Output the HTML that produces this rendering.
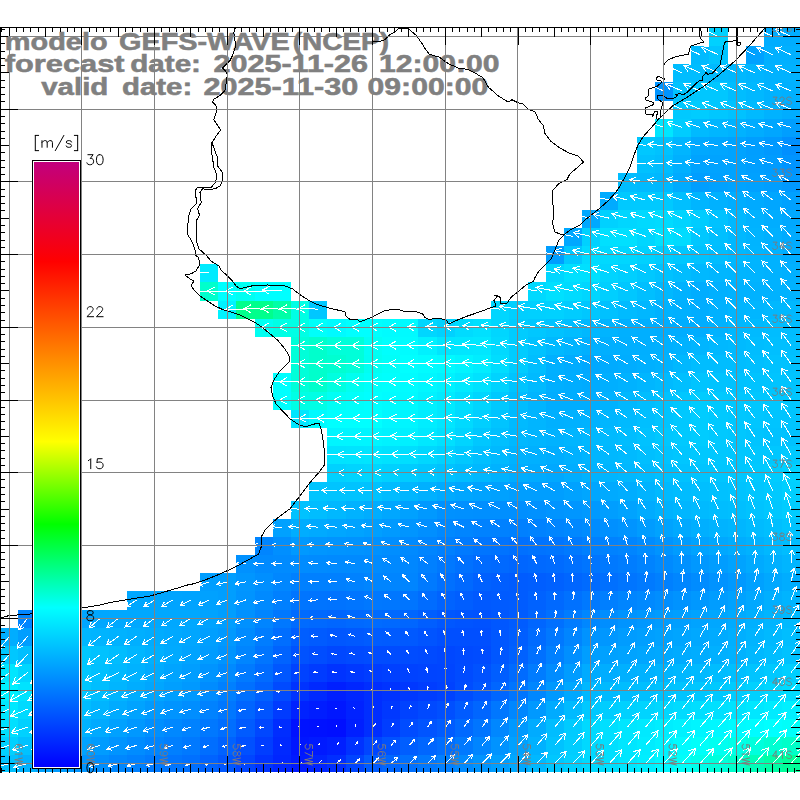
<!DOCTYPE html>
<html><head><meta charset="utf-8"><title>GEFS-WAVE wind</title>
<style>html,body{margin:0;padding:0;background:#fff}svg{display:block}text{font-family:"Liberation Sans",sans-serif}</style></head><body>
<svg width="800" height="800" viewBox="0 0 800 800">
<defs><linearGradient id="cb" x1="0" y1="1" x2="0" y2="0">
<stop offset="0.0000" stop-color="rgb(0,0,255)"/>
<stop offset="0.2632" stop-color="rgb(0,255,255)"/>
<stop offset="0.4013" stop-color="rgb(0,255,0)"/>
<stop offset="0.5378" stop-color="rgb(255,255,0)"/>
<stop offset="0.8355" stop-color="rgb(255,0,0)"/>
<stop offset="1.0000" stop-color="rgb(194,0,125)"/>
</linearGradient><clipPath id="mapclip"><rect x="0" y="28" width="800" height="744"/></clipPath></defs>
<rect x="0" y="0" width="800" height="800" fill="#fff"/>
<g shape-rendering="crispEdges">
<rect x="709" y="28" width="19" height="18" fill="#00d1ff"/>
<rect x="764" y="28" width="36" height="18" fill="#00adff"/>
<rect x="691" y="46" width="18" height="18" fill="#00baff"/>
<rect x="709" y="46" width="19" height="18" fill="#00c4ff"/>
<rect x="746" y="46" width="18" height="18" fill="#00a1ff"/>
<rect x="764" y="46" width="36" height="18" fill="#00b0ff"/>
<rect x="673" y="64" width="36" height="18" fill="#00bdff"/>
<rect x="709" y="64" width="19" height="18" fill="#00baff"/>
<rect x="728" y="64" width="18" height="18" fill="#00b8ff"/>
<rect x="746" y="64" width="18" height="18" fill="#00b5ff"/>
<rect x="764" y="64" width="36" height="18" fill="#00b2ff"/>
<rect x="655" y="82" width="18" height="19" fill="#0094ff"/>
<rect x="673" y="82" width="18" height="19" fill="#00c3ff"/>
<rect x="691" y="82" width="37" height="19" fill="#00c7ff"/>
<rect x="728" y="82" width="18" height="19" fill="#00bdff"/>
<rect x="746" y="82" width="18" height="19" fill="#00b8ff"/>
<rect x="764" y="82" width="18" height="19" fill="#00b2ff"/>
<rect x="782" y="82" width="18" height="19" fill="#00b0ff"/>
<rect x="673" y="101" width="18" height="18" fill="#00c9ff"/>
<rect x="691" y="101" width="18" height="18" fill="#00ccff"/>
<rect x="709" y="101" width="19" height="18" fill="#00c7ff"/>
<rect x="728" y="101" width="18" height="18" fill="#00c2ff"/>
<rect x="746" y="101" width="18" height="18" fill="#00baff"/>
<rect x="764" y="101" width="18" height="18" fill="#00b2ff"/>
<rect x="782" y="101" width="18" height="18" fill="#00adff"/>
<rect x="655" y="119" width="18" height="18" fill="#00e6ff"/>
<rect x="673" y="119" width="18" height="18" fill="#00ccff"/>
<rect x="691" y="119" width="18" height="18" fill="#00baff"/>
<rect x="709" y="119" width="19" height="18" fill="#00b6ff"/>
<rect x="728" y="119" width="18" height="18" fill="#00b2ff"/>
<rect x="746" y="119" width="18" height="18" fill="#00acff"/>
<rect x="764" y="119" width="18" height="18" fill="#00a6ff"/>
<rect x="782" y="119" width="18" height="18" fill="#009eff"/>
<rect x="637" y="137" width="18" height="18" fill="#00c7ff"/>
<rect x="655" y="137" width="18" height="18" fill="#00c2ff"/>
<rect x="673" y="137" width="18" height="18" fill="#00b5ff"/>
<rect x="691" y="137" width="18" height="18" fill="#00a8ff"/>
<rect x="709" y="137" width="19" height="18" fill="#00a6ff"/>
<rect x="728" y="137" width="18" height="18" fill="#00a3ff"/>
<rect x="746" y="137" width="18" height="18" fill="#009eff"/>
<rect x="764" y="137" width="18" height="18" fill="#0099ff"/>
<rect x="782" y="137" width="18" height="18" fill="#008fff"/>
<rect x="637" y="155" width="18" height="18" fill="#00c1ff"/>
<rect x="655" y="155" width="18" height="18" fill="#00bdff"/>
<rect x="673" y="155" width="18" height="18" fill="#00b0ff"/>
<rect x="691" y="155" width="55" height="18" fill="#00a3ff"/>
<rect x="746" y="155" width="18" height="18" fill="#009fff"/>
<rect x="764" y="155" width="18" height="18" fill="#009cff"/>
<rect x="782" y="155" width="18" height="18" fill="#0094ff"/>
<rect x="618" y="173" width="19" height="19" fill="#00bdff"/>
<rect x="637" y="173" width="18" height="19" fill="#00baff"/>
<rect x="655" y="173" width="18" height="19" fill="#00b8ff"/>
<rect x="673" y="173" width="18" height="19" fill="#00abff"/>
<rect x="691" y="173" width="18" height="19" fill="#009eff"/>
<rect x="709" y="173" width="19" height="19" fill="#00a1ff"/>
<rect x="728" y="173" width="18" height="19" fill="#00a3ff"/>
<rect x="746" y="173" width="18" height="19" fill="#00a1ff"/>
<rect x="764" y="173" width="18" height="19" fill="#009eff"/>
<rect x="782" y="173" width="18" height="19" fill="#0099ff"/>
<rect x="600" y="192" width="18" height="18" fill="#00abff"/>
<rect x="618" y="192" width="55" height="18" fill="#00c9ff"/>
<rect x="673" y="192" width="18" height="18" fill="#00bfff"/>
<rect x="691" y="192" width="18" height="18" fill="#00b5ff"/>
<rect x="709" y="192" width="19" height="18" fill="#00b1ff"/>
<rect x="728" y="192" width="18" height="18" fill="#00adff"/>
<rect x="746" y="192" width="18" height="18" fill="#00aaff"/>
<rect x="764" y="192" width="18" height="18" fill="#00a6ff"/>
<rect x="782" y="192" width="18" height="18" fill="#00a1ff"/>
<rect x="582" y="210" width="18" height="18" fill="#00a8ff"/>
<rect x="600" y="210" width="18" height="18" fill="#00d1ff"/>
<rect x="618" y="210" width="19" height="18" fill="#00d6ff"/>
<rect x="637" y="210" width="18" height="18" fill="#00d9ff"/>
<rect x="655" y="210" width="18" height="18" fill="#00dbff"/>
<rect x="673" y="210" width="18" height="18" fill="#00d4ff"/>
<rect x="691" y="210" width="18" height="18" fill="#00ccff"/>
<rect x="709" y="210" width="19" height="18" fill="#00c2ff"/>
<rect x="728" y="210" width="18" height="18" fill="#00b8ff"/>
<rect x="746" y="210" width="18" height="18" fill="#00b2ff"/>
<rect x="764" y="210" width="18" height="18" fill="#00adff"/>
<rect x="782" y="210" width="18" height="18" fill="#00a8ff"/>
<rect x="564" y="228" width="18" height="18" fill="#00a8ff"/>
<rect x="582" y="228" width="18" height="18" fill="#00d1ff"/>
<rect x="600" y="228" width="37" height="18" fill="#00e0ff"/>
<rect x="637" y="228" width="18" height="18" fill="#00d6ff"/>
<rect x="655" y="228" width="18" height="18" fill="#00e0ff"/>
<rect x="673" y="228" width="18" height="18" fill="#00dbff"/>
<rect x="691" y="228" width="18" height="18" fill="#00c7ff"/>
<rect x="709" y="228" width="19" height="18" fill="#00bfff"/>
<rect x="728" y="228" width="18" height="18" fill="#00b8ff"/>
<rect x="746" y="228" width="18" height="18" fill="#00b4ff"/>
<rect x="764" y="228" width="18" height="18" fill="#00b0ff"/>
<rect x="782" y="228" width="18" height="18" fill="#00abff"/>
<rect x="546" y="246" width="18" height="18" fill="#009eff"/>
<rect x="564" y="246" width="18" height="18" fill="#00c7ff"/>
<rect x="582" y="246" width="18" height="18" fill="#00dbff"/>
<rect x="600" y="246" width="18" height="18" fill="#00d9ff"/>
<rect x="618" y="246" width="19" height="18" fill="#00d6ff"/>
<rect x="637" y="246" width="18" height="18" fill="#00d1ff"/>
<rect x="655" y="246" width="18" height="18" fill="#00ccff"/>
<rect x="673" y="246" width="18" height="18" fill="#00c7ff"/>
<rect x="691" y="246" width="18" height="18" fill="#00c2ff"/>
<rect x="709" y="246" width="19" height="18" fill="#00bdff"/>
<rect x="728" y="246" width="18" height="18" fill="#00b8ff"/>
<rect x="746" y="246" width="18" height="18" fill="#00b5ff"/>
<rect x="764" y="246" width="18" height="18" fill="#00b2ff"/>
<rect x="782" y="246" width="18" height="18" fill="#00adff"/>
<rect x="200" y="264" width="18" height="18" fill="#00ebff"/>
<rect x="546" y="264" width="18" height="18" fill="#00d6ff"/>
<rect x="564" y="264" width="36" height="18" fill="#00e0ff"/>
<rect x="600" y="264" width="18" height="18" fill="#00d4ff"/>
<rect x="618" y="264" width="19" height="18" fill="#00cfff"/>
<rect x="637" y="264" width="18" height="18" fill="#00c8ff"/>
<rect x="655" y="264" width="18" height="18" fill="#00c2ff"/>
<rect x="673" y="264" width="18" height="18" fill="#00bdff"/>
<rect x="691" y="264" width="18" height="18" fill="#00b8ff"/>
<rect x="709" y="264" width="19" height="18" fill="#00b6ff"/>
<rect x="728" y="264" width="18" height="18" fill="#00b5ff"/>
<rect x="746" y="264" width="18" height="18" fill="#00b4ff"/>
<rect x="764" y="264" width="18" height="18" fill="#00b2ff"/>
<rect x="782" y="264" width="18" height="18" fill="#00b0ff"/>
<rect x="200" y="282" width="18" height="19" fill="#00ffcc"/>
<rect x="218" y="282" width="18" height="19" fill="#00ffff"/>
<rect x="236" y="282" width="19" height="19" fill="#00fff2"/>
<rect x="255" y="282" width="36" height="19" fill="#00ffff"/>
<rect x="528" y="282" width="18" height="19" fill="#00d9ff"/>
<rect x="546" y="282" width="18" height="19" fill="#00e0ff"/>
<rect x="564" y="282" width="18" height="19" fill="#00dbff"/>
<rect x="582" y="282" width="18" height="19" fill="#00d6ff"/>
<rect x="600" y="282" width="18" height="19" fill="#00cfff"/>
<rect x="618" y="282" width="19" height="19" fill="#00c7ff"/>
<rect x="637" y="282" width="18" height="19" fill="#00bfff"/>
<rect x="655" y="282" width="18" height="19" fill="#00b8ff"/>
<rect x="673" y="282" width="18" height="19" fill="#00b2ff"/>
<rect x="691" y="282" width="18" height="19" fill="#00adff"/>
<rect x="709" y="282" width="19" height="19" fill="#00b0ff"/>
<rect x="728" y="282" width="72" height="19" fill="#00b2ff"/>
<rect x="218" y="301" width="18" height="18" fill="#00f2ff"/>
<rect x="236" y="301" width="37" height="18" fill="#00ff8c"/>
<rect x="273" y="301" width="18" height="18" fill="#00ffa6"/>
<rect x="291" y="301" width="18" height="18" fill="#00ffe5"/>
<rect x="309" y="301" width="18" height="18" fill="#00c7ff"/>
<rect x="491" y="301" width="18" height="18" fill="#00d6ff"/>
<rect x="509" y="301" width="19" height="18" fill="#00cfff"/>
<rect x="528" y="301" width="18" height="18" fill="#00d0ff"/>
<rect x="546" y="301" width="18" height="18" fill="#00d1ff"/>
<rect x="564" y="301" width="18" height="18" fill="#00ccff"/>
<rect x="582" y="301" width="18" height="18" fill="#00c7ff"/>
<rect x="600" y="301" width="18" height="18" fill="#00c1ff"/>
<rect x="618" y="301" width="19" height="18" fill="#00bbff"/>
<rect x="637" y="301" width="18" height="18" fill="#00b7ff"/>
<rect x="655" y="301" width="18" height="18" fill="#00b2ff"/>
<rect x="673" y="301" width="18" height="18" fill="#00b0ff"/>
<rect x="691" y="301" width="18" height="18" fill="#00adff"/>
<rect x="709" y="301" width="19" height="18" fill="#00b1ff"/>
<rect x="728" y="301" width="18" height="18" fill="#00b5ff"/>
<rect x="746" y="301" width="18" height="18" fill="#00b6ff"/>
<rect x="764" y="301" width="36" height="18" fill="#00b8ff"/>
<rect x="255" y="319" width="18" height="18" fill="#00fff2"/>
<rect x="273" y="319" width="36" height="18" fill="#00ffe5"/>
<rect x="309" y="319" width="18" height="18" fill="#00fffa"/>
<rect x="327" y="319" width="19" height="18" fill="#00faff"/>
<rect x="346" y="319" width="36" height="18" fill="#00ffff"/>
<rect x="382" y="319" width="18" height="18" fill="#00fcff"/>
<rect x="400" y="319" width="18" height="18" fill="#00faff"/>
<rect x="418" y="319" width="19" height="18" fill="#00d6ff"/>
<rect x="437" y="319" width="18" height="18" fill="#00d1ff"/>
<rect x="455" y="319" width="18" height="18" fill="#00dbff"/>
<rect x="473" y="319" width="18" height="18" fill="#00e0ff"/>
<rect x="491" y="319" width="18" height="18" fill="#00d6ff"/>
<rect x="509" y="319" width="19" height="18" fill="#00ccff"/>
<rect x="528" y="319" width="18" height="18" fill="#00c7ff"/>
<rect x="546" y="319" width="18" height="18" fill="#00c2ff"/>
<rect x="564" y="319" width="18" height="18" fill="#00bdff"/>
<rect x="582" y="319" width="18" height="18" fill="#00b8ff"/>
<rect x="600" y="319" width="18" height="18" fill="#00b4ff"/>
<rect x="618" y="319" width="19" height="18" fill="#00b0ff"/>
<rect x="637" y="319" width="18" height="18" fill="#00afff"/>
<rect x="655" y="319" width="54" height="18" fill="#00adff"/>
<rect x="709" y="319" width="19" height="18" fill="#00b2ff"/>
<rect x="728" y="319" width="18" height="18" fill="#00b8ff"/>
<rect x="746" y="319" width="18" height="18" fill="#00baff"/>
<rect x="764" y="319" width="36" height="18" fill="#00bdff"/>
<rect x="291" y="337" width="18" height="18" fill="#00ffd9"/>
<rect x="309" y="337" width="18" height="18" fill="#00ffcc"/>
<rect x="327" y="337" width="37" height="18" fill="#00ffd9"/>
<rect x="364" y="337" width="18" height="18" fill="#00fff5"/>
<rect x="382" y="337" width="18" height="18" fill="#00fffd"/>
<rect x="400" y="337" width="18" height="18" fill="#00fcff"/>
<rect x="418" y="337" width="19" height="18" fill="#00f1ff"/>
<rect x="437" y="337" width="18" height="18" fill="#00e5ff"/>
<rect x="455" y="337" width="18" height="18" fill="#00e6ff"/>
<rect x="473" y="337" width="18" height="18" fill="#00e7ff"/>
<rect x="491" y="337" width="18" height="18" fill="#00d9ff"/>
<rect x="509" y="337" width="19" height="18" fill="#00ccff"/>
<rect x="528" y="337" width="18" height="18" fill="#00c2ff"/>
<rect x="546" y="337" width="18" height="18" fill="#00b9ff"/>
<rect x="564" y="337" width="18" height="18" fill="#00b4ff"/>
<rect x="582" y="337" width="18" height="18" fill="#00b0ff"/>
<rect x="600" y="337" width="55" height="18" fill="#00afff"/>
<rect x="655" y="337" width="18" height="18" fill="#00b0ff"/>
<rect x="673" y="337" width="18" height="18" fill="#00b2ff"/>
<rect x="691" y="337" width="18" height="18" fill="#00b5ff"/>
<rect x="709" y="337" width="19" height="18" fill="#00b8ff"/>
<rect x="728" y="337" width="18" height="18" fill="#00baff"/>
<rect x="746" y="337" width="18" height="18" fill="#00bdff"/>
<rect x="764" y="337" width="36" height="18" fill="#00bfff"/>
<rect x="291" y="355" width="18" height="18" fill="#00ffd9"/>
<rect x="309" y="355" width="18" height="18" fill="#00ffcc"/>
<rect x="327" y="355" width="19" height="18" fill="#00ffd1"/>
<rect x="346" y="355" width="18" height="18" fill="#00ffd9"/>
<rect x="364" y="355" width="18" height="18" fill="#00fff2"/>
<rect x="382" y="355" width="18" height="18" fill="#00fff9"/>
<rect x="400" y="355" width="18" height="18" fill="#00ffff"/>
<rect x="418" y="355" width="19" height="18" fill="#00fcff"/>
<rect x="437" y="355" width="18" height="18" fill="#00faff"/>
<rect x="455" y="355" width="18" height="18" fill="#00f4ff"/>
<rect x="473" y="355" width="18" height="18" fill="#00edff"/>
<rect x="491" y="355" width="18" height="18" fill="#00ddff"/>
<rect x="509" y="355" width="19" height="18" fill="#00ccff"/>
<rect x="528" y="355" width="18" height="18" fill="#00beff"/>
<rect x="546" y="355" width="18" height="18" fill="#00b0ff"/>
<rect x="564" y="355" width="18" height="18" fill="#00acff"/>
<rect x="582" y="355" width="18" height="18" fill="#00a8ff"/>
<rect x="600" y="355" width="18" height="18" fill="#00abff"/>
<rect x="618" y="355" width="19" height="18" fill="#00adff"/>
<rect x="637" y="355" width="18" height="18" fill="#00b0ff"/>
<rect x="655" y="355" width="18" height="18" fill="#00b2ff"/>
<rect x="673" y="355" width="18" height="18" fill="#00b8ff"/>
<rect x="691" y="355" width="55" height="18" fill="#00bdff"/>
<rect x="746" y="355" width="18" height="18" fill="#00bfff"/>
<rect x="764" y="355" width="36" height="18" fill="#00c2ff"/>
<rect x="273" y="373" width="18" height="19" fill="#00ffff"/>
<rect x="291" y="373" width="18" height="19" fill="#00ffd9"/>
<rect x="309" y="373" width="18" height="19" fill="#00ffcc"/>
<rect x="327" y="373" width="19" height="19" fill="#00ffe0"/>
<rect x="346" y="373" width="18" height="19" fill="#00fff0"/>
<rect x="364" y="373" width="18" height="19" fill="#00fffa"/>
<rect x="382" y="373" width="18" height="19" fill="#00fffd"/>
<rect x="400" y="373" width="18" height="19" fill="#00fcff"/>
<rect x="418" y="373" width="19" height="19" fill="#00f7ff"/>
<rect x="437" y="373" width="18" height="19" fill="#00f2ff"/>
<rect x="455" y="373" width="18" height="19" fill="#00eaff"/>
<rect x="473" y="373" width="18" height="19" fill="#00e2ff"/>
<rect x="491" y="373" width="18" height="19" fill="#00d3ff"/>
<rect x="509" y="373" width="19" height="19" fill="#00c4ff"/>
<rect x="528" y="373" width="18" height="19" fill="#00baff"/>
<rect x="546" y="373" width="18" height="19" fill="#00afff"/>
<rect x="564" y="373" width="18" height="19" fill="#00adff"/>
<rect x="582" y="373" width="18" height="19" fill="#00abff"/>
<rect x="600" y="373" width="18" height="19" fill="#00afff"/>
<rect x="618" y="373" width="19" height="19" fill="#00b2ff"/>
<rect x="637" y="373" width="18" height="19" fill="#00b6ff"/>
<rect x="655" y="373" width="18" height="19" fill="#00baff"/>
<rect x="673" y="373" width="18" height="19" fill="#00bfff"/>
<rect x="691" y="373" width="18" height="19" fill="#00c4ff"/>
<rect x="709" y="373" width="19" height="19" fill="#00c3ff"/>
<rect x="728" y="373" width="18" height="19" fill="#00c2ff"/>
<rect x="746" y="373" width="18" height="19" fill="#00c3ff"/>
<rect x="764" y="373" width="36" height="19" fill="#00c4ff"/>
<rect x="273" y="392" width="18" height="18" fill="#00ffff"/>
<rect x="291" y="392" width="36" height="18" fill="#00ffe5"/>
<rect x="327" y="392" width="19" height="18" fill="#00fff5"/>
<rect x="346" y="392" width="18" height="18" fill="#00fffa"/>
<rect x="364" y="392" width="18" height="18" fill="#00ffff"/>
<rect x="382" y="392" width="18" height="18" fill="#00fcff"/>
<rect x="400" y="392" width="18" height="18" fill="#00faff"/>
<rect x="418" y="392" width="19" height="18" fill="#00f2ff"/>
<rect x="437" y="392" width="18" height="18" fill="#00ebff"/>
<rect x="455" y="392" width="18" height="18" fill="#00e0ff"/>
<rect x="473" y="392" width="18" height="18" fill="#00d6ff"/>
<rect x="491" y="392" width="18" height="18" fill="#00c9ff"/>
<rect x="509" y="392" width="19" height="18" fill="#00bdff"/>
<rect x="528" y="392" width="18" height="18" fill="#00b5ff"/>
<rect x="546" y="392" width="54" height="18" fill="#00adff"/>
<rect x="600" y="392" width="18" height="18" fill="#00b2ff"/>
<rect x="618" y="392" width="19" height="18" fill="#00b8ff"/>
<rect x="637" y="392" width="18" height="18" fill="#00bdff"/>
<rect x="655" y="392" width="18" height="18" fill="#00c2ff"/>
<rect x="673" y="392" width="18" height="18" fill="#00c7ff"/>
<rect x="691" y="392" width="18" height="18" fill="#00ccff"/>
<rect x="709" y="392" width="19" height="18" fill="#00c9ff"/>
<rect x="728" y="392" width="72" height="18" fill="#00c7ff"/>
<rect x="291" y="410" width="18" height="18" fill="#00e6ff"/>
<rect x="309" y="410" width="18" height="18" fill="#00faff"/>
<rect x="327" y="410" width="55" height="18" fill="#00ffff"/>
<rect x="382" y="410" width="18" height="18" fill="#00f7ff"/>
<rect x="400" y="410" width="18" height="18" fill="#00f5ff"/>
<rect x="418" y="410" width="19" height="18" fill="#00edff"/>
<rect x="437" y="410" width="18" height="18" fill="#00e6ff"/>
<rect x="455" y="410" width="18" height="18" fill="#00daff"/>
<rect x="473" y="410" width="18" height="18" fill="#00cfff"/>
<rect x="491" y="410" width="18" height="18" fill="#00c4ff"/>
<rect x="509" y="410" width="19" height="18" fill="#00baff"/>
<rect x="528" y="410" width="18" height="18" fill="#00b5ff"/>
<rect x="546" y="410" width="18" height="18" fill="#00b0ff"/>
<rect x="564" y="410" width="18" height="18" fill="#00b1ff"/>
<rect x="582" y="410" width="18" height="18" fill="#00b2ff"/>
<rect x="600" y="410" width="18" height="18" fill="#00b6ff"/>
<rect x="618" y="410" width="19" height="18" fill="#00baff"/>
<rect x="637" y="410" width="18" height="18" fill="#00bfff"/>
<rect x="655" y="410" width="18" height="18" fill="#00c4ff"/>
<rect x="673" y="410" width="18" height="18" fill="#00c8ff"/>
<rect x="691" y="410" width="18" height="18" fill="#00ccff"/>
<rect x="709" y="410" width="19" height="18" fill="#00c9ff"/>
<rect x="728" y="410" width="18" height="18" fill="#00c7ff"/>
<rect x="746" y="410" width="18" height="18" fill="#00c6ff"/>
<rect x="764" y="410" width="36" height="18" fill="#00c4ff"/>
<rect x="327" y="428" width="55" height="18" fill="#00f5ff"/>
<rect x="382" y="428" width="18" height="18" fill="#00f2ff"/>
<rect x="400" y="428" width="18" height="18" fill="#00f0ff"/>
<rect x="418" y="428" width="19" height="18" fill="#00e8ff"/>
<rect x="437" y="428" width="18" height="18" fill="#00e0ff"/>
<rect x="455" y="428" width="18" height="18" fill="#00d4ff"/>
<rect x="473" y="428" width="18" height="18" fill="#00c7ff"/>
<rect x="491" y="428" width="18" height="18" fill="#00bfff"/>
<rect x="509" y="428" width="19" height="18" fill="#00b8ff"/>
<rect x="528" y="428" width="18" height="18" fill="#00b5ff"/>
<rect x="546" y="428" width="18" height="18" fill="#00b2ff"/>
<rect x="564" y="428" width="18" height="18" fill="#00b5ff"/>
<rect x="582" y="428" width="18" height="18" fill="#00b8ff"/>
<rect x="600" y="428" width="18" height="18" fill="#00baff"/>
<rect x="618" y="428" width="19" height="18" fill="#00bdff"/>
<rect x="637" y="428" width="18" height="18" fill="#00c2ff"/>
<rect x="655" y="428" width="18" height="18" fill="#00c7ff"/>
<rect x="673" y="428" width="18" height="18" fill="#00c9ff"/>
<rect x="691" y="428" width="18" height="18" fill="#00ccff"/>
<rect x="709" y="428" width="19" height="18" fill="#00c9ff"/>
<rect x="728" y="428" width="18" height="18" fill="#00c7ff"/>
<rect x="746" y="428" width="18" height="18" fill="#00c4ff"/>
<rect x="764" y="428" width="36" height="18" fill="#00c2ff"/>
<rect x="327" y="446" width="19" height="18" fill="#00e3ff"/>
<rect x="346" y="446" width="18" height="18" fill="#00e4ff"/>
<rect x="364" y="446" width="18" height="18" fill="#00e5ff"/>
<rect x="382" y="446" width="18" height="18" fill="#00e2ff"/>
<rect x="400" y="446" width="18" height="18" fill="#00deff"/>
<rect x="418" y="446" width="19" height="18" fill="#00d7ff"/>
<rect x="437" y="446" width="18" height="18" fill="#00d1ff"/>
<rect x="455" y="446" width="18" height="18" fill="#00c8ff"/>
<rect x="473" y="446" width="18" height="18" fill="#00bfff"/>
<rect x="491" y="446" width="18" height="18" fill="#00b9ff"/>
<rect x="509" y="446" width="19" height="18" fill="#00b2ff"/>
<rect x="528" y="446" width="18" height="18" fill="#00b0ff"/>
<rect x="546" y="446" width="18" height="18" fill="#00adff"/>
<rect x="564" y="446" width="18" height="18" fill="#00b1ff"/>
<rect x="582" y="446" width="18" height="18" fill="#00b5ff"/>
<rect x="600" y="446" width="18" height="18" fill="#00b8ff"/>
<rect x="618" y="446" width="19" height="18" fill="#00baff"/>
<rect x="637" y="446" width="18" height="18" fill="#00bfff"/>
<rect x="655" y="446" width="18" height="18" fill="#00c3ff"/>
<rect x="673" y="446" width="18" height="18" fill="#00c6ff"/>
<rect x="691" y="446" width="37" height="18" fill="#00c8ff"/>
<rect x="728" y="446" width="54" height="18" fill="#00c7ff"/>
<rect x="782" y="446" width="18" height="18" fill="#00c9ff"/>
<rect x="327" y="464" width="19" height="18" fill="#00d1ff"/>
<rect x="346" y="464" width="18" height="18" fill="#00d4ff"/>
<rect x="364" y="464" width="18" height="18" fill="#00d6ff"/>
<rect x="382" y="464" width="18" height="18" fill="#00d1ff"/>
<rect x="400" y="464" width="18" height="18" fill="#00ccff"/>
<rect x="418" y="464" width="19" height="18" fill="#00c7ff"/>
<rect x="437" y="464" width="18" height="18" fill="#00c2ff"/>
<rect x="455" y="464" width="18" height="18" fill="#00bdff"/>
<rect x="473" y="464" width="18" height="18" fill="#00b8ff"/>
<rect x="491" y="464" width="18" height="18" fill="#00b2ff"/>
<rect x="509" y="464" width="19" height="18" fill="#00adff"/>
<rect x="528" y="464" width="18" height="18" fill="#00abff"/>
<rect x="546" y="464" width="18" height="18" fill="#00a8ff"/>
<rect x="564" y="464" width="18" height="18" fill="#00adff"/>
<rect x="582" y="464" width="18" height="18" fill="#00b2ff"/>
<rect x="600" y="464" width="18" height="18" fill="#00b5ff"/>
<rect x="618" y="464" width="19" height="18" fill="#00b8ff"/>
<rect x="637" y="464" width="18" height="18" fill="#00bbff"/>
<rect x="655" y="464" width="18" height="18" fill="#00bfff"/>
<rect x="673" y="464" width="18" height="18" fill="#00c2ff"/>
<rect x="691" y="464" width="18" height="18" fill="#00c4ff"/>
<rect x="709" y="464" width="19" height="18" fill="#00c6ff"/>
<rect x="728" y="464" width="18" height="18" fill="#00c7ff"/>
<rect x="746" y="464" width="18" height="18" fill="#00c9ff"/>
<rect x="764" y="464" width="18" height="18" fill="#00ccff"/>
<rect x="782" y="464" width="18" height="18" fill="#00d1ff"/>
<rect x="309" y="482" width="18" height="19" fill="#00c5ff"/>
<rect x="327" y="482" width="19" height="19" fill="#00c4ff"/>
<rect x="346" y="482" width="18" height="19" fill="#00c3ff"/>
<rect x="364" y="482" width="18" height="19" fill="#00c2ff"/>
<rect x="382" y="482" width="18" height="19" fill="#00bcff"/>
<rect x="400" y="482" width="18" height="19" fill="#00b6ff"/>
<rect x="418" y="482" width="19" height="19" fill="#00b0ff"/>
<rect x="437" y="482" width="18" height="19" fill="#00aaff"/>
<rect x="455" y="482" width="18" height="19" fill="#00a6ff"/>
<rect x="473" y="482" width="18" height="19" fill="#00a3ff"/>
<rect x="491" y="482" width="18" height="19" fill="#00a1ff"/>
<rect x="509" y="482" width="55" height="19" fill="#009eff"/>
<rect x="564" y="482" width="18" height="19" fill="#00a2ff"/>
<rect x="582" y="482" width="18" height="19" fill="#00a6ff"/>
<rect x="600" y="482" width="18" height="19" fill="#00aaff"/>
<rect x="618" y="482" width="19" height="19" fill="#00adff"/>
<rect x="637" y="482" width="18" height="19" fill="#00b3ff"/>
<rect x="655" y="482" width="18" height="19" fill="#00b9ff"/>
<rect x="673" y="482" width="18" height="19" fill="#00bcff"/>
<rect x="691" y="482" width="18" height="19" fill="#00bfff"/>
<rect x="709" y="482" width="19" height="19" fill="#00c1ff"/>
<rect x="728" y="482" width="18" height="19" fill="#00c3ff"/>
<rect x="746" y="482" width="18" height="19" fill="#00c6ff"/>
<rect x="764" y="482" width="18" height="19" fill="#00c9ff"/>
<rect x="782" y="482" width="18" height="19" fill="#00cfff"/>
<rect x="291" y="501" width="18" height="18" fill="#00c2ff"/>
<rect x="309" y="501" width="18" height="18" fill="#00bdff"/>
<rect x="327" y="501" width="19" height="18" fill="#00b8ff"/>
<rect x="346" y="501" width="18" height="18" fill="#00b2ff"/>
<rect x="364" y="501" width="18" height="18" fill="#00adff"/>
<rect x="382" y="501" width="18" height="18" fill="#00a7ff"/>
<rect x="400" y="501" width="18" height="18" fill="#00a1ff"/>
<rect x="418" y="501" width="19" height="18" fill="#0099ff"/>
<rect x="437" y="501" width="18" height="18" fill="#0091ff"/>
<rect x="455" y="501" width="18" height="18" fill="#0090ff"/>
<rect x="473" y="501" width="55" height="18" fill="#008fff"/>
<rect x="528" y="501" width="18" height="18" fill="#0091ff"/>
<rect x="546" y="501" width="18" height="18" fill="#0094ff"/>
<rect x="564" y="501" width="18" height="18" fill="#0096ff"/>
<rect x="582" y="501" width="18" height="18" fill="#0099ff"/>
<rect x="600" y="501" width="18" height="18" fill="#009eff"/>
<rect x="618" y="501" width="19" height="18" fill="#00a3ff"/>
<rect x="637" y="501" width="18" height="18" fill="#00abff"/>
<rect x="655" y="501" width="18" height="18" fill="#00b2ff"/>
<rect x="673" y="501" width="18" height="18" fill="#00b6ff"/>
<rect x="691" y="501" width="18" height="18" fill="#00baff"/>
<rect x="709" y="501" width="19" height="18" fill="#00bdff"/>
<rect x="728" y="501" width="18" height="18" fill="#00bfff"/>
<rect x="746" y="501" width="18" height="18" fill="#00c3ff"/>
<rect x="764" y="501" width="18" height="18" fill="#00c7ff"/>
<rect x="782" y="501" width="18" height="18" fill="#00ccff"/>
<rect x="273" y="519" width="18" height="18" fill="#00a1ff"/>
<rect x="291" y="519" width="18" height="18" fill="#00adff"/>
<rect x="309" y="519" width="18" height="18" fill="#00aaff"/>
<rect x="327" y="519" width="19" height="18" fill="#00a6ff"/>
<rect x="346" y="519" width="18" height="18" fill="#00a3ff"/>
<rect x="364" y="519" width="18" height="18" fill="#009fff"/>
<rect x="382" y="519" width="18" height="18" fill="#009aff"/>
<rect x="400" y="519" width="18" height="18" fill="#0095ff"/>
<rect x="418" y="519" width="19" height="18" fill="#008fff"/>
<rect x="437" y="519" width="18" height="18" fill="#0088ff"/>
<rect x="455" y="519" width="18" height="18" fill="#0085ff"/>
<rect x="473" y="519" width="18" height="18" fill="#0082ff"/>
<rect x="491" y="519" width="18" height="18" fill="#0081ff"/>
<rect x="509" y="519" width="19" height="18" fill="#0080ff"/>
<rect x="528" y="519" width="18" height="18" fill="#0082ff"/>
<rect x="546" y="519" width="18" height="18" fill="#0085ff"/>
<rect x="564" y="519" width="18" height="18" fill="#0088ff"/>
<rect x="582" y="519" width="18" height="18" fill="#008cff"/>
<rect x="600" y="519" width="18" height="18" fill="#0090ff"/>
<rect x="618" y="519" width="19" height="18" fill="#0094ff"/>
<rect x="637" y="519" width="18" height="18" fill="#009cff"/>
<rect x="655" y="519" width="18" height="18" fill="#00a3ff"/>
<rect x="673" y="519" width="18" height="18" fill="#00a9ff"/>
<rect x="691" y="519" width="18" height="18" fill="#00afff"/>
<rect x="709" y="519" width="19" height="18" fill="#00b3ff"/>
<rect x="728" y="519" width="18" height="18" fill="#00b6ff"/>
<rect x="746" y="519" width="18" height="18" fill="#00bbff"/>
<rect x="764" y="519" width="18" height="18" fill="#00bfff"/>
<rect x="782" y="519" width="18" height="18" fill="#00c4ff"/>
<rect x="255" y="537" width="18" height="18" fill="#0085ff"/>
<rect x="273" y="537" width="18" height="18" fill="#008fff"/>
<rect x="291" y="537" width="18" height="18" fill="#0099ff"/>
<rect x="309" y="537" width="18" height="18" fill="#0096ff"/>
<rect x="327" y="537" width="19" height="18" fill="#0094ff"/>
<rect x="346" y="537" width="18" height="18" fill="#0093ff"/>
<rect x="364" y="537" width="18" height="18" fill="#0091ff"/>
<rect x="382" y="537" width="18" height="18" fill="#008eff"/>
<rect x="400" y="537" width="18" height="18" fill="#008aff"/>
<rect x="418" y="537" width="19" height="18" fill="#0085ff"/>
<rect x="437" y="537" width="18" height="18" fill="#0080ff"/>
<rect x="455" y="537" width="18" height="18" fill="#007aff"/>
<rect x="473" y="537" width="18" height="18" fill="#0075ff"/>
<rect x="491" y="537" width="18" height="18" fill="#0073ff"/>
<rect x="509" y="537" width="19" height="18" fill="#0070ff"/>
<rect x="528" y="537" width="18" height="18" fill="#0073ff"/>
<rect x="546" y="537" width="18" height="18" fill="#0075ff"/>
<rect x="564" y="537" width="18" height="18" fill="#007aff"/>
<rect x="582" y="537" width="18" height="18" fill="#0080ff"/>
<rect x="600" y="537" width="18" height="18" fill="#0082ff"/>
<rect x="618" y="537" width="19" height="18" fill="#0085ff"/>
<rect x="637" y="537" width="18" height="18" fill="#008cff"/>
<rect x="655" y="537" width="18" height="18" fill="#0094ff"/>
<rect x="673" y="537" width="18" height="18" fill="#009cff"/>
<rect x="691" y="537" width="18" height="18" fill="#00a3ff"/>
<rect x="709" y="537" width="19" height="18" fill="#00a8ff"/>
<rect x="728" y="537" width="18" height="18" fill="#00adff"/>
<rect x="746" y="537" width="18" height="18" fill="#00b2ff"/>
<rect x="764" y="537" width="18" height="18" fill="#00b8ff"/>
<rect x="782" y="537" width="18" height="18" fill="#00bdff"/>
<rect x="236" y="555" width="19" height="18" fill="#0091ff"/>
<rect x="255" y="555" width="18" height="18" fill="#008aff"/>
<rect x="273" y="555" width="18" height="18" fill="#008bff"/>
<rect x="291" y="555" width="18" height="18" fill="#008cff"/>
<rect x="309" y="555" width="18" height="18" fill="#008bff"/>
<rect x="327" y="555" width="37" height="18" fill="#008aff"/>
<rect x="364" y="555" width="18" height="18" fill="#008bff"/>
<rect x="382" y="555" width="18" height="18" fill="#0089ff"/>
<rect x="400" y="555" width="18" height="18" fill="#0087ff"/>
<rect x="418" y="555" width="19" height="18" fill="#0080ff"/>
<rect x="437" y="555" width="18" height="18" fill="#0078ff"/>
<rect x="455" y="555" width="18" height="18" fill="#0071ff"/>
<rect x="473" y="555" width="18" height="18" fill="#006bff"/>
<rect x="491" y="555" width="18" height="18" fill="#0069ff"/>
<rect x="509" y="555" width="19" height="18" fill="#0066ff"/>
<rect x="528" y="555" width="18" height="18" fill="#0069ff"/>
<rect x="546" y="555" width="18" height="18" fill="#006bff"/>
<rect x="564" y="555" width="18" height="18" fill="#0070ff"/>
<rect x="582" y="555" width="18" height="18" fill="#0075ff"/>
<rect x="600" y="555" width="18" height="18" fill="#0079ff"/>
<rect x="618" y="555" width="19" height="18" fill="#007dff"/>
<rect x="637" y="555" width="18" height="18" fill="#0083ff"/>
<rect x="655" y="555" width="18" height="18" fill="#008aff"/>
<rect x="673" y="555" width="18" height="18" fill="#0091ff"/>
<rect x="691" y="555" width="18" height="18" fill="#0098ff"/>
<rect x="709" y="555" width="19" height="18" fill="#009dff"/>
<rect x="728" y="555" width="18" height="18" fill="#00a3ff"/>
<rect x="746" y="555" width="18" height="18" fill="#00aaff"/>
<rect x="764" y="555" width="18" height="18" fill="#00b0ff"/>
<rect x="782" y="555" width="18" height="18" fill="#00b5ff"/>
<rect x="200" y="573" width="36" height="18" fill="#009eff"/>
<rect x="236" y="573" width="19" height="18" fill="#0096ff"/>
<rect x="255" y="573" width="18" height="18" fill="#008fff"/>
<rect x="273" y="573" width="18" height="18" fill="#0087ff"/>
<rect x="291" y="573" width="55" height="18" fill="#0080ff"/>
<rect x="346" y="573" width="18" height="18" fill="#0082ff"/>
<rect x="364" y="573" width="54" height="18" fill="#0085ff"/>
<rect x="418" y="573" width="19" height="18" fill="#007aff"/>
<rect x="437" y="573" width="18" height="18" fill="#0070ff"/>
<rect x="455" y="573" width="18" height="18" fill="#0069ff"/>
<rect x="473" y="573" width="18" height="18" fill="#0061ff"/>
<rect x="491" y="573" width="18" height="18" fill="#005eff"/>
<rect x="509" y="573" width="19" height="18" fill="#005cff"/>
<rect x="528" y="573" width="18" height="18" fill="#005eff"/>
<rect x="546" y="573" width="18" height="18" fill="#0061ff"/>
<rect x="564" y="573" width="18" height="18" fill="#0066ff"/>
<rect x="582" y="573" width="18" height="18" fill="#006bff"/>
<rect x="600" y="573" width="18" height="18" fill="#0070ff"/>
<rect x="618" y="573" width="19" height="18" fill="#0075ff"/>
<rect x="637" y="573" width="18" height="18" fill="#007aff"/>
<rect x="655" y="573" width="18" height="18" fill="#0080ff"/>
<rect x="673" y="573" width="18" height="18" fill="#0086ff"/>
<rect x="691" y="573" width="18" height="18" fill="#008cff"/>
<rect x="709" y="573" width="19" height="18" fill="#0093ff"/>
<rect x="728" y="573" width="18" height="18" fill="#0099ff"/>
<rect x="746" y="573" width="18" height="18" fill="#00a1ff"/>
<rect x="764" y="573" width="18" height="18" fill="#00a8ff"/>
<rect x="782" y="573" width="18" height="18" fill="#00adff"/>
<rect x="127" y="591" width="18" height="19" fill="#00a7ff"/>
<rect x="145" y="591" width="19" height="19" fill="#00a6ff"/>
<rect x="164" y="591" width="18" height="19" fill="#00a4ff"/>
<rect x="182" y="591" width="18" height="19" fill="#00a3ff"/>
<rect x="200" y="591" width="18" height="19" fill="#00a1ff"/>
<rect x="218" y="591" width="18" height="19" fill="#009eff"/>
<rect x="236" y="591" width="19" height="19" fill="#0094ff"/>
<rect x="255" y="591" width="18" height="19" fill="#008aff"/>
<rect x="273" y="591" width="18" height="19" fill="#0080ff"/>
<rect x="291" y="591" width="18" height="19" fill="#0075ff"/>
<rect x="309" y="591" width="18" height="19" fill="#0074ff"/>
<rect x="327" y="591" width="19" height="19" fill="#0073ff"/>
<rect x="346" y="591" width="18" height="19" fill="#0075ff"/>
<rect x="364" y="591" width="18" height="19" fill="#0078ff"/>
<rect x="382" y="591" width="18" height="19" fill="#0077ff"/>
<rect x="400" y="591" width="18" height="19" fill="#0075ff"/>
<rect x="418" y="591" width="19" height="19" fill="#006cff"/>
<rect x="437" y="591" width="18" height="19" fill="#0063ff"/>
<rect x="455" y="591" width="18" height="19" fill="#005eff"/>
<rect x="473" y="591" width="18" height="19" fill="#0059ff"/>
<rect x="491" y="591" width="18" height="19" fill="#005bff"/>
<rect x="509" y="591" width="19" height="19" fill="#005cff"/>
<rect x="528" y="591" width="18" height="19" fill="#0062ff"/>
<rect x="546" y="591" width="18" height="19" fill="#0069ff"/>
<rect x="564" y="591" width="18" height="19" fill="#0071ff"/>
<rect x="582" y="591" width="18" height="19" fill="#0079ff"/>
<rect x="600" y="591" width="18" height="19" fill="#007fff"/>
<rect x="618" y="591" width="19" height="19" fill="#0085ff"/>
<rect x="637" y="591" width="18" height="19" fill="#0089ff"/>
<rect x="655" y="591" width="18" height="19" fill="#008eff"/>
<rect x="673" y="591" width="18" height="19" fill="#0093ff"/>
<rect x="691" y="591" width="18" height="19" fill="#0098ff"/>
<rect x="709" y="591" width="19" height="19" fill="#009dff"/>
<rect x="728" y="591" width="18" height="19" fill="#00a2ff"/>
<rect x="746" y="591" width="18" height="19" fill="#00a8ff"/>
<rect x="764" y="591" width="18" height="19" fill="#00afff"/>
<rect x="782" y="591" width="18" height="19" fill="#00b4ff"/>
<rect x="18" y="610" width="18" height="18" fill="#0085ff"/>
<rect x="36" y="610" width="18" height="18" fill="#008fff"/>
<rect x="54" y="610" width="19" height="18" fill="#009aff"/>
<rect x="73" y="610" width="18" height="18" fill="#00a6ff"/>
<rect x="91" y="610" width="18" height="18" fill="#00a7ff"/>
<rect x="109" y="610" width="91" height="18" fill="#00a8ff"/>
<rect x="200" y="610" width="18" height="18" fill="#00a3ff"/>
<rect x="218" y="610" width="18" height="18" fill="#009eff"/>
<rect x="236" y="610" width="19" height="18" fill="#0091ff"/>
<rect x="255" y="610" width="18" height="18" fill="#0085ff"/>
<rect x="273" y="610" width="18" height="18" fill="#0078ff"/>
<rect x="291" y="610" width="18" height="18" fill="#006bff"/>
<rect x="309" y="610" width="18" height="18" fill="#0069ff"/>
<rect x="327" y="610" width="19" height="18" fill="#0066ff"/>
<rect x="346" y="610" width="18" height="18" fill="#0069ff"/>
<rect x="364" y="610" width="18" height="18" fill="#006bff"/>
<rect x="382" y="610" width="18" height="18" fill="#0069ff"/>
<rect x="400" y="610" width="18" height="18" fill="#0066ff"/>
<rect x="418" y="610" width="19" height="18" fill="#005eff"/>
<rect x="437" y="610" width="18" height="18" fill="#0057ff"/>
<rect x="455" y="610" width="18" height="18" fill="#0054ff"/>
<rect x="473" y="610" width="18" height="18" fill="#0052ff"/>
<rect x="491" y="610" width="18" height="18" fill="#0057ff"/>
<rect x="509" y="610" width="19" height="18" fill="#005cff"/>
<rect x="528" y="610" width="18" height="18" fill="#0066ff"/>
<rect x="546" y="610" width="18" height="18" fill="#0070ff"/>
<rect x="564" y="610" width="18" height="18" fill="#007cff"/>
<rect x="582" y="610" width="18" height="18" fill="#0087ff"/>
<rect x="600" y="610" width="18" height="18" fill="#008eff"/>
<rect x="618" y="610" width="19" height="18" fill="#0094ff"/>
<rect x="637" y="610" width="18" height="18" fill="#0098ff"/>
<rect x="655" y="610" width="18" height="18" fill="#009cff"/>
<rect x="673" y="610" width="18" height="18" fill="#009fff"/>
<rect x="691" y="610" width="18" height="18" fill="#00a3ff"/>
<rect x="709" y="610" width="19" height="18" fill="#00a7ff"/>
<rect x="728" y="610" width="18" height="18" fill="#00abff"/>
<rect x="746" y="610" width="18" height="18" fill="#00b0ff"/>
<rect x="764" y="610" width="18" height="18" fill="#00b5ff"/>
<rect x="782" y="610" width="18" height="18" fill="#00baff"/>
<rect x="0" y="628" width="18" height="18" fill="#00adff"/>
<rect x="18" y="628" width="18" height="18" fill="#009eff"/>
<rect x="36" y="628" width="18" height="18" fill="#00a3ff"/>
<rect x="54" y="628" width="19" height="18" fill="#00adff"/>
<rect x="73" y="628" width="18" height="18" fill="#00b6ff"/>
<rect x="91" y="628" width="18" height="18" fill="#00b4ff"/>
<rect x="109" y="628" width="18" height="18" fill="#00b2ff"/>
<rect x="127" y="628" width="18" height="18" fill="#00afff"/>
<rect x="145" y="628" width="19" height="18" fill="#00acff"/>
<rect x="164" y="628" width="18" height="18" fill="#00a9ff"/>
<rect x="182" y="628" width="18" height="18" fill="#00a6ff"/>
<rect x="200" y="628" width="18" height="18" fill="#009fff"/>
<rect x="218" y="628" width="18" height="18" fill="#0099ff"/>
<rect x="236" y="628" width="19" height="18" fill="#008bff"/>
<rect x="255" y="628" width="18" height="18" fill="#007dff"/>
<rect x="273" y="628" width="18" height="18" fill="#006eff"/>
<rect x="291" y="628" width="18" height="18" fill="#005eff"/>
<rect x="309" y="628" width="18" height="18" fill="#005bff"/>
<rect x="327" y="628" width="19" height="18" fill="#0057ff"/>
<rect x="346" y="628" width="18" height="18" fill="#0059ff"/>
<rect x="364" y="628" width="18" height="18" fill="#005cff"/>
<rect x="382" y="628" width="18" height="18" fill="#005bff"/>
<rect x="400" y="628" width="18" height="18" fill="#0059ff"/>
<rect x="418" y="628" width="19" height="18" fill="#0054ff"/>
<rect x="437" y="628" width="54" height="18" fill="#004fff"/>
<rect x="491" y="628" width="18" height="18" fill="#0057ff"/>
<rect x="509" y="628" width="19" height="18" fill="#005eff"/>
<rect x="528" y="628" width="18" height="18" fill="#006bff"/>
<rect x="546" y="628" width="18" height="18" fill="#0078ff"/>
<rect x="564" y="628" width="18" height="18" fill="#0085ff"/>
<rect x="582" y="628" width="18" height="18" fill="#0093ff"/>
<rect x="600" y="628" width="18" height="18" fill="#0097ff"/>
<rect x="618" y="628" width="19" height="18" fill="#009cff"/>
<rect x="637" y="628" width="18" height="18" fill="#009fff"/>
<rect x="655" y="628" width="18" height="18" fill="#00a2ff"/>
<rect x="673" y="628" width="18" height="18" fill="#00a5ff"/>
<rect x="691" y="628" width="18" height="18" fill="#00a8ff"/>
<rect x="709" y="628" width="19" height="18" fill="#00abff"/>
<rect x="728" y="628" width="18" height="18" fill="#00afff"/>
<rect x="746" y="628" width="18" height="18" fill="#00b4ff"/>
<rect x="764" y="628" width="18" height="18" fill="#00b9ff"/>
<rect x="782" y="628" width="18" height="18" fill="#00beff"/>
<rect x="0" y="646" width="18" height="18" fill="#00c7ff"/>
<rect x="18" y="646" width="18" height="18" fill="#00bfff"/>
<rect x="36" y="646" width="18" height="18" fill="#00b8ff"/>
<rect x="54" y="646" width="19" height="18" fill="#00bfff"/>
<rect x="73" y="646" width="18" height="18" fill="#00c7ff"/>
<rect x="91" y="646" width="18" height="18" fill="#00c2ff"/>
<rect x="109" y="646" width="18" height="18" fill="#00bdff"/>
<rect x="127" y="646" width="18" height="18" fill="#00b6ff"/>
<rect x="145" y="646" width="19" height="18" fill="#00b0ff"/>
<rect x="164" y="646" width="18" height="18" fill="#00aaff"/>
<rect x="182" y="646" width="18" height="18" fill="#00a3ff"/>
<rect x="200" y="646" width="18" height="18" fill="#009cff"/>
<rect x="218" y="646" width="18" height="18" fill="#0094ff"/>
<rect x="236" y="646" width="19" height="18" fill="#0085ff"/>
<rect x="255" y="646" width="18" height="18" fill="#0075ff"/>
<rect x="273" y="646" width="18" height="18" fill="#0063ff"/>
<rect x="291" y="646" width="18" height="18" fill="#0052ff"/>
<rect x="309" y="646" width="18" height="18" fill="#004dff"/>
<rect x="327" y="646" width="19" height="18" fill="#0047ff"/>
<rect x="346" y="646" width="18" height="18" fill="#004aff"/>
<rect x="364" y="646" width="54" height="18" fill="#004cff"/>
<rect x="418" y="646" width="19" height="18" fill="#004aff"/>
<rect x="437" y="646" width="18" height="18" fill="#0047ff"/>
<rect x="455" y="646" width="18" height="18" fill="#004aff"/>
<rect x="473" y="646" width="18" height="18" fill="#004cff"/>
<rect x="491" y="646" width="18" height="18" fill="#0057ff"/>
<rect x="509" y="646" width="19" height="18" fill="#0061ff"/>
<rect x="528" y="646" width="18" height="18" fill="#0070ff"/>
<rect x="546" y="646" width="18" height="18" fill="#0080ff"/>
<rect x="564" y="646" width="18" height="18" fill="#008fff"/>
<rect x="582" y="646" width="18" height="18" fill="#009eff"/>
<rect x="600" y="646" width="18" height="18" fill="#00a1ff"/>
<rect x="618" y="646" width="19" height="18" fill="#00a3ff"/>
<rect x="637" y="646" width="18" height="18" fill="#00a6ff"/>
<rect x="655" y="646" width="18" height="18" fill="#00a8ff"/>
<rect x="673" y="646" width="18" height="18" fill="#00abff"/>
<rect x="691" y="646" width="18" height="18" fill="#00adff"/>
<rect x="709" y="646" width="19" height="18" fill="#00b0ff"/>
<rect x="728" y="646" width="18" height="18" fill="#00b2ff"/>
<rect x="746" y="646" width="18" height="18" fill="#00b8ff"/>
<rect x="764" y="646" width="18" height="18" fill="#00bdff"/>
<rect x="782" y="646" width="18" height="18" fill="#00c2ff"/>
<rect x="0" y="664" width="18" height="18" fill="#00e6ff"/>
<rect x="18" y="664" width="18" height="18" fill="#00d6ff"/>
<rect x="36" y="664" width="55" height="18" fill="#00c7ff"/>
<rect x="91" y="664" width="18" height="18" fill="#00c0ff"/>
<rect x="109" y="664" width="18" height="18" fill="#00b9ff"/>
<rect x="127" y="664" width="18" height="18" fill="#00b2ff"/>
<rect x="145" y="664" width="19" height="18" fill="#00abff"/>
<rect x="164" y="664" width="18" height="18" fill="#00a4ff"/>
<rect x="182" y="664" width="18" height="18" fill="#009eff"/>
<rect x="200" y="664" width="18" height="18" fill="#0094ff"/>
<rect x="218" y="664" width="18" height="18" fill="#008aff"/>
<rect x="236" y="664" width="19" height="18" fill="#007aff"/>
<rect x="255" y="664" width="18" height="18" fill="#006bff"/>
<rect x="273" y="664" width="18" height="18" fill="#0057ff"/>
<rect x="291" y="664" width="18" height="18" fill="#0042ff"/>
<rect x="309" y="664" width="18" height="18" fill="#003bff"/>
<rect x="327" y="664" width="19" height="18" fill="#0033ff"/>
<rect x="346" y="664" width="18" height="18" fill="#0038ff"/>
<rect x="364" y="664" width="18" height="18" fill="#003dff"/>
<rect x="382" y="664" width="18" height="18" fill="#0040ff"/>
<rect x="400" y="664" width="18" height="18" fill="#0042ff"/>
<rect x="418" y="664" width="19" height="18" fill="#0044ff"/>
<rect x="437" y="664" width="18" height="18" fill="#0045ff"/>
<rect x="455" y="664" width="18" height="18" fill="#004bff"/>
<rect x="473" y="664" width="18" height="18" fill="#0052ff"/>
<rect x="491" y="664" width="18" height="18" fill="#005eff"/>
<rect x="509" y="664" width="19" height="18" fill="#006bff"/>
<rect x="528" y="664" width="18" height="18" fill="#007cff"/>
<rect x="546" y="664" width="18" height="18" fill="#008cff"/>
<rect x="564" y="664" width="18" height="18" fill="#009cff"/>
<rect x="582" y="664" width="18" height="18" fill="#00abff"/>
<rect x="600" y="664" width="18" height="18" fill="#00adff"/>
<rect x="618" y="664" width="19" height="18" fill="#00b0ff"/>
<rect x="637" y="664" width="18" height="18" fill="#00b2ff"/>
<rect x="655" y="664" width="18" height="18" fill="#00b5ff"/>
<rect x="673" y="664" width="18" height="18" fill="#00b8ff"/>
<rect x="691" y="664" width="18" height="18" fill="#00baff"/>
<rect x="709" y="664" width="19" height="18" fill="#00bdff"/>
<rect x="728" y="664" width="18" height="18" fill="#00bfff"/>
<rect x="746" y="664" width="18" height="18" fill="#00c4ff"/>
<rect x="764" y="664" width="18" height="18" fill="#00c9ff"/>
<rect x="782" y="664" width="18" height="18" fill="#00cfff"/>
<rect x="0" y="682" width="18" height="19" fill="#00f0ff"/>
<rect x="18" y="682" width="18" height="19" fill="#00e3ff"/>
<rect x="36" y="682" width="18" height="19" fill="#00d6ff"/>
<rect x="54" y="682" width="19" height="19" fill="#00cfff"/>
<rect x="73" y="682" width="18" height="19" fill="#00c7ff"/>
<rect x="91" y="682" width="18" height="19" fill="#00beff"/>
<rect x="109" y="682" width="18" height="19" fill="#00b5ff"/>
<rect x="127" y="682" width="18" height="19" fill="#00adff"/>
<rect x="145" y="682" width="19" height="19" fill="#00a6ff"/>
<rect x="164" y="682" width="18" height="19" fill="#009fff"/>
<rect x="182" y="682" width="18" height="19" fill="#0099ff"/>
<rect x="200" y="682" width="18" height="19" fill="#008cff"/>
<rect x="218" y="682" width="18" height="19" fill="#0080ff"/>
<rect x="236" y="682" width="19" height="19" fill="#0070ff"/>
<rect x="255" y="682" width="18" height="19" fill="#0061ff"/>
<rect x="273" y="682" width="18" height="19" fill="#004aff"/>
<rect x="291" y="682" width="18" height="19" fill="#0033ff"/>
<rect x="309" y="682" width="18" height="19" fill="#0029ff"/>
<rect x="327" y="682" width="19" height="19" fill="#001fff"/>
<rect x="346" y="682" width="18" height="19" fill="#0026ff"/>
<rect x="364" y="682" width="18" height="19" fill="#002eff"/>
<rect x="382" y="682" width="18" height="19" fill="#0033ff"/>
<rect x="400" y="682" width="18" height="19" fill="#0038ff"/>
<rect x="418" y="682" width="19" height="19" fill="#003dff"/>
<rect x="437" y="682" width="18" height="19" fill="#0042ff"/>
<rect x="455" y="682" width="18" height="19" fill="#004dff"/>
<rect x="473" y="682" width="18" height="19" fill="#0057ff"/>
<rect x="491" y="682" width="18" height="19" fill="#0066ff"/>
<rect x="509" y="682" width="19" height="19" fill="#0075ff"/>
<rect x="528" y="682" width="18" height="19" fill="#0087ff"/>
<rect x="546" y="682" width="18" height="19" fill="#0099ff"/>
<rect x="564" y="682" width="18" height="19" fill="#00a8ff"/>
<rect x="582" y="682" width="18" height="19" fill="#00b8ff"/>
<rect x="600" y="682" width="18" height="19" fill="#00baff"/>
<rect x="618" y="682" width="19" height="19" fill="#00bdff"/>
<rect x="637" y="682" width="18" height="19" fill="#00bfff"/>
<rect x="655" y="682" width="18" height="19" fill="#00c2ff"/>
<rect x="673" y="682" width="18" height="19" fill="#00c4ff"/>
<rect x="691" y="682" width="18" height="19" fill="#00c7ff"/>
<rect x="709" y="682" width="19" height="19" fill="#00c9ff"/>
<rect x="728" y="682" width="18" height="19" fill="#00ccff"/>
<rect x="746" y="682" width="18" height="19" fill="#00d1ff"/>
<rect x="764" y="682" width="18" height="19" fill="#00d6ff"/>
<rect x="782" y="682" width="18" height="19" fill="#00dbff"/>
<rect x="0" y="701" width="18" height="18" fill="#00e8ff"/>
<rect x="18" y="701" width="18" height="18" fill="#00daff"/>
<rect x="36" y="701" width="18" height="18" fill="#00ccff"/>
<rect x="54" y="701" width="19" height="18" fill="#00c4ff"/>
<rect x="73" y="701" width="18" height="18" fill="#00bdff"/>
<rect x="91" y="701" width="18" height="18" fill="#00b4ff"/>
<rect x="109" y="701" width="18" height="18" fill="#00abff"/>
<rect x="127" y="701" width="18" height="18" fill="#00a3ff"/>
<rect x="145" y="701" width="19" height="18" fill="#009aff"/>
<rect x="164" y="701" width="18" height="18" fill="#0094ff"/>
<rect x="182" y="701" width="18" height="18" fill="#008eff"/>
<rect x="200" y="701" width="18" height="18" fill="#0082ff"/>
<rect x="218" y="701" width="18" height="18" fill="#0077ff"/>
<rect x="236" y="701" width="19" height="18" fill="#0065ff"/>
<rect x="255" y="701" width="18" height="18" fill="#0054ff"/>
<rect x="273" y="701" width="18" height="18" fill="#003bff"/>
<rect x="291" y="701" width="18" height="18" fill="#0022ff"/>
<rect x="309" y="701" width="18" height="18" fill="#001dff"/>
<rect x="327" y="701" width="19" height="18" fill="#0017ff"/>
<rect x="346" y="701" width="18" height="18" fill="#0022ff"/>
<rect x="364" y="701" width="18" height="18" fill="#002eff"/>
<rect x="382" y="701" width="18" height="18" fill="#0038ff"/>
<rect x="400" y="701" width="18" height="18" fill="#0042ff"/>
<rect x="418" y="701" width="19" height="18" fill="#0049ff"/>
<rect x="437" y="701" width="18" height="18" fill="#004fff"/>
<rect x="455" y="701" width="18" height="18" fill="#005bff"/>
<rect x="473" y="701" width="18" height="18" fill="#0066ff"/>
<rect x="491" y="701" width="18" height="18" fill="#0077ff"/>
<rect x="509" y="701" width="19" height="18" fill="#0087ff"/>
<rect x="528" y="701" width="18" height="18" fill="#0099ff"/>
<rect x="546" y="701" width="18" height="18" fill="#00abff"/>
<rect x="564" y="701" width="18" height="18" fill="#00baff"/>
<rect x="582" y="701" width="18" height="18" fill="#00c8ff"/>
<rect x="600" y="701" width="18" height="18" fill="#00cdff"/>
<rect x="618" y="701" width="19" height="18" fill="#00d1ff"/>
<rect x="637" y="701" width="18" height="18" fill="#00d4ff"/>
<rect x="655" y="701" width="18" height="18" fill="#00d7ff"/>
<rect x="673" y="701" width="18" height="18" fill="#00dbff"/>
<rect x="691" y="701" width="18" height="18" fill="#00deff"/>
<rect x="709" y="701" width="19" height="18" fill="#00e0ff"/>
<rect x="728" y="701" width="18" height="18" fill="#00e3ff"/>
<rect x="746" y="701" width="18" height="18" fill="#00e7ff"/>
<rect x="764" y="701" width="18" height="18" fill="#00ebff"/>
<rect x="782" y="701" width="18" height="18" fill="#00f0ff"/>
<rect x="0" y="719" width="18" height="18" fill="#00e0ff"/>
<rect x="18" y="719" width="18" height="18" fill="#00d1ff"/>
<rect x="36" y="719" width="18" height="18" fill="#00c2ff"/>
<rect x="54" y="719" width="19" height="18" fill="#00baff"/>
<rect x="73" y="719" width="18" height="18" fill="#00b2ff"/>
<rect x="91" y="719" width="18" height="18" fill="#00aaff"/>
<rect x="109" y="719" width="18" height="18" fill="#00a1ff"/>
<rect x="127" y="719" width="18" height="18" fill="#0098ff"/>
<rect x="145" y="719" width="19" height="18" fill="#008fff"/>
<rect x="164" y="719" width="18" height="18" fill="#0088ff"/>
<rect x="182" y="719" width="18" height="18" fill="#0082ff"/>
<rect x="200" y="719" width="18" height="18" fill="#0078ff"/>
<rect x="218" y="719" width="18" height="18" fill="#006eff"/>
<rect x="236" y="719" width="19" height="18" fill="#005bff"/>
<rect x="255" y="719" width="18" height="18" fill="#0047ff"/>
<rect x="273" y="719" width="18" height="18" fill="#002dff"/>
<rect x="291" y="719" width="18" height="18" fill="#0012ff"/>
<rect x="309" y="719" width="18" height="18" fill="#0011ff"/>
<rect x="327" y="719" width="19" height="18" fill="#000fff"/>
<rect x="346" y="719" width="18" height="18" fill="#001fff"/>
<rect x="364" y="719" width="18" height="18" fill="#002eff"/>
<rect x="382" y="719" width="18" height="18" fill="#003dff"/>
<rect x="400" y="719" width="18" height="18" fill="#004cff"/>
<rect x="418" y="719" width="19" height="18" fill="#0054ff"/>
<rect x="437" y="719" width="18" height="18" fill="#005cff"/>
<rect x="455" y="719" width="18" height="18" fill="#0069ff"/>
<rect x="473" y="719" width="18" height="18" fill="#0075ff"/>
<rect x="491" y="719" width="18" height="18" fill="#0087ff"/>
<rect x="509" y="719" width="19" height="18" fill="#0099ff"/>
<rect x="528" y="719" width="18" height="18" fill="#00abff"/>
<rect x="546" y="719" width="18" height="18" fill="#00bdff"/>
<rect x="564" y="719" width="18" height="18" fill="#00cbff"/>
<rect x="582" y="719" width="18" height="18" fill="#00d9ff"/>
<rect x="600" y="719" width="18" height="18" fill="#00dfff"/>
<rect x="618" y="719" width="19" height="18" fill="#00e6ff"/>
<rect x="637" y="719" width="18" height="18" fill="#00e9ff"/>
<rect x="655" y="719" width="18" height="18" fill="#00edff"/>
<rect x="673" y="719" width="18" height="18" fill="#00f1ff"/>
<rect x="691" y="719" width="18" height="18" fill="#00f5ff"/>
<rect x="709" y="719" width="19" height="18" fill="#00f7ff"/>
<rect x="728" y="719" width="18" height="18" fill="#00faff"/>
<rect x="746" y="719" width="18" height="18" fill="#00fcff"/>
<rect x="764" y="719" width="18" height="18" fill="#00ffff"/>
<rect x="782" y="719" width="18" height="18" fill="#00fffa"/>
<rect x="0" y="737" width="18" height="18" fill="#00d1ff"/>
<rect x="18" y="737" width="18" height="18" fill="#00c2ff"/>
<rect x="36" y="737" width="18" height="18" fill="#00b2ff"/>
<rect x="54" y="737" width="19" height="18" fill="#00abff"/>
<rect x="73" y="737" width="18" height="18" fill="#00a3ff"/>
<rect x="91" y="737" width="18" height="18" fill="#009cff"/>
<rect x="109" y="737" width="18" height="18" fill="#0094ff"/>
<rect x="127" y="737" width="18" height="18" fill="#008cff"/>
<rect x="145" y="737" width="19" height="18" fill="#0085ff"/>
<rect x="164" y="737" width="18" height="18" fill="#007fff"/>
<rect x="182" y="737" width="18" height="18" fill="#0079ff"/>
<rect x="200" y="737" width="18" height="18" fill="#006eff"/>
<rect x="218" y="737" width="18" height="18" fill="#0062ff"/>
<rect x="236" y="737" width="19" height="18" fill="#0050ff"/>
<rect x="255" y="737" width="18" height="18" fill="#003dff"/>
<rect x="273" y="737" width="18" height="18" fill="#0029ff"/>
<rect x="291" y="737" width="18" height="18" fill="#0016ff"/>
<rect x="309" y="737" width="18" height="18" fill="#001aff"/>
<rect x="327" y="737" width="19" height="18" fill="#001fff"/>
<rect x="346" y="737" width="18" height="18" fill="#0032ff"/>
<rect x="364" y="737" width="18" height="18" fill="#0045ff"/>
<rect x="382" y="737" width="18" height="18" fill="#0052ff"/>
<rect x="400" y="737" width="18" height="18" fill="#005eff"/>
<rect x="418" y="737" width="19" height="18" fill="#0066ff"/>
<rect x="437" y="737" width="18" height="18" fill="#006eff"/>
<rect x="455" y="737" width="18" height="18" fill="#0079ff"/>
<rect x="473" y="737" width="18" height="18" fill="#0085ff"/>
<rect x="491" y="737" width="18" height="18" fill="#0093ff"/>
<rect x="509" y="737" width="19" height="18" fill="#00a1ff"/>
<rect x="528" y="737" width="18" height="18" fill="#00b1ff"/>
<rect x="546" y="737" width="18" height="18" fill="#00c2ff"/>
<rect x="564" y="737" width="18" height="18" fill="#00cdff"/>
<rect x="582" y="737" width="18" height="18" fill="#00d9ff"/>
<rect x="600" y="737" width="18" height="18" fill="#00dfff"/>
<rect x="618" y="737" width="19" height="18" fill="#00e6ff"/>
<rect x="637" y="737" width="18" height="18" fill="#00ecff"/>
<rect x="655" y="737" width="18" height="18" fill="#00f2ff"/>
<rect x="673" y="737" width="18" height="18" fill="#00fbff"/>
<rect x="691" y="737" width="18" height="18" fill="#00fffa"/>
<rect x="709" y="737" width="19" height="18" fill="#00fff1"/>
<rect x="728" y="737" width="18" height="18" fill="#00ffe8"/>
<rect x="746" y="737" width="18" height="18" fill="#00ffdd"/>
<rect x="764" y="737" width="18" height="18" fill="#00ffd2"/>
<rect x="782" y="737" width="18" height="18" fill="#00ffc9"/>
<rect x="0" y="755" width="18" height="17" fill="#00c2ff"/>
<rect x="18" y="755" width="18" height="17" fill="#00b2ff"/>
<rect x="36" y="755" width="18" height="17" fill="#00a3ff"/>
<rect x="54" y="755" width="19" height="17" fill="#009cff"/>
<rect x="73" y="755" width="18" height="17" fill="#0094ff"/>
<rect x="91" y="755" width="18" height="17" fill="#008eff"/>
<rect x="109" y="755" width="18" height="17" fill="#0087ff"/>
<rect x="127" y="755" width="18" height="17" fill="#0081ff"/>
<rect x="145" y="755" width="19" height="17" fill="#007aff"/>
<rect x="164" y="755" width="18" height="17" fill="#0075ff"/>
<rect x="182" y="755" width="18" height="17" fill="#0070ff"/>
<rect x="200" y="755" width="18" height="17" fill="#0063ff"/>
<rect x="218" y="755" width="18" height="17" fill="#0057ff"/>
<rect x="236" y="755" width="19" height="17" fill="#0045ff"/>
<rect x="255" y="755" width="18" height="17" fill="#0033ff"/>
<rect x="273" y="755" width="18" height="17" fill="#0026ff"/>
<rect x="291" y="755" width="18" height="17" fill="#001aff"/>
<rect x="309" y="755" width="18" height="17" fill="#0024ff"/>
<rect x="327" y="755" width="19" height="17" fill="#002eff"/>
<rect x="346" y="755" width="18" height="17" fill="#0045ff"/>
<rect x="364" y="755" width="18" height="17" fill="#005cff"/>
<rect x="382" y="755" width="18" height="17" fill="#0066ff"/>
<rect x="400" y="755" width="18" height="17" fill="#0070ff"/>
<rect x="418" y="755" width="19" height="17" fill="#0078ff"/>
<rect x="437" y="755" width="18" height="17" fill="#0080ff"/>
<rect x="455" y="755" width="18" height="17" fill="#008aff"/>
<rect x="473" y="755" width="18" height="17" fill="#0094ff"/>
<rect x="491" y="755" width="18" height="17" fill="#009eff"/>
<rect x="509" y="755" width="19" height="17" fill="#00a8ff"/>
<rect x="528" y="755" width="18" height="17" fill="#00b8ff"/>
<rect x="546" y="755" width="18" height="17" fill="#00c7ff"/>
<rect x="564" y="755" width="18" height="17" fill="#00d0ff"/>
<rect x="582" y="755" width="18" height="17" fill="#00d9ff"/>
<rect x="600" y="755" width="18" height="17" fill="#00dfff"/>
<rect x="618" y="755" width="19" height="17" fill="#00e6ff"/>
<rect x="637" y="755" width="18" height="17" fill="#00eeff"/>
<rect x="655" y="755" width="18" height="17" fill="#00f7ff"/>
<rect x="673" y="755" width="18" height="17" fill="#00fff9"/>
<rect x="691" y="755" width="18" height="17" fill="#00ffeb"/>
<rect x="709" y="755" width="19" height="17" fill="#00ffdb"/>
<rect x="728" y="755" width="18" height="17" fill="#00ffcc"/>
<rect x="746" y="755" width="18" height="17" fill="#00ffb9"/>
<rect x="764" y="755" width="18" height="17" fill="#00ffa6"/>
<rect x="782" y="755" width="18" height="17" fill="#00ff99"/>
</g>
<path clip-path="url(#mapclip)" d="M718.3 36.5L702.0 28.9M709.2 28.3L702.0 28.9L706.1 34.8M772.9 36.5L756.8 29.0M763.9 28.4L756.8 29.0L760.9 34.8M791.0 36.5L775.2 29.1M782.1 28.5L775.2 29.1L779.2 34.8M700.1 54.7L683.8 47.2M690.9 46.5L683.8 47.2L688.0 53.1M718.3 54.7L701.9 47.2M709.1 46.5L701.9 47.2L706.1 53.1M754.7 54.7L738.6 47.3M745.6 46.7L738.6 47.3L742.7 53.1M772.9 54.7L756.9 47.4M763.9 46.7L756.9 47.4L761.0 53.1M791.0 54.7L775.3 47.5M782.2 46.9L775.3 47.5L779.3 53.1M682.0 72.8L665.5 65.5M672.7 64.8L665.5 65.5L669.8 71.4M700.1 72.8L683.7 65.5M690.9 64.8L683.7 65.5L687.9 71.4M718.3 72.8L702.0 65.6M709.1 64.8L702.0 65.6L706.2 71.4M736.5 72.8L720.3 65.6M727.3 64.9L720.3 65.6L724.5 71.4M754.7 72.8L738.6 65.7M745.6 65.0L738.6 65.7L742.7 71.4M772.9 72.8L757.0 65.8M763.9 65.1L757.0 65.8L761.1 71.4M791.0 72.8L775.5 65.9M782.3 65.2L775.5 65.9L779.5 71.4M663.8 91.0L647.3 83.8M654.4 83.0L647.3 83.8L651.6 89.6M682.0 91.0L665.5 83.8M672.6 83.0L665.5 83.8L669.8 89.6M700.1 91.0L683.8 83.9M690.9 83.1L683.8 83.9L688.0 89.6M718.3 91.0L702.0 83.9M709.1 83.1L702.0 83.9L706.3 89.7M736.5 91.0L720.3 84.0M727.3 83.2L720.3 84.0L724.5 89.7M754.7 91.0L738.7 84.1M745.6 83.3L738.7 84.1L742.8 89.7M772.9 91.0L757.2 84.2M764.0 83.4L757.2 84.2L761.2 89.7M791.0 91.0L775.7 84.3M782.3 83.6L775.7 84.3L779.7 89.7M682.0 109.2L665.5 102.2M672.6 101.3L665.5 102.2L669.8 107.9M700.1 109.2L683.8 102.3M690.9 101.4L683.8 102.3L688.1 107.9M718.3 109.2L702.1 102.3M709.1 101.5L702.1 102.3L706.3 107.9M736.5 109.2L720.4 102.4M727.3 101.5L720.4 102.4L724.6 108.0M754.7 109.2L738.9 102.5M745.7 101.7L738.9 102.5L743.0 108.0M772.9 109.2L757.4 102.6M764.0 101.8L757.4 102.6L761.4 108.0M791.0 109.2L775.8 102.8M782.4 101.9L775.8 102.8L779.8 108.0M663.8 127.4L648.8 121.9M655.1 120.8L648.8 121.9L652.9 126.8M682.0 127.4L667.1 122.2M673.3 121.0L667.1 122.2L671.2 127.0M700.1 127.4L685.4 122.6M691.5 121.3L685.4 122.6L689.6 127.2M718.3 127.4L703.8 122.9M709.7 121.5L703.8 122.9L707.9 127.4M736.5 127.4L722.1 123.2M727.9 121.8L722.1 123.2L726.2 127.6M754.7 127.4L740.6 123.3M746.3 121.9L740.6 123.3L744.7 127.6M772.9 127.4L759.1 123.4M764.6 122.0L759.1 123.4L763.1 127.5M791.0 127.4L777.6 123.5M783.0 122.2L777.6 123.5L781.5 127.5M645.6 145.6L630.4 141.8M636.4 140.1L630.4 141.8L634.9 146.1M663.8 145.6L647.9 144.2M653.7 141.5L647.9 144.2L653.1 147.8M682.0 145.6L666.6 144.0M672.2 141.5L666.6 144.0L671.6 147.6M700.1 145.6L685.2 143.9M690.7 141.5L685.2 143.9L690.1 147.4M718.3 145.6L703.9 143.7M709.3 141.5L703.9 143.7L708.6 147.2M736.5 145.6L722.6 143.6M727.8 141.5L722.6 143.6L727.0 147.0M754.7 145.6L741.0 143.3M746.2 141.4L741.0 143.3L745.3 146.8M772.9 145.6L759.4 143.0M764.6 141.2L759.4 143.0L763.6 146.6M791.0 145.6L777.8 142.7M783.0 141.1L777.8 142.7L781.8 146.4M645.6 163.7L630.0 162.4M635.6 159.8L630.0 162.4L635.1 166.0M663.8 163.7L647.8 163.2M653.5 160.2L647.8 163.2L653.2 166.6M682.0 163.7L666.6 162.6M672.1 159.9L666.6 162.6L671.7 166.1M700.1 163.7L685.3 162.0M690.8 159.6L685.3 162.0L690.1 165.6M718.3 163.7L704.1 161.4M709.5 159.4L704.1 161.4L708.5 165.1M736.5 163.7L722.8 160.8M728.1 159.1L722.8 160.8L727.0 164.6M754.7 163.7L741.2 160.2M746.5 158.7L741.2 160.2L745.1 164.1M772.9 163.7L759.5 159.6M765.0 158.3L759.5 159.6L763.3 163.7M791.0 163.7L777.9 158.9M783.4 158.0L777.9 158.9L781.5 163.2M627.5 181.9L612.1 179.5M617.9 177.3L612.1 179.5L617.0 183.4M645.6 181.9L630.0 179.6M635.9 177.3L630.0 179.6L635.0 183.5M663.8 181.9L648.0 179.7M653.9 177.3L648.0 179.7L653.0 183.6M682.0 181.9L666.9 178.8M672.7 176.9L666.9 178.8L671.5 182.9M700.1 181.9L685.8 177.9M691.6 176.4L685.8 177.9L690.0 182.2M718.3 181.9L704.8 177.1M710.4 176.0L704.8 177.1L708.5 181.5M736.5 181.9L723.7 176.2M729.3 175.6L723.7 176.2L727.0 180.7M754.7 181.9L742.0 175.9M747.6 175.5L742.0 175.9L745.2 180.5M772.9 181.9L760.3 175.6M765.9 175.3L760.3 175.6L763.4 180.3M791.0 181.9L778.7 175.3M784.3 175.1L778.7 175.3L781.6 180.1M609.3 200.1L594.0 196.5M600.0 194.7L594.0 196.5L598.6 200.8M627.5 200.1L612.5 196.0M618.5 194.5L612.5 196.0L616.9 200.4M645.6 200.1L630.4 196.0M636.5 194.4L630.4 196.0L634.9 200.4M663.8 200.1L648.3 195.9M654.5 194.3L648.3 195.9L652.9 200.5M682.0 200.1L667.4 194.9M673.5 193.8L667.4 194.9L671.4 199.6M700.1 200.1L686.4 194.0M692.4 193.3L686.4 194.0L689.9 198.8M718.3 200.1L705.4 193.0M711.3 192.8L705.4 193.0L708.5 198.0M736.5 200.1L724.5 192.0M730.3 192.4L724.5 192.0L727.0 197.2M754.7 200.1L742.7 191.6M748.6 192.1L742.7 191.6L745.2 196.9M772.9 200.1L761.0 191.2M766.9 191.9L761.0 191.2L763.3 196.7M791.0 200.1L779.2 190.8M785.1 191.7L779.2 190.8L781.5 196.4M591.1 218.2L574.5 214.8M580.9 212.7L574.5 214.8L579.5 219.3M609.3 218.2L593.0 214.3M599.4 212.4L593.0 214.3L597.9 218.9M627.5 218.2L611.6 213.8M618.0 212.2L611.6 213.8L616.2 218.5M645.6 218.2L630.2 213.3M636.5 211.9L630.2 213.3L634.5 218.1M663.8 218.2L648.8 212.8M655.1 211.7L648.8 212.8L652.9 217.7M682.0 218.2L667.8 211.7M674.0 211.2L667.8 211.7L671.4 216.8M700.1 218.2L686.9 210.7M693.0 210.7L686.9 210.7L690.0 216.0M718.3 218.2L705.9 209.7M712.0 210.2L705.9 209.7L708.5 215.1M736.5 218.2L725.0 208.6M730.9 209.7L725.0 208.6L727.1 214.2M754.7 218.2L743.4 208.3M749.3 209.5L743.4 208.3L745.3 214.0M772.9 218.2L761.8 208.1M767.7 209.4L761.8 208.1L763.6 213.8M791.0 218.2L780.2 207.8M786.1 209.3L780.2 207.8L781.9 213.6M572.9 236.4L555.3 232.8M562.1 230.5L555.3 232.8L560.7 237.6M591.1 236.4L573.5 232.6M580.4 230.4L573.5 232.6L578.8 237.4M609.3 236.4L592.1 232.1M598.9 230.1L592.1 232.1L597.2 237.0M627.5 236.4L610.7 231.6M617.5 229.9L610.7 231.6L615.5 236.6M645.6 236.4L629.7 230.6M636.4 229.5L629.7 230.6L634.1 235.8M663.8 236.4L648.8 229.7M655.3 229.0L648.8 229.7L652.6 235.0M682.0 236.4L667.8 228.7M674.3 228.5L667.8 228.7L671.2 234.2M700.1 236.4L686.9 227.6M693.3 228.0L686.9 227.6L689.7 233.3M718.3 236.4L705.9 226.8M712.2 227.7L705.9 226.8L708.3 232.6M736.5 236.4L725.0 226.0M731.1 227.3L725.0 226.0L726.9 231.9M754.7 236.4L743.4 225.8M749.4 227.2L743.4 225.8L745.2 231.7M772.9 236.4L761.8 225.5M767.8 227.1L761.8 225.5L763.5 231.5M791.0 236.4L780.3 225.3M786.2 227.0L780.3 225.3L781.8 231.3M554.8 254.6L536.1 250.8M543.3 248.4L536.1 250.8L541.8 255.8M572.9 254.6L554.4 250.6M561.6 248.3L554.4 250.6L560.0 255.7M591.1 254.6L572.6 250.3M579.9 248.1L572.6 250.3L578.1 255.5M609.3 254.6L591.6 249.4M598.8 247.7L591.6 249.4L596.7 254.7M627.5 254.6L610.7 248.5M617.7 247.2L610.7 248.5L615.3 253.9M645.6 254.6L629.7 247.5M636.7 246.8L629.7 247.5L633.8 253.2M663.8 254.6L648.8 246.6M655.6 246.4L648.8 246.6L652.4 252.4M682.0 254.6L667.8 245.8M674.5 246.0L667.8 245.8L671.0 251.7M700.1 254.6L686.9 245.1M693.4 245.7L686.9 245.1L689.6 251.0M718.3 254.6L705.9 244.3M712.3 245.4L705.9 244.3L708.2 250.3M736.5 254.6L725.0 243.5M731.2 245.0L725.0 243.5L726.8 249.6M754.7 254.6L743.4 243.2M749.6 244.9L743.4 243.2L745.1 249.4M772.9 254.6L761.9 243.0M768.0 244.8L761.9 243.0L763.4 249.2M791.0 254.6L780.3 242.7M786.4 244.7L780.3 242.7L781.6 249.0M209.4 272.8L189.4 272.8M196.4 268.8L189.4 272.8L196.4 276.8M554.8 272.8L536.1 269.2M543.3 266.7L536.1 269.2L541.8 274.1M572.9 272.8L554.3 268.9M561.5 266.5L554.3 268.9L560.0 274.0M591.1 272.8L572.9 268.2M580.1 266.1L572.9 268.2L578.3 273.4M609.3 272.8L592.0 267.3M599.1 265.7L592.0 267.3L596.9 272.6M627.5 272.8L611.0 266.3M618.0 265.3L611.0 266.3L615.4 271.8M645.6 272.8L630.1 265.4M636.9 264.8L630.1 265.4L634.0 271.1M663.8 272.8L649.1 264.5M655.8 264.5L649.1 264.5L652.5 270.3M682.0 272.8L668.0 263.9M674.6 264.2L668.0 263.9L671.1 269.7M700.1 272.8L687.0 263.1M693.5 263.8L687.0 263.1L689.6 269.1M718.3 272.8L706.1 262.3M712.4 263.5L706.1 262.3L708.2 268.4M736.5 272.8L725.1 261.5M731.3 263.1L725.1 261.5L726.8 267.7M754.7 272.8L743.6 261.2M749.8 263.0L743.6 261.2L745.2 267.4M772.9 272.8L762.1 261.0M768.2 262.9L762.1 261.0L763.5 267.2M791.0 272.8L780.5 260.7M786.6 262.8L780.5 260.7L781.8 267.0M209.4 291.0L189.4 291.0M196.4 287.0L189.4 291.0L196.4 295.0M227.6 291.0L207.6 291.0M214.5 287.0L207.6 291.0L214.5 295.0M245.8 291.0L225.8 291.0M232.7 287.0L225.8 291.0L232.7 295.0M264.0 291.0L244.0 291.0M250.9 287.0L244.0 291.0L250.9 295.0M282.1 291.0L262.6 290.0M269.5 286.4L262.6 290.0L269.2 294.2M536.6 291.0L517.9 287.7M525.0 285.1L517.9 287.7L523.7 292.6M554.8 291.0L536.1 287.5M543.2 285.0L536.1 287.5L541.9 292.4M572.9 291.0L554.7 286.8M561.8 284.6L554.7 286.8L560.2 291.9M591.1 291.0L573.3 286.0M580.4 284.2L573.3 286.0L578.5 291.3M609.3 291.0L592.3 285.1M599.4 283.7L592.3 285.1L597.0 290.5M627.5 291.0L611.4 284.2M618.3 283.3L611.4 284.2L615.6 289.7M645.6 291.0L630.4 283.3M637.2 282.9L630.4 283.3L634.1 289.0M663.8 291.0L649.4 282.5M656.1 282.5L649.4 282.5L652.7 288.3M682.0 291.0L668.3 281.8M674.9 282.2L668.3 281.8L671.2 287.7M700.1 291.0L687.2 281.1M693.6 281.9L687.2 281.1L689.7 287.1M718.3 291.0L706.2 280.3M712.6 281.6L706.2 280.3L708.3 286.4M736.5 291.0L725.3 279.5M731.5 281.3L725.3 279.5L726.9 285.7M754.7 291.0L743.8 279.2M749.9 281.1L743.8 279.2L745.2 285.5M772.9 291.0L762.3 279.0M768.4 281.0L762.3 279.0L763.6 285.2M791.0 291.0L780.7 278.7M786.8 280.9L780.7 278.7L781.9 285.0M227.6 309.1L207.6 309.1M214.5 305.1L207.6 309.1L214.5 313.1M245.8 309.1L225.8 309.1M232.7 305.1L225.8 309.1L232.7 313.1M264.0 309.1L244.1 308.6M251.0 304.8L244.1 308.6L250.9 312.8M282.1 309.1L262.0 308.6M269.1 304.8L262.0 308.6L268.9 312.8M300.3 309.1L279.9 308.6M287.1 304.7L279.9 308.6L286.9 312.9M318.5 309.1L297.8 308.6M305.1 304.7L297.8 308.6L304.9 312.9M500.2 309.1L481.1 306.8M488.2 303.8L481.1 306.8L487.3 311.4M518.4 309.1L499.6 306.3M506.7 303.5L499.6 306.3L505.6 311.0M536.6 309.1L517.8 306.1M524.9 303.4L517.8 306.1L523.7 310.9M554.8 309.1L536.4 305.3M543.5 303.0L536.4 305.3L542.0 310.3M572.9 309.1L555.0 304.6M562.1 302.6L555.0 304.6L560.3 309.8M591.1 309.1L573.6 303.9M580.7 302.2L573.6 303.9L578.6 309.2M609.3 309.1L592.7 303.0M599.7 301.8L592.7 303.0L597.2 308.4M627.5 309.1L611.7 302.1M618.5 301.4L611.7 302.1L615.7 307.7M645.6 309.1L630.7 301.2M637.4 301.0L630.7 301.2L634.3 307.0M663.8 309.1L649.7 300.4M656.3 300.6L649.7 300.4L652.8 306.2M682.0 309.1L668.6 299.7M675.1 300.3L668.6 299.7L671.3 305.7M700.1 309.1L687.5 299.0M693.9 300.0L687.5 299.0L689.9 305.1M718.3 309.1L706.4 298.4M712.7 299.7L706.4 298.4L708.4 304.5M736.5 309.1L725.4 297.6M731.6 299.4L725.4 297.6L727.0 303.8M754.7 309.1L744.0 297.3M750.0 299.2L744.0 297.3L745.3 303.5M772.9 309.1L762.5 297.0M768.5 299.1L762.5 297.0L763.7 303.2M791.0 309.1L781.0 296.7M786.9 299.0L781.0 296.7L782.0 303.0M264.0 327.3L243.5 327.3M250.6 323.2L243.5 327.3L250.6 331.4M282.1 327.3L261.4 327.3M268.6 323.2L261.4 327.3L268.6 331.4M300.3 327.3L279.3 327.3M286.6 323.1L279.3 327.3L286.6 331.5M318.5 327.3L297.5 327.3M304.7 323.1L297.5 327.3L304.7 331.5M336.7 327.3L315.7 327.3M322.9 323.1L315.7 327.3L322.9 331.5M354.8 327.3L333.8 327.3M341.1 323.1L333.8 327.3L341.1 331.5M373.0 327.3L352.0 327.3M359.3 323.1L352.0 327.3L359.3 331.5M391.2 327.3L370.4 327.1M377.6 323.0L370.4 327.1L377.6 331.3M409.4 327.3L388.9 327.0M396.0 323.0L388.9 327.0L395.9 331.2M427.5 327.3L407.3 326.8M414.4 322.9L407.3 326.8L414.2 331.0M445.7 327.3L425.7 326.6M432.8 322.8L425.7 326.6L432.5 330.8M463.9 327.3L444.2 326.1M451.2 322.6L444.2 326.1L450.8 330.5M482.1 327.3L462.6 325.6M469.7 322.3L462.6 325.6L469.0 330.1M500.2 327.3L481.1 325.1M488.2 322.1L481.1 325.1L487.3 329.7M518.4 327.3L499.6 324.7M506.6 321.8L499.6 324.7L505.6 329.3M536.6 327.3L518.2 323.9M525.2 321.4L518.2 323.9L523.9 328.8M554.8 327.3L536.8 323.2M543.8 321.0L536.8 323.2L542.2 328.2M572.9 327.3L555.4 322.5M562.4 320.6L555.4 322.5L560.5 327.6M591.1 327.3L574.0 321.7M581.0 320.2L574.0 321.7L578.8 327.1M609.3 327.3L593.0 320.9M599.9 319.8L593.0 320.9L597.3 326.4M627.5 327.3L612.0 320.0M618.8 319.4L612.0 320.0L615.9 325.6M645.6 327.3L631.0 319.2M637.7 319.1L631.0 319.2L634.4 324.9M663.8 327.3L650.0 318.3M656.6 318.7L650.0 318.3L653.0 324.2M682.0 327.3L668.9 317.6M675.3 318.4L668.9 317.6L671.5 323.6M700.1 327.3L687.8 317.0M694.1 318.1L687.8 317.0L690.0 323.0M718.3 327.3L706.7 316.3M712.9 317.8L706.7 316.3L708.5 322.4M736.5 327.3L725.6 315.6M731.7 317.5L725.6 315.6L727.0 321.8M754.7 327.3L744.1 315.3M750.2 317.3L744.1 315.3L745.4 321.6M772.9 327.3L762.6 315.0M768.6 317.2L762.6 315.0L763.7 321.3M791.0 327.3L781.2 314.7M787.1 317.1L781.2 314.7L782.1 321.0M300.3 345.5L279.4 345.5M286.7 341.3L279.4 345.5L286.7 349.7M318.5 345.5L297.5 345.5M304.7 341.3L297.5 345.5L304.7 349.7M336.7 345.5L315.7 345.5M322.9 341.3L315.7 345.5L322.9 349.7M354.8 345.5L333.8 345.5M341.1 341.3L333.8 345.5L341.1 349.7M373.0 345.5L352.0 345.5M359.3 341.3L352.0 345.5L359.3 349.7M391.2 345.5L370.4 345.3M377.6 341.2L370.4 345.3L377.6 349.5M409.4 345.5L388.9 345.1M396.0 341.1L388.9 345.1L395.9 349.3M427.5 345.5L407.3 345.0M414.4 341.1L407.3 345.0L414.2 349.2M445.7 345.5L425.7 345.0M432.7 341.1L425.7 345.0L432.5 349.1M463.9 345.5L444.2 344.5M451.2 340.9L444.2 344.5L450.8 348.8M482.1 345.5L462.6 344.0M469.7 340.6L462.6 344.0L469.1 348.4M500.2 345.5L481.1 343.5M488.1 340.4L481.1 343.5L487.3 348.0M518.4 345.5L500.1 343.0M506.9 340.2L500.1 343.0L505.9 347.6M536.6 345.5L519.1 341.8M525.9 339.6L519.1 341.8L524.4 346.6M554.8 345.5L537.7 341.1M544.5 339.2L537.7 341.1L542.7 346.0M572.9 345.5L556.3 340.3M563.1 338.8L556.3 340.3L561.0 345.4M591.1 345.5L574.9 339.6M581.7 338.4L574.9 339.6L579.3 344.9M609.3 345.5L593.9 338.7M600.6 338.0L593.9 338.7L597.9 344.1M627.5 345.5L612.9 337.9M619.5 337.6L612.9 337.9L616.4 343.4M645.6 345.5L631.9 337.0M638.3 337.2L631.9 337.0L635.0 342.7M663.8 345.5L650.5 336.4M656.9 336.9L650.5 336.4L653.3 342.2M682.0 345.5L669.0 335.7M675.5 336.5L669.0 335.7L671.6 341.7M700.1 345.5L687.9 335.0M694.3 336.2L687.9 335.0L690.1 341.1M718.3 345.5L706.8 334.3M713.0 335.9L706.8 334.3L708.6 340.5M736.5 345.5L725.7 333.6M731.8 335.6L725.7 333.6L727.1 339.9M754.7 345.5L744.1 333.1M750.3 335.3L744.1 333.1L745.3 339.5M772.9 345.5L762.7 332.8M768.7 335.2L762.7 332.8L763.7 339.3M791.0 345.5L781.2 332.5M787.2 335.1L781.2 332.5L782.0 339.0M300.3 363.7L279.6 363.7M286.7 359.5L279.6 363.7L286.7 367.8M318.5 363.7L297.6 363.7M304.8 359.5L297.6 363.7L304.8 367.8M336.7 363.7L315.7 363.7M322.9 359.5L315.7 363.7L322.9 367.9M354.8 363.7L333.8 363.7M341.1 359.5L333.8 363.7L341.1 367.9M373.0 363.7L352.0 363.7M359.3 359.5L352.0 363.7L359.3 367.9M391.2 363.7L370.4 363.5M377.6 359.4L370.4 363.5L377.6 367.7M409.4 363.7L388.9 363.3M396.0 359.3L388.9 363.3L395.9 367.5M427.5 363.7L407.3 363.3M414.4 359.4L407.3 363.3L414.2 367.5M445.7 363.7L425.7 363.3M432.7 359.4L425.7 363.3L432.6 367.4M463.9 363.7L444.2 362.8M451.2 359.2L444.2 362.8L450.8 367.0M482.1 363.7L462.6 362.3M469.6 358.9L462.6 362.3L469.1 366.7M500.2 363.7L481.6 361.9M488.4 358.8L481.6 361.9L487.7 366.2M518.4 363.7L500.5 361.4M507.2 358.6L500.5 361.4L506.3 365.8M536.6 363.7L519.6 360.2M526.2 358.0L519.6 360.2L524.8 364.8M554.8 363.7L538.7 358.9M545.2 357.3L538.7 358.9L543.3 363.8M572.9 363.7L557.3 358.2M563.8 357.0L557.3 358.2L561.6 363.2M591.1 363.7L575.9 357.5M582.4 356.6L575.9 357.5L579.9 362.7M609.3 363.7L594.9 356.6M601.3 356.2L594.9 356.6L598.4 361.9M627.5 363.7L613.8 355.8M620.1 355.8L613.8 355.8L617.0 361.2M645.6 363.7L632.4 355.1M638.7 355.4L632.4 355.1L635.3 360.7M663.8 363.7L651.0 354.5M657.2 355.1L651.0 354.5L653.6 360.3M682.0 363.7L669.5 353.8M675.8 354.7L669.5 353.8L671.9 359.7M700.1 363.7L688.1 353.0M694.4 354.3L688.1 353.0L690.1 359.1M718.3 363.7L707.0 352.3M713.2 354.0L707.0 352.3L708.7 358.5M736.5 363.7L725.9 351.7M732.0 353.7L725.9 351.7L727.2 357.9M754.7 363.7L744.3 351.1M750.4 353.4L744.3 351.1L745.4 357.5M772.9 363.7L762.7 350.7M768.8 353.1L762.7 350.7L763.6 357.2M791.0 363.7L781.2 350.4M787.3 353.0L781.2 350.4L782.0 356.9M282.1 381.8L261.8 381.8M268.8 377.8L261.8 381.8L268.8 385.9M300.3 381.8L279.7 381.8M286.8 377.7L279.7 381.8L286.8 385.9M318.5 381.8L297.7 381.8M304.9 377.7L297.7 381.8L304.9 386.0M336.7 381.8L315.8 381.8M323.0 377.6L315.8 381.8L323.0 386.0M354.8 381.8L333.8 381.8M341.1 377.6L333.8 381.8L341.1 386.0M373.0 381.8L352.0 381.8M359.3 377.6L352.0 381.8L359.3 386.0M391.2 381.8L370.4 381.7M377.6 377.6L370.4 381.7L377.6 385.9M409.4 381.8L388.9 381.7M396.0 377.6L388.9 381.7L395.9 385.8M427.5 381.8L407.3 381.7M414.3 377.7L407.3 381.7L414.3 385.8M445.7 381.8L425.7 381.7M432.7 377.7L425.7 381.7L432.6 385.7M463.9 381.8L444.2 381.2M451.1 377.5L444.2 381.2L450.9 385.3M482.1 381.8L463.1 380.7M469.9 377.3L463.1 380.7L469.5 384.9M500.2 381.8L482.1 380.3M488.7 377.2L482.1 380.3L488.0 384.4M518.4 381.8L501.0 379.8M507.4 377.0L501.0 379.8L506.6 384.0M536.6 381.8L520.1 378.6M526.4 376.4L520.1 378.6L525.1 383.0M554.8 381.8L539.1 377.3M545.4 375.8L539.1 377.3L543.6 382.0M572.9 381.8L558.2 376.1M564.5 375.1L558.2 376.1L562.1 381.0M591.1 381.8L576.8 375.3M583.1 374.7L576.8 375.3L580.5 380.4M609.3 381.8L595.8 374.5M601.9 374.3L595.8 374.5L599.0 379.7M627.5 381.8L614.4 373.9M620.5 374.0L614.4 373.9L617.3 379.2M645.6 381.8L632.9 373.3M639.0 373.7L632.9 373.3L635.6 378.8M663.8 381.8L651.5 372.7M657.6 373.4L651.5 372.7L653.9 378.3M682.0 381.8L670.0 371.9M676.2 372.9L670.0 371.9L672.2 377.7M700.1 381.8L688.6 371.1M694.7 372.5L688.6 371.1L690.5 377.2M718.3 381.8L707.2 370.4M713.3 372.1L707.2 370.4L708.7 376.6M736.5 381.8L726.1 369.7M732.1 371.8L726.1 369.7L727.3 376.0M754.7 381.8L744.4 369.2M750.5 371.5L744.4 369.2L745.4 375.6M772.9 381.8L762.8 368.6M768.9 371.2L762.8 368.6L763.6 375.2M791.0 381.8L781.2 368.2M787.4 371.0L781.2 368.2L781.9 374.9M282.1 400.0L262.9 400.0M269.5 396.1L262.9 400.0L269.5 403.9M300.3 400.0L279.8 400.0M286.9 395.9L279.8 400.0L286.9 404.1M318.5 400.0L297.9 400.0M305.0 395.9L297.9 400.0L305.0 404.1M336.7 400.0L315.9 400.0M323.1 395.9L315.9 400.0L323.1 404.1M354.8 400.0L333.9 400.0M341.2 395.8L333.9 400.0L341.2 404.2M373.0 400.0L352.0 400.0M359.3 395.8L352.0 400.0L359.3 404.2M391.2 400.0L370.4 400.0M377.6 395.9L370.4 400.0L377.6 404.1M409.4 400.0L388.9 400.0M396.0 395.9L388.9 400.0L396.0 404.1M427.5 400.0L407.3 400.0M414.3 395.9L407.3 400.0L414.3 404.1M445.7 400.0L425.7 400.0M432.6 396.0L425.7 400.0L432.6 404.0M463.9 400.0L444.6 399.6M451.4 395.9L444.6 399.6L451.2 403.6M482.1 400.0L463.6 399.1M470.2 395.7L463.6 399.1L469.8 403.1M500.2 400.0L482.5 398.7M488.9 395.6L482.5 398.7L488.4 402.7M518.4 400.0L501.5 398.2M507.7 395.5L501.5 398.2L507.0 402.2M536.6 400.0L520.6 397.0M526.7 394.8L520.6 397.0L525.5 401.2M554.8 400.0L539.6 395.7M545.7 394.2L539.6 395.7L544.0 400.2M572.9 400.0L558.7 394.4M564.7 393.5L558.7 394.4L562.5 399.2M591.1 400.0L577.7 393.2M583.7 392.9L577.7 393.2L581.0 398.2M609.3 400.0L596.3 392.6M602.3 392.6L596.3 392.6L599.3 397.7M627.5 400.0L614.9 392.0M620.8 392.2L614.9 392.0L617.6 397.3M645.6 400.0L633.4 391.4M639.4 391.9L633.4 391.4L635.9 396.8M663.8 400.0L652.0 390.8M657.9 391.6L652.0 390.8L654.2 396.3M682.0 400.0L670.5 390.0M676.5 391.2L670.5 390.0L672.5 395.8M700.1 400.0L689.1 389.3M695.1 390.8L689.1 389.3L690.8 395.2M718.3 400.0L707.7 388.5M713.7 390.3L707.7 388.5L709.1 394.6M736.5 400.0L726.2 387.7M732.2 389.9L726.2 387.7L727.3 394.0M754.7 400.0L744.6 387.2M750.6 389.6L744.6 387.2L745.5 393.6M772.9 400.0L762.9 386.6M769.0 389.3L762.9 386.6L763.7 393.2M791.0 400.0L781.3 386.1M787.4 388.9L781.3 386.1L781.9 392.8M300.3 418.2L280.9 418.2M287.6 414.3L280.9 418.2L287.6 422.1M318.5 418.2L299.0 418.2M305.7 414.3L299.0 418.2L305.7 422.1M336.7 418.2L317.0 418.2M323.8 414.2L317.0 418.2L323.8 422.1M354.8 418.2L335.1 418.2M341.9 414.2L335.1 418.2L341.9 422.1M373.0 418.2L353.1 418.2M360.0 414.2L353.1 418.2L360.0 422.2M391.2 418.2L371.2 418.0M378.2 414.0L371.2 418.0L378.1 422.0M409.4 418.2L389.6 418.0M396.5 414.1L389.6 418.0L396.4 422.0M427.5 418.2L408.0 418.0M414.8 414.1L408.0 418.0L414.7 421.9M445.7 418.2L426.5 418.0M433.2 414.2L426.5 418.0L433.1 421.9M463.9 418.2L445.4 417.5M451.9 414.0L445.4 417.5L451.7 421.4M482.1 418.2L464.4 417.1M470.7 413.9L464.4 417.1L470.3 421.0M500.2 418.2L483.3 416.6M489.5 413.8L483.3 416.6L488.9 420.5M518.4 418.2L501.7 415.8M508.0 413.3L501.7 415.8L507.0 420.0M536.6 418.2L520.8 414.6M527.0 412.7L520.8 414.6L525.5 419.0M554.8 418.2L539.8 413.3M546.0 412.0L539.8 413.3L544.0 418.0M572.9 418.2L558.9 412.1M565.0 411.4L558.9 412.1L562.5 417.0M591.1 418.2L577.9 411.0M583.9 410.9L577.9 411.0L581.1 416.1M609.3 418.2L596.5 410.1M602.5 410.4L596.5 410.1L599.3 415.5M627.5 418.2L615.1 409.5M621.1 410.1L615.1 409.5L617.6 415.0M645.6 418.2L633.6 408.9M639.6 409.7L633.6 408.9L635.9 414.5M663.8 418.2L652.2 408.3M658.2 409.4L652.2 408.3L654.3 414.1M682.0 418.2L670.8 407.6M676.8 409.0L670.8 407.6L672.5 413.5M700.1 418.2L689.3 406.8M695.3 408.6L689.3 406.8L690.8 412.9M718.3 418.2L707.9 406.1M713.9 408.2L707.9 406.1L709.1 412.3M736.5 418.2L726.4 405.2M732.5 407.7L726.4 405.2L727.3 411.7M754.7 418.2L744.8 404.6M750.9 407.3L744.8 404.6L745.5 411.3M772.9 418.2L763.1 404.1M769.3 407.0L763.1 404.1L763.7 410.9M791.0 418.2L781.4 403.3M787.7 406.5L781.4 403.3L781.7 410.4M336.7 436.4L318.2 436.4M324.6 432.7L318.2 436.4L324.6 440.1M354.8 436.4L336.2 436.4M342.7 432.6L336.2 436.4L342.7 440.1M373.0 436.4L354.2 436.4M360.7 432.6L354.2 436.4L360.7 440.1M391.2 436.4L372.3 436.1M378.9 432.4L372.3 436.1L378.8 440.0M409.4 436.4L390.4 435.9M397.0 432.3L390.4 435.9L396.9 439.9M427.5 436.4L408.8 435.9M415.4 432.3L408.8 435.9L415.2 439.8M445.7 436.4L427.2 435.9M433.7 432.4L427.2 435.9L433.5 439.8M463.9 436.4L446.2 435.5M452.5 432.2L446.2 435.5L452.1 439.3M482.1 436.4L465.1 435.0M471.2 432.1L465.1 435.0L470.7 438.9M500.2 436.4L483.5 434.2M489.7 431.6L483.5 434.2L488.9 438.3M518.4 436.4L501.9 433.5M508.2 431.2L501.9 433.5L507.1 437.8M536.6 436.4L521.0 432.2M527.2 430.5L521.0 432.2L525.6 436.8M554.8 436.4L540.1 430.9M546.2 429.9L540.1 430.9L544.1 435.8M572.9 436.4L559.1 429.9M565.2 429.4L559.1 429.9L562.6 434.9M591.1 436.4L578.1 428.9M584.1 428.9L578.1 428.9L581.1 434.0M609.3 436.4L596.7 428.0M602.7 428.4L596.7 428.0L599.4 433.4M627.5 436.4L615.3 427.1M621.4 427.9L615.3 427.1L617.7 432.7M645.6 436.4L633.9 426.5M639.9 427.6L633.9 426.5L636.0 432.3M663.8 436.4L652.4 425.9M658.5 427.2L652.4 425.9L654.3 431.8M682.0 436.4L671.0 425.1M677.0 426.8L671.0 425.1L672.6 431.2M700.1 436.4L689.6 424.4M695.6 426.4L689.6 424.4L690.8 430.6M718.3 436.4L708.1 423.5M714.2 425.9L708.1 423.5L709.0 430.0M736.5 436.4L726.6 422.6M732.8 425.4L726.6 422.6L727.3 429.3M754.7 436.4L744.9 422.0M751.2 425.0L744.9 422.0L745.4 428.9M772.9 436.4L763.2 421.4M769.6 424.6L763.2 421.4L763.6 428.5M791.0 436.4L781.5 420.6M787.9 424.1L781.5 420.6L781.6 427.9M336.7 454.5L319.3 454.5M325.3 451.1L319.3 454.5L325.3 458.0M354.8 454.5L337.3 454.5M343.4 451.0L337.3 454.5L343.4 458.0M373.0 454.5L355.4 454.5M361.5 451.0L355.4 454.5L361.5 458.1M391.2 454.5L373.4 454.3M379.6 450.8L373.4 454.3L379.5 457.9M409.4 454.5L391.5 454.1M397.8 450.7L391.5 454.1L397.6 457.8M427.5 454.5L409.5 453.9M415.9 450.5L409.5 453.9L415.6 457.7M445.7 454.5L428.0 453.9M434.2 450.5L428.0 453.9L434.0 457.6M463.9 454.5L446.9 453.4M453.0 450.4L446.9 453.4L452.6 457.2M482.1 454.5L465.3 452.6M471.5 449.9L465.3 452.6L470.7 456.6M500.2 454.5L483.7 451.9M490.0 449.5L483.7 451.9L488.9 456.1M518.4 454.5L502.2 451.1M508.5 449.0L502.2 451.1L507.1 455.5M536.6 454.5L521.2 449.8M527.5 448.4L521.2 449.8L525.6 454.5M554.8 454.5L540.3 448.8M546.4 447.9L540.3 448.8L544.1 453.7M572.9 454.5L559.3 447.7M565.4 447.4L559.3 447.7L562.7 452.8M591.1 454.5L578.3 446.7M584.3 446.9L578.3 446.7L581.2 452.0M609.3 454.5L596.9 445.8M602.9 446.4L596.9 445.8L599.5 451.3M627.5 454.5L615.5 444.9M621.6 445.9L615.5 444.9L617.7 450.6M645.6 454.5L634.1 444.0M640.2 445.4L634.1 444.0L636.0 450.0M663.8 454.5L652.7 443.4M658.7 445.1L652.7 443.4L654.3 449.5M682.0 454.5L671.2 442.7M677.3 444.6L671.2 442.7L672.6 448.9M700.1 454.5L689.7 441.8M695.9 444.1L689.7 441.8L690.8 448.3M718.3 454.5L708.3 440.9M714.5 443.6L708.3 440.9L709.0 447.6M736.5 454.5L726.8 440.0M733.0 443.1L726.8 440.0L727.2 447.0M754.7 454.5L745.1 439.4M751.4 442.7L745.1 439.4L745.4 446.6M772.9 454.5L763.3 438.6M769.8 442.2L763.3 438.6L763.4 446.0M791.0 454.5L781.5 437.8M788.2 441.7L781.5 437.8L781.5 445.5M336.7 472.7L320.4 472.7M326.0 469.5L320.4 472.7L326.0 476.0M354.8 472.7L338.4 472.7M344.1 469.4L338.4 472.7L344.1 476.0M373.0 472.7L356.5 472.7M362.2 469.4L356.5 472.7L362.2 476.0M391.2 472.7L374.6 472.5M380.4 469.2L374.6 472.5L380.3 475.9M409.4 472.7L392.6 472.3M398.5 469.1L392.6 472.3L398.3 475.8M427.5 472.7L410.7 472.0M416.6 468.9L410.7 472.0L416.4 475.6M445.7 472.7L428.7 471.8M434.8 468.7L428.7 471.8L434.4 475.5M463.9 472.7L447.1 471.0M453.3 468.3L447.1 471.0L452.6 475.0M482.1 472.7L465.6 470.3M471.8 467.8L465.6 470.3L470.8 474.4M500.2 472.7L484.0 469.5M490.2 467.3L484.0 469.5L489.0 473.8M518.4 472.7L502.4 468.7M508.7 466.9L502.4 468.7L507.1 473.3M536.6 472.7L521.4 467.7M527.7 466.4L521.4 467.7L525.7 472.4M554.8 472.7L540.5 466.6M546.6 465.9L540.5 466.6L544.2 471.6M572.9 472.7L559.5 465.6M565.6 465.4L559.5 465.6L562.7 470.7M591.1 472.7L578.5 464.5M584.5 464.8L578.5 464.5L581.2 469.9M609.3 472.7L597.1 463.6M603.1 464.4L597.1 463.6L599.5 469.2M627.5 472.7L615.7 462.8M621.8 463.9L615.7 462.8L617.8 468.6M645.6 472.7L634.3 461.9M640.4 463.4L634.3 461.9L636.1 467.9M663.8 472.7L652.9 461.0M659.0 462.9L652.9 461.0L654.3 467.2M682.0 472.7L671.4 460.1M677.6 462.4L671.4 460.1L672.5 466.6M700.1 472.7L689.9 459.2M696.2 461.8L689.9 459.2L690.8 465.9M718.3 472.7L708.4 458.3M714.7 461.3L708.4 458.3L709.0 465.3M736.5 472.7L727.0 457.4M733.3 460.8L727.0 457.4L727.2 464.6M754.7 472.7L745.2 456.6M751.7 460.3L745.2 456.6L745.3 464.1M772.9 472.7L763.4 455.8M770.1 459.8L763.4 455.8L763.3 463.6M791.0 472.7L781.6 455.0M788.4 459.3L781.6 455.0L781.4 463.0M318.5 490.9L303.7 490.4M308.9 487.6L303.7 490.4L308.8 493.5M336.7 490.9L321.8 490.4M327.0 487.6L321.8 490.4L326.8 493.5M354.8 490.9L339.8 490.4M345.1 487.6L339.8 490.4L344.9 493.6M373.0 490.9L358.1 490.1M363.4 487.3L358.1 490.1L363.1 493.3M391.2 490.9L376.3 489.7M381.7 487.1L376.3 489.7L381.2 493.1M409.4 490.9L394.3 489.5M399.8 487.0L394.3 489.5L399.3 493.0M427.5 490.9L412.4 489.3M418.0 486.8L412.4 489.3L417.3 492.8M445.7 490.9L430.8 488.6M436.4 486.4L430.8 488.6L435.5 492.4M463.9 490.9L449.1 487.9M454.8 486.0L449.1 487.9L453.6 491.9M482.1 490.9L467.5 487.1M473.3 485.5L467.5 487.1L471.8 491.3M500.2 490.9L486.0 486.4M491.8 485.1L486.0 486.4L490.0 490.8M518.4 490.9L504.7 485.4M510.5 484.6L504.7 485.4L508.3 490.1M536.6 490.9L523.4 484.5M529.2 484.1L523.4 484.5L526.7 489.4M554.8 490.9L542.4 483.5M548.2 483.6L542.4 483.5L545.2 488.5M572.9 490.9L561.5 482.5M567.1 483.1L561.5 482.5L563.7 487.7M591.1 490.9L580.8 482.7M586.0 483.5L580.8 482.7L582.7 487.6M609.3 490.9L599.4 481.8M604.6 483.0L599.4 481.8L601.0 486.9M627.5 490.9L618.0 480.9M623.3 482.5L618.0 480.9L619.3 486.2M645.6 490.9L636.6 480.0M641.9 482.0L636.6 480.0L637.6 485.6M663.8 490.9L655.0 479.4M660.4 481.6L655.0 479.4L655.8 485.1M682.0 490.9L673.4 478.9M678.8 481.3L673.4 478.9L674.0 484.7M700.1 490.9L691.9 478.0M697.3 480.8L691.9 478.0L692.2 484.1M718.3 490.9L710.4 477.1M715.9 480.3L710.4 477.1L710.4 483.4M736.5 490.9L729.0 476.2M734.5 479.8L729.0 476.2L728.6 482.8M754.7 490.9L747.2 475.7M752.8 479.5L747.2 475.7L746.8 482.5M772.9 490.9L765.5 474.9M771.2 479.0L765.5 474.9L764.8 481.9M791.0 490.9L783.7 474.1M789.6 478.5L783.7 474.1L782.9 481.4M300.3 509.1L287.3 508.7M291.9 506.2L287.3 508.7L291.7 511.4M318.5 509.1L305.2 508.4M310.0 506.0L305.2 508.4L309.7 511.3M336.7 509.1L323.2 508.1M328.0 505.7L323.2 508.1L327.7 511.1M354.8 509.1L341.4 507.8M346.3 505.5L341.4 507.8L345.8 510.9M373.0 509.1L359.6 507.4M364.6 505.3L359.6 507.4L363.9 510.7M391.2 509.1L377.8 507.1M382.9 505.1L377.8 507.1L382.1 510.4M409.4 509.1L396.1 506.7M401.1 504.9L396.1 506.7L400.2 510.2M427.5 509.1L414.4 506.0M419.6 504.5L414.4 506.0L418.4 509.7M445.7 509.1L432.8 505.3M438.0 504.1L432.8 505.3L436.5 509.2M463.9 509.1L451.2 504.7M456.4 503.6L451.2 504.7L454.7 508.7M482.1 509.1L469.5 504.0M474.9 503.2L469.5 504.0L472.9 508.2M500.2 509.1L488.3 503.1M493.6 502.8L488.3 503.1L491.2 507.5M518.4 509.1L507.0 502.2M512.3 502.3L507.0 502.2L509.6 506.8M536.6 509.1L525.7 501.3M531.0 501.8L525.7 501.3L527.9 506.1M554.8 509.1L544.4 500.4M549.7 501.3L544.4 500.4L546.3 505.4M572.9 509.1L563.8 500.6M568.6 501.7L563.8 500.6L565.2 505.3M591.1 509.1L583.1 500.8M587.5 502.1L583.1 500.8L584.2 505.2M609.3 509.1L601.7 499.9M606.2 501.6L601.7 499.9L602.5 504.6M627.5 509.1L620.3 499.0M624.8 501.1L620.3 499.0L620.8 503.9M645.6 509.1L638.8 498.4M643.3 500.7L638.8 498.4L639.0 503.5M663.8 509.1L657.2 497.8M661.7 500.4L657.2 497.8L657.2 503.0M682.0 509.1L675.6 497.3M680.1 500.1L675.6 497.3L675.4 502.6M700.1 509.1L693.9 496.7M698.5 499.8L693.9 496.7L693.6 502.3M718.3 509.1L712.4 495.9M717.1 499.2L712.4 495.9L711.8 501.6M736.5 509.1L730.9 495.0M735.7 498.7L730.9 495.0L730.0 501.0M754.7 509.1L749.2 494.6M754.0 498.5L749.2 494.6L748.2 500.7M772.9 509.1L767.5 494.0M772.4 498.2L767.5 494.0L766.3 500.3M791.0 509.1L785.7 493.2M790.7 497.7L785.7 493.2L784.4 499.8M282.1 527.2L270.6 526.9M274.7 524.7L270.6 526.9L274.5 529.3M300.3 527.2L288.8 526.7M292.9 524.6L288.8 526.7L292.7 529.2M318.5 527.2L306.8 526.4M311.0 524.3L306.8 526.4L310.7 529.0M336.7 527.2L324.7 525.8M329.2 523.9L324.7 525.8L328.6 528.7M354.8 527.2L343.2 525.5M347.6 523.8L343.2 525.5L346.9 528.4M373.0 527.2L361.5 525.2M365.9 523.6L361.5 525.2L365.1 528.2M391.2 527.2L379.7 524.8M384.1 523.4L379.7 524.8L383.2 528.0M409.4 527.2L397.8 524.1M402.4 522.9L397.8 524.1L401.2 527.5M427.5 527.2L416.6 523.4M421.2 522.5L416.6 523.4L419.6 526.9M445.7 527.2L435.0 522.7M439.6 522.1L435.0 522.7L437.8 526.4M463.9 527.2L453.4 522.0M458.0 521.7L453.4 522.0L456.0 525.9M482.1 527.2L471.7 521.2M476.5 521.2L471.7 521.2L474.1 525.4M500.2 527.2L490.6 520.7M495.2 521.0L490.6 520.7L492.6 524.9M518.4 527.2L509.3 519.8M514.0 520.5L509.3 519.8L511.0 524.2M536.6 527.2L528.0 518.9M532.7 520.1L528.0 518.9L529.3 523.5M554.8 527.2L547.0 518.0M551.5 519.7L547.0 518.0L547.9 522.8M572.9 527.2L566.1 518.7M570.1 520.3L566.1 518.7L566.7 523.0M591.1 527.2L585.4 518.9M589.1 520.7L585.4 518.9L585.7 522.9M609.3 527.2L604.0 518.0M607.7 520.2L604.0 518.0L604.0 522.3M627.5 527.2L622.5 517.4M626.1 519.8L622.5 517.4L622.2 521.8M645.6 527.2L640.9 516.8M644.6 519.5L640.9 516.8L640.5 521.4M663.8 527.2L659.4 516.2M663.1 519.2L659.4 516.2L658.7 520.9M682.0 527.2L677.7 515.7M681.5 518.8L677.7 515.7L676.9 520.5M700.1 527.2L696.1 515.2M699.9 518.5L696.1 515.2L695.1 520.2M718.3 527.2L714.4 514.6M718.3 518.2L714.4 514.6L713.2 519.8M736.5 527.2L732.9 513.7M736.9 517.7L732.9 513.7L731.5 519.1M754.7 527.2L751.2 513.4M755.2 517.5L751.2 513.4L749.7 518.9M772.9 527.2L769.5 513.0M773.5 517.3L769.5 513.0L767.8 518.6M791.0 527.2L787.8 512.4M791.9 516.9L787.8 512.4L785.9 518.2M264.0 545.4L254.0 545.1M257.5 543.2L254.0 545.1L257.4 547.2M282.1 545.4L272.1 544.9M275.7 543.1L272.1 544.9L275.5 547.1M300.3 545.4L290.3 544.7M293.9 542.9L290.3 544.7L293.6 546.9M318.5 545.4L308.0 544.4M311.8 542.7L308.0 544.4L311.5 546.9M336.7 545.4L325.7 544.2M329.8 542.4L325.7 544.2L329.3 546.8M354.8 545.4L344.5 543.6M348.4 542.1L344.5 543.6L347.7 546.3M373.0 545.4L363.3 543.0M367.1 541.9L363.3 543.0L366.2 545.8M391.2 545.4L381.3 542.0M385.4 541.2L381.3 542.0L384.0 545.1M409.4 545.4L399.3 541.0M403.6 540.5L399.3 541.0L401.9 544.5M427.5 545.4L418.2 540.5M422.4 540.4L418.2 540.5L420.5 544.1M445.7 545.4L437.2 540.1M441.2 540.2L437.2 540.1L439.1 543.6M463.9 545.4L455.6 539.5M459.6 539.9L455.6 539.5L457.3 543.2M482.1 545.4L474.0 539.0M478.1 539.6L474.0 539.0L475.5 542.8M500.2 545.4L492.8 538.2M496.8 539.2L492.8 538.2L493.9 542.2M518.4 545.4L511.7 537.4M515.6 538.8L511.7 537.4L512.4 541.5M536.6 545.4L530.4 537.0M534.2 538.7L530.4 537.0L530.9 541.1M554.8 545.4L549.1 536.6M552.8 538.6L549.1 536.6L549.3 540.8M572.9 545.4L568.4 536.9M571.7 538.9L568.4 536.9L568.3 540.7M591.1 545.4L587.7 537.1M590.6 539.3L587.7 537.1L587.2 540.6M609.3 545.4L606.2 536.5M609.0 538.9L606.2 536.5L605.5 540.2M627.5 545.4L624.6 535.8M627.5 538.6L624.6 535.8L623.7 539.7M645.6 545.4L643.1 535.2M646.0 538.3L643.1 535.2L641.9 539.3M663.8 545.4L661.5 534.6M664.5 537.9L661.5 534.6L660.2 538.8M682.0 545.4L679.9 534.1M682.9 537.6L679.9 534.1L678.3 538.4M700.1 545.4L698.2 533.6M701.3 537.3L698.2 533.6L696.5 538.1M718.3 545.4L716.6 533.0M719.6 537.0L716.6 533.0L714.7 537.7M736.5 545.4L734.9 532.5M738.0 536.6L734.9 532.5L732.9 537.3M754.7 545.4L753.2 532.1M756.4 536.4L753.2 532.1L751.1 537.0M772.9 545.4L771.5 531.8M774.7 536.2L771.5 531.8L769.3 536.8M791.0 545.4L789.8 531.5M793.0 536.0L789.8 531.5L787.4 536.5M245.8 563.6L235.6 564.4M239.0 562.1L235.6 564.4L239.3 566.1M264.0 563.6L254.0 563.7M257.4 561.7L254.0 563.7L257.5 565.7M282.1 563.6L272.1 563.6M275.6 561.6L272.1 563.6L275.6 565.6M300.3 563.6L290.3 563.4M293.8 561.5L290.3 563.4L293.7 565.5M318.5 563.6L309.0 562.8M312.4 561.2L309.0 562.8L312.1 565.0M336.7 563.6L326.7 562.6M330.4 560.9L326.7 562.6L329.9 564.9M354.8 563.6L345.5 562.0M349.0 560.7L345.5 562.0L348.4 564.4M373.0 563.6L364.0 560.1M367.8 559.5L364.0 560.1L366.4 563.1M391.2 563.6L382.8 558.8M386.6 558.8L382.8 558.8L384.7 562.2M409.4 563.6L400.8 557.8M404.9 558.1L400.8 557.8L402.6 561.5M427.5 563.6L419.7 557.4M423.7 558.0L419.7 557.4L421.2 561.1M445.7 563.6L439.1 557.1M442.7 558.0L439.1 557.1L440.1 560.7M463.9 563.6L457.9 557.3M461.3 558.3L457.9 557.3L458.7 560.7M482.1 563.6L476.3 556.7M479.7 558.0L476.3 556.7L476.9 560.3M500.2 563.6L495.2 555.9M498.4 557.6L495.2 555.9L495.4 559.6M518.4 563.6L513.8 555.8M517.0 557.6L513.8 555.8L513.9 559.4M536.6 563.6L532.5 555.6M535.5 557.6L532.5 555.6L532.3 559.2M554.8 563.6L551.3 555.3M554.1 557.4L551.3 555.3L550.8 558.8M572.9 563.6L570.5 555.5M573.0 557.8L570.5 555.5L569.7 558.7M591.1 563.6L589.3 555.2M591.6 557.7L589.3 555.2L588.2 558.5M609.3 563.6L608.0 554.6M610.2 557.4L608.0 554.6L606.6 558.0M627.5 563.6L626.4 554.0M628.7 557.1L626.4 554.0L624.9 557.5M645.6 563.6L644.9 553.4M647.2 556.8L644.9 553.4L643.1 557.1M663.8 563.6L663.3 552.8M665.6 556.4L663.3 552.8L661.3 556.6M682.0 563.6L681.7 552.2M684.0 556.1L681.7 552.2L679.5 556.2M700.1 563.6L700.0 551.7M702.4 555.8L700.0 551.7L697.7 555.8M718.3 563.6L718.4 551.2M720.8 555.5L718.4 551.2L715.9 555.5M736.5 563.6L737.0 550.8M739.4 555.3L737.0 550.8L734.2 555.1M754.7 563.6L755.4 550.6M757.7 555.2L755.4 550.6L752.5 554.9M772.9 563.6L773.7 550.2M776.1 555.0L773.7 550.2L770.7 554.7M791.0 563.6L792.0 549.9M794.4 554.8L792.0 549.9L788.9 554.4M209.4 581.8L198.7 585.3M201.7 581.9L198.7 585.3L203.1 586.2M227.6 581.8L217.0 584.6M220.1 581.5L217.0 584.6L221.3 585.7M245.8 581.8L235.3 584.0M238.5 581.1L235.3 584.0L239.4 585.3M264.0 581.8L253.7 583.3M256.9 580.7L253.7 583.3L257.5 584.8M282.1 581.8L272.0 582.7M275.3 580.4L272.0 582.7L275.7 584.4M300.3 581.8L290.3 582.1M293.7 580.0L290.3 582.1L293.8 584.0M318.5 581.8L309.0 581.5M312.3 579.7L309.0 581.5L312.2 583.5M336.7 581.8L327.7 581.0M330.9 579.4L327.7 581.0L330.6 583.0M354.8 581.8L346.1 579.1M349.7 578.3L346.1 579.1L348.6 581.8M373.0 581.8L364.6 577.3M368.4 577.2L364.6 577.3L366.6 580.5M391.2 581.8L383.4 576.0M387.3 576.4L383.4 576.0L385.0 579.5M409.4 581.8L402.3 574.7M406.1 575.7L402.3 574.7L403.3 578.5M427.5 581.8L421.6 574.4M425.1 575.8L421.6 574.4L422.2 578.1M445.7 581.8L440.9 574.1M444.1 575.8L440.9 574.1L441.1 577.7M463.9 581.8L459.8 574.3M462.7 576.1L459.8 574.3L459.7 577.7M482.1 581.8L478.7 574.5M481.3 576.3L478.7 574.5L478.4 577.7M500.2 581.8L497.3 574.3M499.8 576.3L497.3 574.3L496.9 577.5M518.4 581.8L516.0 574.2M518.4 576.3L516.0 574.2L515.3 577.3M536.6 581.8L534.7 574.0M536.9 576.3L534.7 574.0L533.8 577.1M554.8 581.8L553.4 573.9M555.4 576.3L553.4 573.9L552.3 576.9M572.9 581.8L572.1 573.6M574.0 576.2L572.1 573.6L570.7 576.6M591.1 581.8L590.8 573.3M592.6 576.2L590.8 573.3L589.2 576.3M609.3 581.8L609.5 572.7M611.2 575.9L609.5 572.7L607.6 575.8M627.5 581.8L628.2 572.1M629.9 575.6L628.2 572.1L626.0 575.3M645.6 581.8L646.7 571.5M648.3 575.3L646.7 571.5L644.2 574.8M663.8 581.8L665.1 570.9M666.8 574.9L665.1 570.9L662.5 574.4M682.0 581.8L683.4 570.4M685.2 574.6L683.4 570.4L680.7 574.0M700.1 581.8L701.8 569.8M703.6 574.3L701.8 569.8L698.8 573.6M718.3 581.8L720.4 569.5M722.1 574.1L720.4 569.5L717.2 573.3M736.5 581.8L739.0 569.1M740.7 574.0L739.0 569.1L735.6 573.0M754.7 581.8L757.5 568.9M759.1 573.9L757.5 568.9L753.9 572.8M772.9 581.8L775.9 568.6M777.4 573.8L775.9 568.6L772.2 572.6M791.0 581.8L794.2 568.3M795.8 573.6L794.2 568.3L790.4 572.3M136.7 599.9L125.7 607.1M128.1 602.4L125.7 607.1L131.0 606.8M154.9 599.9L143.7 606.7M146.3 602.1L143.7 606.7L149.0 606.6M173.1 599.9L161.8 606.3M164.4 601.8L161.8 606.3L167.0 606.4M191.2 599.9L180.1 605.6M182.8 601.4L180.1 605.6L185.1 605.9M209.4 599.9L198.4 604.9M201.2 601.0L198.4 604.9L203.2 605.4M227.6 599.9L216.7 604.2M219.7 600.5L216.7 604.2L221.4 604.9M245.8 599.9L235.1 603.6M238.0 600.2L235.1 603.6L239.5 604.4M264.0 599.9L253.4 602.9M256.4 599.8L253.4 602.9L257.6 604.0M282.1 599.9L271.9 602.0M275.0 599.2L271.9 602.0L275.8 603.3M300.3 599.9L290.4 601.0M293.6 598.6L290.4 601.0L294.0 602.6M318.5 599.9L309.1 600.4M312.2 598.4L309.1 600.4L312.4 602.1M336.7 599.9L328.2 598.8M331.4 597.5L328.2 598.8L330.9 600.9M354.8 599.9L346.5 597.5M349.9 596.7L346.5 597.5L348.9 600.0M373.0 599.9L364.8 596.1M368.4 595.8L364.8 596.1L366.9 599.1M391.2 599.9L384.2 594.4M387.7 594.9L384.2 594.4L385.5 597.7M409.4 599.9L403.3 594.0M406.6 594.8L403.3 594.0L404.2 597.3M427.5 599.9L422.4 593.6M425.4 594.7L422.4 593.6L422.9 596.8M445.7 599.9L441.7 593.3M444.4 594.8L441.7 593.3L441.8 596.4M463.9 599.9L460.6 593.5M463.0 595.1L460.6 593.5L460.4 596.4M482.1 599.9L479.4 593.4M481.6 595.1L479.4 593.4L479.0 596.2M500.2 599.9L498.3 593.3M500.3 595.2L498.3 593.3L497.6 596.0M518.4 599.9L516.9 593.2M518.8 595.2L516.9 593.2L516.1 595.8M536.6 599.9L535.6 593.0M537.3 595.2L535.6 593.0L534.6 595.6M554.8 599.9L554.6 592.4M556.2 594.9L554.6 592.4L553.2 595.0M572.9 599.9L573.6 591.7M575.0 594.7L573.6 591.7L571.7 594.4M591.1 599.9L592.3 591.4M593.6 594.6L592.3 591.4L590.2 594.1M609.3 599.9L611.0 590.8M612.3 594.3L611.0 590.8L608.6 593.6M627.5 599.9L629.7 590.2M630.9 594.0L629.7 590.2L627.0 593.1M645.6 599.9L648.4 589.6M649.5 593.8L648.4 589.6L645.4 592.6M663.8 599.9L666.9 589.0M668.0 593.4L666.9 589.0L663.6 592.2M682.0 599.9L685.2 588.5M686.4 593.1L685.2 588.5L681.8 591.8M700.1 599.9L703.8 588.1M704.9 593.0L703.8 588.1L700.2 591.5M718.3 599.9L722.4 587.8M723.4 592.8L722.4 587.8L718.6 591.2M736.5 599.9L741.0 587.4M742.0 592.7L741.0 587.4L737.0 590.9M754.7 599.9L759.5 587.2M760.4 592.6L759.5 587.2L755.3 590.7M772.9 599.9L778.0 587.0M778.8 592.5L778.0 587.0L773.6 590.5M791.0 599.9L796.3 586.7M797.1 592.3L796.3 586.7L791.9 590.2M27.7 618.1L18.4 629.8M19.3 623.9L18.4 629.8L24.0 627.6M45.9 618.1L36.0 629.3M37.2 623.4L36.0 629.3L41.6 627.4M64.0 618.1L53.5 628.7M55.0 622.9L53.5 628.7L59.3 627.1M82.2 618.1L71.1 628.1M72.9 622.4L71.1 628.1L76.9 626.9M100.4 618.1L89.1 627.8M91.1 622.2L89.1 627.8L94.9 626.7M118.6 618.1L107.1 627.4M109.2 621.9L107.1 627.4L112.9 626.5M136.7 618.1L125.1 627.0M127.4 621.6L125.1 627.0L130.9 626.2M154.9 618.1L143.2 626.6M145.5 621.3L143.2 626.6L148.9 626.0M173.1 618.1L161.5 625.9M163.9 620.9L161.5 625.9L167.1 625.5M191.2 618.1L179.8 625.2M182.4 620.5L179.8 625.2L185.2 625.0M209.4 618.1L198.1 624.5M200.8 620.0L198.1 624.5L203.3 624.5M227.6 618.1L216.5 623.8M219.2 619.6L216.5 623.8L221.5 624.0M245.8 618.1L235.0 622.8M237.8 619.0L235.0 622.8L239.6 623.3M264.0 618.1L253.5 621.8M256.4 618.4L253.5 621.8L257.8 622.6M282.1 618.1L272.0 620.8M274.9 617.8L272.0 620.8L276.0 621.9M300.3 618.1L290.5 619.8M293.5 617.3L290.5 619.8L294.2 621.2M318.5 618.1L309.6 618.3M312.6 616.4L309.6 618.3L312.7 620.0M336.7 618.1L328.8 616.7M331.8 615.6L328.8 616.7L331.2 618.8M354.8 618.1L347.4 615.4M350.5 614.9L347.4 615.4L349.4 617.8M373.0 618.1L366.1 614.1M369.3 614.1L366.1 614.1L367.7 616.9M391.2 618.1L385.2 613.7M388.1 614.0L385.2 613.7L386.4 616.4M409.4 618.1L404.3 613.3M407.0 613.9L404.3 613.3L405.1 616.0M427.5 618.1L423.4 612.9M425.8 613.9L423.4 612.9L423.8 615.5M445.7 618.1L442.5 612.5M444.7 613.8L442.5 612.5L442.5 615.1M463.9 618.1L461.3 612.4M463.3 613.9L461.3 612.4L461.1 614.9M482.1 618.1L480.2 612.3M482.0 613.9L480.2 612.3L479.7 614.7M500.2 618.1L499.0 612.2M500.6 614.0L499.0 612.2L498.3 614.5M518.4 618.1L517.9 612.1M519.3 614.1L517.9 612.1L516.9 614.3M536.6 618.1L536.9 611.5M538.1 613.8L536.9 611.5L535.4 613.7M554.8 618.1L555.9 610.8M556.9 613.6L555.9 610.8L554.0 613.1M572.9 618.1L574.9 610.2M575.8 613.3L574.9 610.2L572.6 612.5M591.1 618.1L593.9 609.5M594.6 613.1L593.9 609.5L591.2 611.9M609.3 618.1L612.6 608.9M613.3 612.8L612.6 608.9L609.6 611.5M627.5 618.1L631.3 608.3M631.9 612.5L631.3 608.3L628.0 611.0M645.6 618.1L650.0 607.7M650.5 612.2L650.0 607.7L646.4 610.5M663.8 618.1L668.7 607.1M669.2 611.9L668.7 607.1L664.8 610.0M682.0 618.1L687.3 606.8M687.7 611.8L687.3 606.8L683.2 609.6M700.1 618.1L705.9 606.4M706.2 611.6L705.9 606.4L701.6 609.3M718.3 618.1L724.5 606.1M724.7 611.5L724.5 606.1L719.9 609.0M736.5 618.1L743.1 605.7M743.3 611.3L743.1 605.7L738.3 608.7M754.7 618.1L761.6 605.5M761.7 611.3L761.6 605.5L756.7 608.5M772.9 618.1L780.0 605.3M780.1 611.2L780.0 605.3L775.0 608.3M791.0 618.1L798.5 605.1M798.5 611.1L798.5 605.1L793.3 608.1M9.5 636.3L-0.7 648.9M0.3 642.5L-0.7 648.9L5.4 646.6M27.7 636.3L17.2 648.4M18.4 642.1L17.2 648.4L23.2 646.3M45.9 636.3L35.0 647.9M36.5 641.7L35.0 647.9L41.1 646.0M64.0 636.3L52.6 647.3M54.3 641.2L52.6 647.3L58.8 645.8M82.2 636.3L70.1 646.8M72.2 640.7L70.1 646.8L76.4 645.5M100.4 636.3L88.3 645.9M90.6 640.2L88.3 645.9L94.4 645.0M118.6 636.3L106.5 645.0M108.9 639.6L106.5 645.0L112.4 644.4M136.7 636.3L124.5 644.7M127.1 639.3L124.5 644.7L130.4 644.2M154.9 636.3L142.5 644.3M145.2 639.0L142.5 644.3L148.4 644.0M173.1 636.3L160.9 643.6M163.6 638.6L160.9 643.6L166.6 643.5M191.2 636.3L179.2 642.9M182.0 638.2L179.2 642.9L184.7 643.0M209.4 636.3L197.9 642.1M200.7 637.7L197.9 642.1L203.0 642.4M227.6 636.3L216.6 641.2M219.4 637.3L216.6 641.2L221.4 641.7M245.8 636.3L235.1 640.3M238.0 636.7L235.1 640.3L239.6 641.0M264.0 636.3L253.6 639.3M256.6 636.2L253.6 639.3L257.8 640.3M282.1 636.3L272.1 638.3M275.2 635.6L272.1 638.3L276.0 639.6M300.3 636.3L291.9 637.6M294.6 635.4L291.9 637.6L295.1 638.8M318.5 636.3L311.1 636.0M313.7 634.6L311.1 636.0L313.6 637.6M336.7 636.3L330.0 635.1M332.6 634.2L330.0 635.1L332.1 636.8M354.8 636.3L348.7 634.3M351.2 633.8L348.7 634.3L350.4 636.2M373.0 636.3L367.4 633.0M370.0 633.0L367.4 633.0L368.7 635.3M391.2 636.3L386.2 632.0M388.8 632.5L386.2 632.0L387.1 634.5M409.4 636.3L405.3 631.6M407.6 632.4L405.3 631.6L405.8 634.1M427.5 636.3L424.4 631.2M426.5 632.3L424.4 631.2L424.5 633.6M445.7 636.3L443.5 630.8M445.3 632.3L443.5 630.8L443.2 633.2M463.9 636.3L462.3 630.7M464.0 632.3L462.3 630.7L461.8 633.0M482.1 636.3L481.2 630.6M482.6 632.4L481.2 630.6L480.4 632.8M500.2 636.3L500.0 630.6M501.3 632.5L500.0 630.6L499.0 632.6M518.4 636.3L519.5 629.4M520.5 632.0L519.5 629.4L517.8 631.5M536.6 636.3L538.5 628.7M539.4 631.7L538.5 628.7L536.3 630.9M554.8 636.3L557.5 628.1M558.2 631.5L557.5 628.1L554.9 630.4M572.9 636.3L576.5 627.4M577.1 631.2L576.5 627.4L573.5 629.8M591.1 636.3L595.6 626.5M596.0 630.8L595.6 626.5L592.1 629.0M609.3 636.3L614.2 626.2M614.5 630.7L614.2 626.2L610.5 628.7M627.5 636.3L632.9 625.6M633.2 630.4L632.9 625.6L628.9 628.2M645.6 636.3L651.6 625.0M651.8 630.1L651.6 625.0L647.3 627.7M663.8 636.3L670.3 624.4M670.4 629.8L670.3 624.4L665.7 627.2M682.0 636.3L688.7 624.4M688.7 629.9L688.7 624.4L684.0 627.2M700.1 636.3L707.3 624.1M707.3 629.7L707.3 624.1L702.4 626.9M718.3 636.3L725.9 623.7M725.8 629.6L725.9 623.7L720.8 626.6M736.5 636.3L744.5 623.4M744.3 629.4L744.5 623.4L739.1 626.2M754.7 636.3L762.8 623.4M762.6 629.5L762.8 623.4L757.4 626.2M772.9 636.3L781.3 623.2M781.0 629.4L781.3 623.2L775.7 626.0M791.0 636.3L799.8 622.9M799.4 629.3L799.8 622.9L794.1 625.8M9.5 654.5L-2.2 667.5M-0.8 660.6L-2.2 667.5L4.4 665.3M27.7 654.5L15.6 666.9M17.3 660.2L15.6 666.9L22.3 665.0M45.9 654.5L33.5 666.4M35.4 659.8L33.5 666.4L40.2 664.7M64.0 654.5L51.3 665.9M53.4 659.4L51.3 665.9L58.0 664.5M82.2 654.5L69.2 665.4M71.5 659.0L69.2 665.4L75.9 664.2M100.4 654.5L87.4 664.5M89.9 658.4L87.4 664.5L93.9 663.6M118.6 654.5L105.5 663.7M108.2 657.9L105.5 663.7L111.9 663.1M136.7 654.5L123.7 662.8M126.6 657.3L123.7 662.8L129.9 662.5M154.9 654.5L141.9 662.0M144.9 656.8L141.9 662.0L147.9 662.0M173.1 654.5L160.6 661.1M163.6 656.3L160.6 661.1L166.3 661.3M191.2 654.5L179.3 660.3M182.3 655.9L179.3 660.3L184.6 660.7M209.4 654.5L198.0 659.5M201.0 655.5L198.0 659.5L203.0 660.0M227.6 654.5L216.7 658.7M219.6 655.1L216.7 658.7L221.3 659.4M245.8 654.5L235.2 657.7M238.2 654.5L235.2 657.7L239.5 658.7M264.0 654.5L253.7 656.7M256.8 653.9L253.7 656.7L257.7 658.0M282.1 654.5L273.5 656.0M276.2 653.8L273.5 656.0L276.8 657.2M300.3 654.5L293.4 655.3M295.6 653.6L293.4 655.3L295.9 656.4M318.5 654.5L312.5 653.8M314.7 652.8L312.5 653.8L314.5 655.2M336.7 654.5L331.3 653.5M333.3 652.8L331.3 653.5L332.9 654.9M354.8 654.5L350.0 653.3M351.9 652.7L350.0 653.3L351.4 654.6M373.0 654.5L368.7 652.0M370.7 652.0L368.7 652.0L369.7 653.7M391.2 654.5L387.5 651.0M389.5 651.4L387.5 651.0L388.1 652.9M409.4 654.5L406.3 650.0M408.3 650.9L406.3 650.0L406.5 652.1M427.5 654.5L425.4 649.6M427.1 650.8L425.4 649.6L425.2 651.7M445.7 654.5L444.5 649.2M446.0 650.8L444.5 649.2L443.9 651.2M463.9 654.5L463.4 649.1M464.6 650.8L463.4 649.1L462.5 651.0M482.1 654.5L482.2 649.0M483.3 650.9L482.2 649.0L481.1 650.9M500.2 654.5L501.7 647.8M502.5 650.4L501.7 647.8L499.9 649.8M518.4 654.5L521.2 646.6M521.8 649.9L521.2 646.6L518.6 648.8M536.6 654.5L540.2 645.9M540.6 649.6L540.2 645.9L537.2 648.2M554.8 654.5L559.2 645.3M559.5 649.4L559.2 645.3L555.8 647.6M572.9 654.5L578.3 644.4M578.4 648.9L578.3 644.4L574.4 646.8M591.1 654.5L597.3 643.5M597.4 648.5L597.3 643.5L593.0 646.0M609.3 654.5L615.9 643.2M615.9 648.4L615.9 643.2L611.4 645.8M627.5 654.5L634.5 642.9M634.4 648.3L634.5 642.9L629.8 645.5M645.6 654.5L653.2 642.3M653.0 648.0L653.2 642.3L648.2 645.0M663.8 654.5L671.9 641.7M671.7 647.7L671.9 641.7L666.6 644.5M682.0 654.5L690.3 641.7M690.0 647.8L690.3 641.7L684.9 644.4M700.1 654.5L708.7 641.7M708.3 647.8L708.7 641.7L703.2 644.4M718.3 654.5L727.3 641.3M726.8 647.7L727.3 641.3L721.6 644.1M736.5 654.5L745.9 641.0M745.3 647.5L745.9 641.0L739.9 643.8M754.7 654.5L764.2 641.1M763.5 647.6L764.2 641.1L758.2 643.8M772.9 654.5L782.5 641.0M781.9 647.6L782.5 641.0L776.5 643.7M791.0 654.5L801.0 640.8M800.3 647.5L801.0 640.8L794.8 643.5M9.5 672.6L-5.3 684.7M-2.6 677.6L-5.3 684.7L2.3 683.5M27.7 672.6L12.6 684.2M15.5 677.2L12.6 684.2L20.1 683.2M45.9 672.6L30.4 683.7M33.6 676.7L30.4 683.7L38.0 682.9M64.0 672.6L48.7 682.7M52.0 676.2L48.7 682.7L56.0 682.3M82.2 672.6L66.9 681.8M70.4 675.6L66.9 681.8L74.1 681.7M100.4 672.6L85.1 680.9M88.7 675.0L85.1 680.9L92.1 681.1M118.6 672.6L103.3 680.1M107.1 674.5L103.3 680.1L110.1 680.6M136.7 672.6L122.3 679.7M125.9 674.3L122.3 679.7L128.7 680.1M154.9 672.6L141.2 679.3M144.6 674.2L141.2 679.3L147.3 679.7M173.1 672.6L160.3 678.5M163.6 673.9L160.3 678.5L165.9 679.0M191.2 672.6L179.4 677.8M182.5 673.6L179.4 677.8L184.6 678.4M209.4 672.6L198.1 677.0M201.2 673.2L198.1 677.0L202.9 677.7M227.6 672.6L216.8 676.2M219.9 672.8L216.8 676.2L221.3 677.1M245.8 672.6L235.3 675.2M238.4 672.2L235.3 675.2L239.5 676.4M264.0 672.6L255.2 674.5M257.8 672.1L255.2 674.5L258.6 675.6M282.1 672.6L275.0 673.8M277.2 672.0L275.0 673.8L277.7 674.8M300.3 672.6L294.8 673.1M296.6 671.8L294.8 673.1L296.8 674.0M318.5 672.6L313.8 672.2M315.5 671.4L313.8 672.2L315.3 673.3M336.7 672.6L332.5 671.9M334.1 671.3L332.5 671.9L333.8 673.0M354.8 672.6L351.3 671.7M352.7 671.3L351.3 671.7L352.3 672.7M373.0 672.6L370.0 670.9M371.4 670.9L370.0 670.9L370.7 672.1M391.2 672.6L388.8 669.9M390.2 670.4L388.8 669.9L389.1 671.3M409.4 672.6L407.6 668.9M409.0 669.9L407.6 668.9L407.5 670.5M427.5 672.6L426.4 667.9M427.8 669.3L426.4 667.9L425.9 669.8M445.7 672.6L445.5 667.5M446.6 669.3L445.5 667.5L444.6 669.3M463.9 672.6L464.4 667.4M465.3 669.3L464.4 667.4L463.2 669.1M482.1 672.6L483.9 666.2M484.5 668.8L483.9 666.2L482.0 668.1M500.2 672.6L503.4 665.0M503.8 668.3L503.4 665.0L500.8 667.0M518.4 672.6L522.8 663.8M523.1 667.8L522.8 663.8L519.5 666.0M536.6 672.6L541.8 663.2M541.9 667.5L541.8 663.2L538.1 665.4M554.8 672.6L560.9 662.3M560.9 667.1L560.9 662.3L556.7 664.6M572.9 672.6L580.0 661.4M579.8 666.7L580.0 661.4L575.3 663.9M591.1 672.6L599.1 660.5M598.7 666.3L599.1 660.5L593.9 663.1M609.3 672.6L617.7 660.2M617.3 666.2L617.7 660.2L612.3 662.8M627.5 672.6L636.3 659.9M635.8 666.0L636.3 659.9L630.7 662.5M645.6 672.6L654.9 659.6M654.3 665.9L654.9 659.6L649.0 662.2M663.8 672.6L673.6 659.0M672.9 665.6L673.6 659.0L667.4 661.7M682.0 672.6L691.9 659.0M691.2 665.7L691.9 659.0L685.8 661.7M700.1 672.6L710.3 659.0M709.5 665.7L710.3 659.0L704.1 661.7M718.3 672.6L728.7 659.0M727.8 665.8L728.7 659.0L722.4 661.6M736.5 672.6L747.3 658.6M746.4 665.6L747.3 658.6L740.8 661.3M754.7 672.6L765.6 658.7M764.6 665.7L765.6 658.7L759.0 661.3M772.9 672.6L783.8 658.8M782.8 665.8L783.8 658.8L777.2 661.4M791.0 672.6L802.2 658.6M801.2 665.7L802.2 658.6L795.6 661.2M9.5 690.8L-8.3 701.9M-4.4 694.5L-8.3 701.9L0.1 701.6M27.7 690.8L9.9 701.0M14.0 693.9L9.9 701.0L18.1 701.0M45.9 690.8L28.2 700.1M32.5 693.3L28.2 700.1L36.2 700.4M64.0 690.8L46.5 699.1M50.9 692.7L46.5 699.1L54.2 699.8M82.2 690.8L64.7 698.2M69.3 692.2L64.7 698.2L72.3 699.2M100.4 690.8L83.7 697.8M88.0 692.0L83.7 697.8L90.9 698.7M118.6 690.8L102.6 697.4M106.8 691.9L102.6 697.4L109.5 698.3M136.7 690.8L121.6 697.0M125.6 691.8L121.6 697.0L128.1 697.9M154.9 690.8L140.5 696.6M144.3 691.7L140.5 696.6L146.7 697.5M173.1 690.8L159.6 695.9M163.3 691.4L159.6 695.9L165.3 696.8M191.2 690.8L178.8 695.1M182.2 691.1L178.8 695.1L183.9 696.1M209.4 690.8L197.9 694.4M201.2 690.8L197.9 694.4L202.6 695.5M227.6 690.8L217.0 693.6M220.1 690.5L217.0 693.6L221.2 694.8M245.8 690.8L236.8 692.9M239.5 690.4L236.8 692.9L240.3 694.0M264.0 690.8L256.6 692.2M258.9 690.3L256.6 692.2L259.5 693.2M282.1 690.8L276.5 691.5M278.3 690.1L276.5 691.5L278.6 692.4M300.3 690.8L296.3 690.8M297.7 690.0L296.3 690.8L297.7 691.6M318.5 690.8L315.0 690.6M316.3 690.0L315.0 690.6L316.2 691.3M336.7 690.8L333.8 690.3M334.9 689.9L333.8 690.3L334.7 691.0M354.8 690.8L352.5 690.1M353.5 689.9L352.5 690.1L353.2 690.8M373.0 690.8L371.3 689.8M372.1 689.8L371.3 689.8L371.7 690.5M391.2 690.8L390.1 688.8M390.9 689.3L390.1 688.8L390.1 689.7M409.4 690.8L408.9 687.8M409.7 688.8L408.9 687.8L408.5 689.0M427.5 690.8L427.7 686.9M428.5 688.3L427.7 686.9L426.9 688.2M445.7 690.8L446.6 685.9M447.3 687.8L446.6 685.9L445.3 687.4M463.9 690.8L466.0 684.7M466.5 687.2L466.0 684.7L464.1 686.4M482.1 690.8L485.5 683.5M485.8 686.7L485.5 683.5L482.9 685.3M500.2 690.8L505.0 682.3M505.1 686.2L505.0 682.3L501.6 684.3M518.4 690.8L524.5 681.0M524.3 685.6L524.5 681.0L520.4 683.2M536.6 690.8L543.6 680.1M543.3 685.2L543.6 680.1L539.0 682.4M554.8 690.8L562.6 679.2M562.2 684.8L562.6 679.2L557.6 681.7M572.9 690.8L581.7 678.4M581.2 684.4L581.7 678.4L576.2 680.9M591.1 690.8L600.8 677.5M600.1 684.0L600.8 677.5L594.8 680.1M609.3 690.8L619.4 677.1M618.6 683.9L619.4 677.1L613.2 679.9M627.5 690.8L638.0 676.8M637.1 683.8L638.0 676.8L631.5 679.6M645.6 690.8L656.6 676.5M655.6 683.7L656.6 676.5L649.9 679.3M663.8 690.8L675.2 676.2M674.2 683.5L675.2 676.2L668.3 679.0M682.0 690.8L693.6 676.2M692.5 683.6L693.6 676.2L686.6 679.0M700.1 690.8L712.0 676.2M710.8 683.6L712.0 676.2L704.9 678.9M718.3 690.8L730.3 676.2M729.1 683.7L730.3 676.2L723.3 678.9M736.5 690.8L748.7 676.2M747.4 683.7L748.7 676.2L741.6 678.8M754.7 690.8L767.0 676.3M765.6 683.8L767.0 676.3L759.8 678.9M772.9 690.8L785.2 676.4M783.8 683.9L785.2 676.4L778.1 678.9M791.0 690.8L803.5 676.5M802.0 683.9L803.5 676.5L796.3 678.9M9.5 709.0L-8.0 717.3M-3.6 710.9L-8.0 717.3L-0.2 717.9M27.7 709.0L10.3 716.4M14.8 710.3L10.3 716.4L17.8 717.3M45.9 709.0L28.5 715.5M33.2 709.8L28.5 715.5L35.8 716.7M64.0 709.0L47.3 715.5M51.8 709.9L47.3 715.5L54.4 716.6M82.2 709.0L66.0 715.6M70.3 710.0L66.0 715.6L72.9 716.5M100.4 709.0L84.9 715.1M89.1 709.9L84.9 715.1L91.5 716.1M118.6 709.0L103.9 714.7M107.8 709.8L103.9 714.7L110.1 715.7M136.7 709.0L122.8 714.3M126.6 709.7L122.8 714.3L128.7 715.2M154.9 709.0L141.8 713.8M145.4 709.5L141.8 713.8L147.3 714.8M173.1 709.0L160.9 713.1M164.3 709.2L160.9 713.1L165.9 714.1M191.2 709.0L180.0 712.3M183.2 708.9L180.0 712.3L184.6 713.4M209.4 709.0L199.5 711.8M202.3 708.9L199.5 711.8L203.5 712.8M227.6 709.0L218.9 711.4M221.5 708.8L218.9 711.4L222.4 712.3M245.8 709.0L238.2 710.8M240.4 708.6L238.2 710.8L241.2 711.7M264.0 709.0L258.0 710.0M259.8 708.5L258.0 710.0L260.3 710.9M282.1 709.0L277.8 709.3M279.2 708.3L277.8 709.3L279.4 710.1M300.3 709.0L297.7 708.6M298.6 708.2L297.7 708.6L298.5 709.3M318.5 709.0L316.4 708.4M317.2 708.2L316.4 708.4L317.0 709.0M336.7 709.0L335.1 708.1M335.8 708.1L335.1 708.1L335.5 708.7M354.8 709.0L353.9 707.9M354.4 708.1L353.9 707.9L354.0 708.4M373.0 709.0L373.1 706.8M373.5 707.6L373.1 706.8L372.7 707.5M391.2 709.0L392.0 706.1M392.3 707.3L392.0 706.1L391.1 706.9M409.4 709.0L410.8 705.1M411.1 706.8L410.8 705.1L409.5 706.2M427.5 709.0L429.6 704.1M429.9 706.2L429.6 704.1L427.9 705.4M445.7 709.0L448.5 703.2M448.7 705.7L448.5 703.2L446.3 704.6M463.9 709.0L467.1 702.6M467.3 705.4L467.1 702.6L464.7 704.1M482.1 709.0L486.6 701.4M486.6 704.9L486.6 701.4L483.5 703.1M500.2 709.0L506.1 700.2M505.8 704.4L506.1 700.2L502.3 702.0M518.4 709.0L525.6 699.0M525.1 703.9L525.6 699.0L521.1 701.0M536.6 709.0L544.7 698.1M544.0 703.5L544.7 698.1L539.7 700.2M554.8 709.0L563.7 697.2M563.0 703.1L563.7 697.2L558.3 699.5M572.9 709.0L582.8 696.3M581.9 702.6L582.8 696.3L576.8 698.7M591.1 709.0L601.4 695.7M600.5 702.3L601.4 695.7L595.2 698.2M609.3 709.0L619.9 695.2M619.0 702.1L619.9 695.2L613.5 697.9M627.5 709.0L638.5 694.9M637.5 702.0L638.5 694.9L631.9 697.6M645.6 709.0L657.1 694.6M656.0 701.9L657.1 694.6L650.3 697.3M663.8 709.0L675.7 694.3M674.5 701.8L675.7 694.3L668.6 697.0M682.0 709.0L694.0 694.1M692.8 701.7L694.0 694.1L686.9 696.9M700.1 709.0L712.4 694.1M711.1 701.7L712.4 694.1L705.2 696.8M718.3 709.0L730.8 694.2M729.4 701.8L730.8 694.2L723.5 696.8M736.5 709.0L749.2 694.2M747.7 701.8L749.2 694.2L741.8 696.8M754.7 709.0L767.4 694.2M766.0 701.9L767.4 694.2L760.1 696.8M772.9 709.0L785.7 694.3M784.2 702.0L785.7 694.3L778.3 696.8M791.0 709.0L803.9 694.3M802.4 702.0L803.9 694.3L796.5 696.8M9.5 727.1L-7.6 732.7M-2.8 727.4L-7.6 732.7L-0.6 734.2M27.7 727.1L11.1 732.8M15.7 727.5L11.1 732.8L18.0 734.1M45.9 727.1L29.8 732.8M34.2 727.6L29.8 732.8L36.5 734.0M64.0 727.1L48.5 732.8M52.8 727.8L48.5 732.8L55.0 734.0M82.2 727.1L67.3 732.9M71.3 727.9L67.3 732.9L73.6 733.9M100.4 727.1L86.2 732.4M90.1 727.8L86.2 732.4L92.2 733.4M118.6 727.1L105.1 731.9M108.8 727.6L105.1 731.9L110.7 733.0M136.7 727.1L124.1 731.5M127.6 727.5L124.1 731.5L129.3 732.5M154.9 727.1L143.0 731.0M146.4 727.3L143.0 731.0L147.9 732.1M173.1 727.1L162.5 730.5M165.5 727.2L162.5 730.5L166.8 731.5M191.2 727.1L181.9 730.0M184.6 727.2L181.9 730.0L185.7 730.9M209.4 727.1L201.4 729.6M203.7 727.1L201.4 729.6L204.7 730.3M227.6 727.1L220.9 729.1M222.8 727.1L220.9 729.1L223.6 729.8M245.8 727.1L240.1 728.5M241.8 726.9L240.1 728.5L242.3 729.1M264.0 727.1L259.3 727.9M260.8 726.7L259.3 727.9L261.1 728.5M282.1 727.1L279.2 727.2M280.2 726.6L279.2 727.2L280.2 727.7M300.3 727.1L299.0 726.4M299.6 726.4L299.0 726.4L299.3 726.9M318.5 727.1L317.7 726.2M318.2 726.4L317.7 726.2L317.8 726.7M336.7 727.1L336.5 725.9M336.8 726.3L336.5 725.9L336.3 726.4M354.8 727.1L355.8 724.9M355.9 725.9L355.8 724.9L355.0 725.5M373.0 727.1L375.0 723.9M375.0 725.4L375.0 723.9L373.7 724.6M391.2 727.1L393.9 723.1M393.7 725.1L393.9 723.1L392.1 724.0M409.4 727.1L412.7 722.4M412.5 724.7L412.7 722.4L410.6 723.4M427.5 727.1L431.6 721.4M431.3 724.2L431.6 721.4L429.0 722.6M445.7 727.1L450.4 720.4M450.1 723.7L450.4 720.4L447.4 721.8M463.9 727.1L469.0 719.9M468.7 723.4L469.0 719.9L465.8 721.4M482.1 727.1L487.7 719.3M487.3 723.1L487.7 719.3L484.2 720.9M500.2 727.1L507.2 718.1M506.6 722.6L507.2 718.1L503.0 719.8M518.4 727.1L526.7 716.9M525.9 722.1L526.7 716.9L521.7 718.8M536.6 727.1L545.7 716.0M544.8 721.7L545.7 716.0L540.3 718.0M554.8 727.1L564.8 715.1M563.7 721.3L564.8 715.1L558.9 717.2M572.9 727.1L583.4 714.5M582.3 721.0L583.4 714.5L577.3 716.8M591.1 727.1L602.1 713.9M600.9 720.7L602.1 713.9L595.6 716.3M609.3 727.1L620.5 713.5M619.4 720.5L620.5 713.5L613.9 716.0M627.5 727.1L639.0 713.0M637.8 720.2L639.0 713.0L632.2 715.6M645.6 727.1L657.6 712.7M656.3 720.1L657.6 712.7L650.6 715.3M663.8 727.1L676.2 712.4M674.8 720.0L676.2 712.4L669.0 715.1M682.0 727.1L694.5 712.2M693.2 719.9L694.5 712.2L687.2 714.9M700.1 727.1L712.9 712.1M711.5 719.8L712.9 712.1L705.4 714.7M718.3 727.1L731.3 712.1M729.8 719.9L731.3 712.1L723.8 714.7M736.5 727.1L749.6 712.1M748.1 719.9L749.6 712.1L742.1 714.7M754.7 727.1L767.9 712.1M766.3 720.0L767.9 712.1L760.3 714.7M772.9 727.1L786.1 712.2M784.5 720.0L786.1 712.2L778.5 714.7M791.0 727.1L804.3 712.2M802.7 720.0L804.3 712.2L796.7 714.7M9.5 745.3L-6.3 750.0M-1.8 745.3L-6.3 750.0L0.1 751.6M27.7 745.3L12.5 749.9M16.8 745.3L12.5 749.9L18.7 751.3M45.9 745.3L31.3 749.7M35.4 745.3L31.3 749.7L37.2 751.1M64.0 745.3L50.0 749.8M54.0 745.4L50.0 749.8L55.7 751.0M82.2 745.3L68.7 749.8M72.5 745.6L68.7 749.8L74.3 751.0M100.4 745.3L87.8 749.6M91.3 745.6L87.8 749.6L93.0 750.6M118.6 745.3L107.0 749.3M110.2 745.6L107.0 749.3L111.8 750.2M136.7 745.3L125.9 748.8M129.0 745.4L125.9 748.8L130.4 749.8M154.9 745.3L144.9 748.4M147.7 745.3L144.9 748.4L148.9 749.3M173.1 745.3L164.4 748.1M166.8 745.4L164.4 748.1L167.9 748.9M191.2 745.3L183.9 747.8M186.0 745.5L183.9 747.8L186.9 748.4M209.4 745.3L203.4 747.3M205.1 745.4L203.4 747.3L205.9 747.8M227.6 745.3L222.8 746.8M224.2 745.3L222.8 746.8L224.8 747.2M245.8 745.3L242.1 746.2M243.2 745.2L242.1 746.2L243.5 746.6M264.0 745.3L261.3 745.6M262.2 745.0L261.3 745.6L262.3 746.0M282.1 745.3L280.5 745.0M281.2 744.8L280.5 745.0L281.0 745.4M300.3 745.3L300.4 744.3M300.6 744.6L300.4 744.3L300.1 744.6M318.5 745.3L319.1 744.0M319.1 744.6L319.1 744.0L318.6 744.3M336.7 745.3L338.4 743.0M338.2 744.1L338.4 743.0L337.3 743.4M354.8 745.3L357.6 741.9M357.3 743.7L357.6 741.9L356.0 742.6M373.0 745.3L376.9 740.9M376.4 743.2L376.9 740.9L374.7 741.7M391.2 745.3L395.7 740.2M395.2 742.9L395.7 740.2L393.1 741.0M409.4 745.3L414.6 739.4M414.0 742.5L414.6 739.4L411.6 740.4M427.5 745.3L433.5 738.7M432.7 742.2L433.5 738.7L430.1 739.8M445.7 745.3L452.3 737.7M451.5 741.7L452.3 737.7L448.5 739.0M463.9 745.3L470.9 737.2M470.1 741.4L470.9 737.2L466.9 738.6M482.1 745.3L489.6 736.6M488.7 741.1L489.6 736.6L485.2 738.1M500.2 745.3L508.3 736.0M507.3 740.8L508.3 736.0L503.6 737.6M518.4 745.3L527.7 734.8M526.6 740.3L527.7 734.8L522.4 736.6M536.6 745.3L546.8 733.9M545.6 739.9L546.8 733.9L541.0 735.8M554.8 745.3L565.5 733.3M564.2 739.6L565.5 733.3L559.3 735.3M572.9 745.3L584.1 732.7M582.7 739.3L584.1 732.7L577.7 734.8M591.1 745.3L602.7 732.1M601.3 739.0L602.7 732.1L596.1 734.4M609.3 745.3L621.2 731.7M619.8 738.8L621.2 731.7L614.3 734.0M627.5 745.3L639.6 731.3M638.2 738.6L639.6 731.3L632.6 733.7M645.6 745.3L658.1 730.8M656.7 738.4L658.1 730.8L650.9 733.4M663.8 745.3L676.7 730.5M675.2 738.2L676.7 730.5L669.3 733.1M682.0 745.3L695.0 730.3M693.5 738.1L695.0 730.3L687.5 732.9M700.1 745.3L713.4 730.2M711.8 738.1L713.4 730.2L705.8 732.8M718.3 745.3L731.7 730.0M730.1 738.0L731.7 730.0L724.0 732.6M736.5 745.3L750.1 730.0M748.5 738.0L750.1 730.0L742.3 732.6M754.7 745.3L768.3 730.0M766.7 738.1L768.3 730.0L760.5 732.6M772.9 745.3L786.5 730.0M784.8 738.1L786.5 730.0L778.7 732.6M791.0 745.3L804.7 730.0M803.0 738.1L804.7 730.0L796.9 732.6M9.5 763.5L-5.0 767.4M-0.7 763.1L-5.0 767.4L0.8 768.9M27.7 763.5L13.8 767.2M17.9 763.2L13.8 767.2L19.3 768.7M45.9 763.5L32.6 767.1M36.5 763.2L32.6 767.1L37.9 768.5M64.0 763.5L51.3 766.9M55.1 763.2L51.3 766.9L56.4 768.3M82.2 763.5L70.1 766.7M73.7 763.2L70.1 766.7L75.0 768.0M100.4 763.5L89.3 766.5M92.5 763.2L89.3 766.5L93.7 767.7M118.6 763.5L108.4 766.2M111.4 763.2L108.4 766.2L112.5 767.3M136.7 763.5L127.5 766.0M130.2 763.3L127.5 766.0L131.2 766.9M154.9 763.5L146.7 765.7M149.1 763.3L146.7 765.7L150.0 766.6M173.1 763.5L166.2 765.4M168.2 763.4L166.2 765.4L169.0 766.1M191.2 763.5L185.7 765.1M187.3 763.5L185.7 765.1L188.0 765.7M209.4 763.5L205.3 764.8M206.4 763.5L205.3 764.8L207.0 765.2M227.6 763.5L224.8 764.5M225.6 763.6L224.8 764.5L226.0 764.7M245.8 763.5L244.0 763.9M244.5 763.4L244.0 763.9L244.7 764.1M282.1 763.5L282.5 762.7M282.5 763.0L282.5 762.7L282.2 762.9M300.3 763.5L301.7 762.1M301.5 762.9L301.7 762.1L300.9 762.3M318.5 763.5L321.0 761.1M320.6 762.4L321.0 761.1L319.6 761.4M336.7 763.5L340.2 760.0M339.7 761.9L340.2 760.0L338.3 760.5M354.8 763.5L359.5 759.0M358.8 761.5L359.5 759.0L357.0 759.6M373.0 763.5L378.8 757.9M377.9 761.0L378.8 757.9L375.6 758.7M391.2 763.5L397.6 757.2M396.6 760.7L397.6 757.2L394.1 758.1M409.4 763.5L416.5 756.5M415.4 760.3L416.5 756.5L412.6 757.5M427.5 763.5L435.3 755.7M434.2 760.0L435.3 755.7L431.1 756.9M445.7 763.5L454.2 755.0M452.9 759.7L454.2 755.0L449.5 756.3M463.9 763.5L472.8 754.4M471.5 759.4L472.8 754.4L467.9 755.8M482.1 763.5L491.5 753.9M490.2 759.1L491.5 753.9L486.3 755.3M500.2 763.5L510.2 753.3M508.8 758.8L510.2 753.3L504.7 754.8M518.4 763.5L528.8 752.7M527.4 758.5L528.8 752.7L523.1 754.4M536.6 763.5L547.5 752.1M546.0 758.2L547.5 752.1L541.4 753.9M554.8 763.5L566.1 751.5M564.6 757.9L566.1 751.5L559.8 753.4M572.9 763.5L584.7 750.9M583.2 757.6L584.7 750.9L578.1 752.9M591.1 763.5L603.4 750.3M601.8 757.4L603.4 750.3L596.5 752.4M609.3 763.5L621.8 749.9M620.2 757.1L621.8 749.9L614.8 752.1M627.5 763.5L640.3 749.5M638.6 756.9L640.3 749.5L633.0 751.8M645.6 763.5L658.7 749.1M657.1 756.7L658.7 749.1L651.3 751.4M663.8 763.5L677.2 748.6M675.5 756.5L677.2 748.6L669.6 751.1M682.0 763.5L695.5 748.5M693.8 756.4L695.5 748.5L687.8 751.0M700.1 763.5L713.9 748.3M712.2 756.3L713.9 748.3L706.1 750.8M718.3 763.5L732.2 748.1M730.5 756.2L732.2 748.1L724.3 750.6M736.5 763.5L750.6 747.9M748.8 756.1L750.6 747.9L742.6 750.5M754.7 763.5L768.7 747.9M767.0 756.1L768.7 747.9L760.7 750.5M772.9 763.5L786.9 747.9M785.2 756.1L786.9 747.9L778.9 750.5M791.0 763.5L805.1 747.9M803.3 756.1L805.1 747.9L797.1 750.5" fill="none" stroke="#fff" stroke-width="1" shape-rendering="crispEdges"/>
<g fill="#808080" stroke="#808080" stroke-width="0.55" font-weight="bold" font-size="24px">
<text x="4.8" y="49.7" textLength="102.8" lengthAdjust="spacingAndGlyphs">modelo</text>
<text x="119.0" y="49.7" textLength="170.8" lengthAdjust="spacingAndGlyphs">GEFS-WAVE</text>
<text x="292.8" y="49.7" textLength="96.2" lengthAdjust="spacingAndGlyphs">(NCEP)</text>
<text x="4.8" y="72.3" textLength="119.7" lengthAdjust="spacingAndGlyphs">forecast</text>
<text x="130.2" y="72.3" textLength="70.8" lengthAdjust="spacingAndGlyphs">date:</text>
<text x="213.5" y="72.3" textLength="154.5" lengthAdjust="spacingAndGlyphs">2025-11-26</text>
<text x="379.0" y="72.3" textLength="120.6" lengthAdjust="spacingAndGlyphs">12:00:00</text>
<text x="41.2" y="95.3" textLength="67.2" lengthAdjust="spacingAndGlyphs">valid</text>
<text x="122.0" y="95.3" textLength="70.2" lengthAdjust="spacingAndGlyphs">date:</text>
<text x="203.5" y="95.3" textLength="154.8" lengthAdjust="spacingAndGlyphs">2025-11-30</text>
<text x="367.6" y="95.3" textLength="120.6" lengthAdjust="spacingAndGlyphs">09:00:00</text>
</g>
<g clip-path="url(#mapclip)" fill="none" stroke="#000" stroke-width="1" stroke-linejoin="round" shape-rendering="crispEdges">
<polyline points="765.0,28.0 750.0,45.0 735.0,61.0 720.0,74.0 705.0,85.5 687.5,97.0 672.5,106.0 664.0,114.0 658.0,120.0 650.0,129.0 643.0,137.0 638.0,145.0 634.0,155.0 630.0,167.0 625.0,177.0 620.0,186.0 616.0,192.0 609.0,200.0 600.0,208.0 585.0,220.0 580.0,225.0 570.0,230.0 563.8,235.0 558.8,240.0 555.0,250.0 551.0,259.0 545.0,265.0 539.0,271.0 535.0,277.5 533.8,281.0 526.0,285.0 519.0,291.0 512.5,296.0 509.0,300.0 507.5,303.0 501.0,303.8 500.0,301.0 500.5,297.5 497.5,295.8 495.0,295.5 497.5,296.5 493.8,300.0 495.0,303.0 496.0,306.0 490.0,308.0 480.0,311.8 467.5,316.0 455.0,321.0 448.8,324.0 447.0,321.0 443.8,319.5 438.8,318.0 433.8,318.8 428.8,319.5 425.0,317.5 422.5,313.8 417.5,312.0 405.0,311.8 400.0,310.0 392.5,309.5 385.0,310.5 380.0,313.0 372.5,317.0 366.0,319.5 360.0,322.0 357.5,319.5 352.5,320.0 348.8,318.8 345.0,315.0 345.0,312.0 340.0,310.5 335.0,309.5 327.5,307.5 320.0,305.5 312.5,302.5 305.0,298.0 298.8,293.8 292.5,288.8 285.0,286.0 276.0,285.5 267.5,285.0 260.0,286.0 252.5,285.8 245.0,287.5 240.0,288.8 236.0,286.0 232.5,281.0 227.5,276.0 221.0,270.0 218.8,266.0 211.0,261.0 206.0,255.0 198.8,248.8 196.2,240.0 196.2,230.0 196.2,221.0 199.5,215.0 197.5,208.8 201.2,202.5 200.0,192.5 202.5,188.8 208.8,189.5 215.0,188.8 220.0,186.0 223.0,180.0 222.5,172.5 217.5,166.0 217.5,157.5 215.5,152.5 212.0,142.5 216.2,136.0 220.5,130.0 217.5,125.0 213.8,120.0 216.2,112.5 216.2,106.0 212.5,101.8 213.8,99.2 220.0,95.5 225.0,90.5 226.2,83.0 227.5,74.2 225.0,70.5 222.5,68.0 230.0,60.5 232.5,55.5 235.0,48.0 235.0,40.5 233.8,33.0 235.0,29.2 236.0,27.0"/>
<polyline points="212.0,142.5 211.0,148.8 212.5,157.5 213.8,167.5 217.0,175.0 215.5,182.5 211.0,187.5 203.8,188.0 197.5,187.5 195.5,190.0 196.0,197.5 196.0,203.8 191.0,208.8 188.8,216.0 187.5,227.5 188.0,235.0 192.5,242.5 195.0,250.0 195.0,255.0 198.8,257.5 199.5,265.0 196.0,271.0 191.0,273.8 185.0,275.0 190.0,278.8 193.8,281.0 191.0,286.0 195.0,291.0 200.0,296.0 207.5,301.0 215.0,306.0 223.8,310.0 232.5,312.5 240.0,315.0 247.5,318.8 255.0,322.5 262.5,327.5 270.0,333.8 277.5,340.0 283.8,347.5 288.8,355.0 290.0,361.0 285.0,366.0 278.8,372.5 273.8,380.0 271.0,387.5 272.5,396.0 276.0,403.8 282.5,411.0 290.0,418.8 297.5,423.8 305.0,427.0 312.5,424.5 318.8,423.0 321.0,428.8 323.0,440.0 324.5,452.5 324.5,465.0 318.8,472.5 310.0,482.5 302.5,492.5 296.0,501.0 290.0,508.8 280.0,516.0 271.0,523.8 265.0,530.0 261.0,537.5 261.0,547.5 258.8,553.8 250.0,558.8 240.0,564.5 230.0,569.5 217.5,575.0 205.0,580.0 192.5,584.0 187.5,585.0 175.0,588.8 162.5,592.5 150.0,596.0 137.5,598.0 125.0,600.0 110.0,602.5 100.0,605.0 82.5,608.0 32.5,613.8 17.5,615.0 7.5,616.0 0.0,618.0"/>
<polyline points="407.5,28.0 415.8,35.0 421.0,42.0 425.4,49.0 429.5,54.4 439.0,57.0 448.8,64.0 458.4,68.0 468.0,69.5 476.0,73.6 483.0,77.8 488.6,87.4 498.0,95.6 508.0,102.0 512.0,99.8 517.5,102.5 523.0,104.0 528.5,109.4 535.4,112.0 538.0,119.0 543.6,126.0 544.5,132.8 550.5,141.0 560.0,148.0 569.8,153.4 578.0,156.0 583.5,162.0 578.0,167.0 569.8,174.0 567.0,179.5 558.8,183.6 552.7,190.5 552.0,198.8 553.8,209.8 552.7,223.5 554.6,231.8 560.0,234.0 563.8,235.0"/>
<polyline points="409.0,28.0 398.0,29.0 394.6,32.0 389.8,34.8 385.0,39.6 378.4,42.0 373.0,41.0"/>
<polyline points="700.0,28.0 702.0,33.8 700.0,38.0 703.8,42.0 697.5,43.8 691.0,46.0 689.4,48.8 688.8,54.4 680.0,55.6 673.8,57.5 668.8,59.4 666.0,62.0 663.8,65.0 663.8,77.5 664.4,79.4 661.0,77.5 658.8,76.0 656.0,78.0 657.5,80.6 661.0,80.6 661.0,83.0 657.5,86.0 648.0,89.4 648.0,96.0 645.6,98.0 646.0,100.0 653.0,102.5 653.8,104.4 645.6,108.0 645.0,112.5 647.0,115.0 652.0,114.4 652.5,117.0 654.4,112.0 657.0,111.0 657.5,113.8 656.0,116.0 657.5,120.0 661.0,117.0 660.6,110.0 662.5,105.0 663.0,103.0 657.5,98.8 657.5,96.0 660.0,95.0 663.8,96.0 667.5,98.8 672.5,98.8 676.0,97.0 677.5,95.0 675.6,94.4 680.0,93.8 683.8,94.4 687.5,92.0 695.0,84.4 700.0,80.0 703.0,81.0 702.0,77.5 705.0,73.8 706.0,72.0 707.5,74.4 712.5,73.0 720.0,65.0 722.5,52.5 724.0,45.0 725.6,41.0 731.0,42.0 735.0,40.0 737.0,42.0 740.5,43.0 740.0,45.0 737.0,45.5 737.0,28.0"/>
</g>
<path d="M9.5 28V772M81.5 28V772M154.5 28V772M227.5 28V772M299.5 28V772M372.5 28V772M445.5 28V772M517.5 28V772M590.5 28V772M663.5 28V772M736.5 28V772M0 36.5H800M0 109.5H800M0 181.5H800M0 254.5H800M0 327.5H800M0 400.5H800M0 472.5H800M0 545.5H800M0 618.5H800M0 690.5H800M0 763.5H800" stroke="#828282" stroke-width="1" fill="none" shape-rendering="crispEdges"/>
<path d="M0.5 27V773M0 27.5H800M1.5 27v5.0M1.5 773v-5.0M9.5 27v9.0M9.5 773v-17.5M16.5 27v5.0M16.5 773v-5.0M23.5 27v5.0M23.5 773v-5.0M30.5 27v5.0M30.5 773v-5.0M38.5 27v5.0M38.5 773v-5.0M45.5 27v9.5M45.5 773v-9.5M52.5 27v5.0M52.5 773v-5.0M60.5 27v5.0M60.5 773v-5.0M67.5 27v5.0M67.5 773v-5.0M74.5 27v5.0M74.5 773v-5.0M81.5 27v17.5M81.5 773v-17.5M89.5 27v5.0M89.5 773v-5.0M96.5 27v5.0M96.5 773v-5.0M103.5 27v5.0M103.5 773v-5.0M110.5 27v5.0M110.5 773v-5.0M118.5 27v9.5M118.5 773v-9.5M125.5 27v5.0M125.5 773v-5.0M132.5 27v5.0M132.5 773v-5.0M140.5 27v5.0M140.5 773v-5.0M147.5 27v5.0M147.5 773v-5.0M154.5 27v17.5M154.5 773v-17.5M161.5 27v5.0M161.5 773v-5.0M169.5 27v5.0M169.5 773v-5.0M176.5 27v5.0M176.5 773v-5.0M183.5 27v5.0M183.5 773v-5.0M190.5 27v9.5M190.5 773v-9.5M198.5 27v5.0M198.5 773v-5.0M205.5 27v5.0M205.5 773v-5.0M212.5 27v5.0M212.5 773v-5.0M219.5 27v5.0M219.5 773v-5.0M227.5 27v17.5M227.5 773v-17.5M234.5 27v5.0M234.5 773v-5.0M241.5 27v5.0M241.5 773v-5.0M249.5 27v5.0M249.5 773v-5.0M256.5 27v5.0M256.5 773v-5.0M263.5 27v9.5M263.5 773v-9.5M270.5 27v5.0M270.5 773v-5.0M278.5 27v5.0M278.5 773v-5.0M285.5 27v5.0M285.5 773v-5.0M292.5 27v5.0M292.5 773v-5.0M299.5 27v17.5M299.5 773v-17.5M307.5 27v5.0M307.5 773v-5.0M314.5 27v5.0M314.5 773v-5.0M321.5 27v5.0M321.5 773v-5.0M329.5 27v5.0M329.5 773v-5.0M336.5 27v9.5M336.5 773v-9.5M343.5 27v5.0M343.5 773v-5.0M350.5 27v5.0M350.5 773v-5.0M358.5 27v5.0M358.5 773v-5.0M365.5 27v5.0M365.5 773v-5.0M372.5 27v17.5M372.5 773v-17.5M379.5 27v5.0M379.5 773v-5.0M387.5 27v5.0M387.5 773v-5.0M394.5 27v5.0M394.5 773v-5.0M401.5 27v5.0M401.5 773v-5.0M408.5 27v9.5M408.5 773v-9.5M416.5 27v5.0M416.5 773v-5.0M423.5 27v5.0M423.5 773v-5.0M430.5 27v5.0M430.5 773v-5.0M438.5 27v5.0M438.5 773v-5.0M445.5 27v17.5M445.5 773v-17.5M452.5 27v5.0M452.5 773v-5.0M459.5 27v5.0M459.5 773v-5.0M467.5 27v5.0M467.5 773v-5.0M474.5 27v5.0M474.5 773v-5.0M481.5 27v9.5M481.5 773v-9.5M488.5 27v5.0M488.5 773v-5.0M496.5 27v5.0M496.5 773v-5.0M503.5 27v5.0M503.5 773v-5.0M510.5 27v5.0M510.5 773v-5.0M518.5 27v17.5M518.5 773v-17.5M525.5 27v5.0M525.5 773v-5.0M532.5 27v5.0M532.5 773v-5.0M539.5 27v5.0M539.5 773v-5.0M547.5 27v5.0M547.5 773v-5.0M554.5 27v9.5M554.5 773v-9.5M561.5 27v5.0M561.5 773v-5.0M568.5 27v5.0M568.5 773v-5.0M576.5 27v5.0M576.5 773v-5.0M583.5 27v5.0M583.5 773v-5.0M590.5 27v17.5M590.5 773v-17.5M598.5 27v5.0M598.5 773v-5.0M605.5 27v5.0M605.5 773v-5.0M612.5 27v5.0M612.5 773v-5.0M619.5 27v5.0M619.5 773v-5.0M627.5 27v9.5M627.5 773v-9.5M634.5 27v5.0M634.5 773v-5.0M641.5 27v5.0M641.5 773v-5.0M648.5 27v5.0M648.5 773v-5.0M656.5 27v5.0M656.5 773v-5.0M663.5 27v17.5M663.5 773v-17.5M670.5 27v5.0M670.5 773v-5.0M677.5 27v5.0M677.5 773v-5.0M685.5 27v5.0M685.5 773v-5.0M692.5 27v5.0M692.5 773v-5.0M699.5 27v9.5M699.5 773v-9.5M707.5 27v5.0M707.5 773v-5.0M714.5 27v5.0M714.5 773v-5.0M721.5 27v5.0M721.5 773v-5.0M728.5 27v5.0M728.5 773v-5.0M736.5 27v17.5M736.5 773v-17.5M743.5 27v5.0M743.5 773v-5.0M750.5 27v5.0M750.5 773v-5.0M757.5 27v5.0M757.5 773v-5.0M765.5 27v5.0M765.5 773v-5.0M772.5 27v9.5M772.5 773v-9.5M779.5 27v5.0M779.5 773v-5.0M787.5 27v5.0M787.5 773v-5.0M794.5 27v5.0M794.5 773v-5.0M0 29.5h4.5M800 29.5h-4.5M0 36.5h8.0M800 36.5h-17.5M0 43.5h4.5M800 43.5h-4.5M0 51.5h4.5M800 51.5h-4.5M0 58.5h4.5M800 58.5h-4.5M0 65.5h4.5M800 65.5h-4.5M0 72.5h9.0M800 72.5h-9.0M0 80.5h4.5M800 80.5h-4.5M0 87.5h4.5M800 87.5h-4.5M0 94.5h4.5M800 94.5h-4.5M0 101.5h4.5M800 101.5h-4.5M0 109.5h17.5M800 109.5h-17.5M0 116.5h4.5M800 116.5h-4.5M0 123.5h4.5M800 123.5h-4.5M0 131.5h4.5M800 131.5h-4.5M0 138.5h4.5M800 138.5h-4.5M0 145.5h9.0M800 145.5h-9.0M0 152.5h4.5M800 152.5h-4.5M0 160.5h4.5M800 160.5h-4.5M0 167.5h4.5M800 167.5h-4.5M0 174.5h4.5M800 174.5h-4.5M0 181.5h17.5M800 181.5h-17.5M0 189.5h4.5M800 189.5h-4.5M0 196.5h4.5M800 196.5h-4.5M0 203.5h4.5M800 203.5h-4.5M0 210.5h4.5M800 210.5h-4.5M0 218.5h9.0M800 218.5h-9.0M0 225.5h4.5M800 225.5h-4.5M0 232.5h4.5M800 232.5h-4.5M0 240.5h4.5M800 240.5h-4.5M0 247.5h4.5M800 247.5h-4.5M0 254.5h17.5M800 254.5h-17.5M0 261.5h4.5M800 261.5h-4.5M0 269.5h4.5M800 269.5h-4.5M0 276.5h4.5M800 276.5h-4.5M0 283.5h4.5M800 283.5h-4.5M0 290.5h9.0M800 290.5h-9.0M0 298.5h4.5M800 298.5h-4.5M0 305.5h4.5M800 305.5h-4.5M0 312.5h4.5M800 312.5h-4.5M0 320.5h4.5M800 320.5h-4.5M0 327.5h17.5M800 327.5h-17.5M0 334.5h4.5M800 334.5h-4.5M0 341.5h4.5M800 341.5h-4.5M0 349.5h4.5M800 349.5h-4.5M0 356.5h4.5M800 356.5h-4.5M0 363.5h9.0M800 363.5h-9.0M0 370.5h4.5M800 370.5h-4.5M0 378.5h4.5M800 378.5h-4.5M0 385.5h4.5M800 385.5h-4.5M0 392.5h4.5M800 392.5h-4.5M0 400.5h17.5M800 400.5h-17.5M0 407.5h4.5M800 407.5h-4.5M0 414.5h4.5M800 414.5h-4.5M0 421.5h4.5M800 421.5h-4.5M0 429.5h4.5M800 429.5h-4.5M0 436.5h9.0M800 436.5h-9.0M0 443.5h4.5M800 443.5h-4.5M0 450.5h4.5M800 450.5h-4.5M0 458.5h4.5M800 458.5h-4.5M0 465.5h4.5M800 465.5h-4.5M0 472.5h17.5M800 472.5h-17.5M0 479.5h4.5M800 479.5h-4.5M0 487.5h4.5M800 487.5h-4.5M0 494.5h4.5M800 494.5h-4.5M0 501.5h4.5M800 501.5h-4.5M0 509.5h9.0M800 509.5h-9.0M0 516.5h4.5M800 516.5h-4.5M0 523.5h4.5M800 523.5h-4.5M0 530.5h4.5M800 530.5h-4.5M0 538.5h4.5M800 538.5h-4.5M0 545.5h17.5M800 545.5h-17.5M0 552.5h4.5M800 552.5h-4.5M0 559.5h4.5M800 559.5h-4.5M0 567.5h4.5M800 567.5h-4.5M0 574.5h4.5M800 574.5h-4.5M0 581.5h9.0M800 581.5h-9.0M0 589.5h4.5M800 589.5h-4.5M0 596.5h4.5M800 596.5h-4.5M0 603.5h4.5M800 603.5h-4.5M0 610.5h4.5M800 610.5h-4.5M0 618.5h17.5M800 618.5h-17.5M0 625.5h4.5M800 625.5h-4.5M0 632.5h4.5M800 632.5h-4.5M0 639.5h4.5M800 639.5h-4.5M0 647.5h4.5M800 647.5h-4.5M0 654.5h9.0M800 654.5h-9.0M0 661.5h4.5M800 661.5h-4.5M0 668.5h4.5M800 668.5h-4.5M0 676.5h4.5M800 676.5h-4.5M0 683.5h4.5M800 683.5h-4.5M0 690.5h17.5M800 690.5h-17.5M0 698.5h4.5M800 698.5h-4.5M0 705.5h4.5M800 705.5h-4.5M0 712.5h4.5M800 712.5h-4.5M0 719.5h4.5M800 719.5h-4.5M0 727.5h9.0M800 727.5h-9.0M0 734.5h4.5M800 734.5h-4.5M0 741.5h4.5M800 741.5h-4.5M0 748.5h4.5M800 748.5h-4.5M0 756.5h4.5M800 756.5h-4.5M0 763.5h17.5M800 763.5h-17.5M0 770.5h4.5M800 770.5h-4.5" stroke="#000" stroke-width="1" fill="none" shape-rendering="crispEdges"/>
<path clip-path="url(#mapclip)" d="M773.24 24.11L777.11 24.11L775.00 26.92L776.06 26.92L776.76 27.28L777.11 27.63L777.46 28.68L777.46 29.39L777.11 30.44L776.41 31.15L775.35 31.50L774.30 31.50L773.24 31.15L772.89 30.80L772.54 30.09M780.63 25.52L781.34 25.16L782.39 24.11L782.39 31.50M791.54 25.16L790.84 24.46L789.78 24.11L788.38 24.11L787.32 24.46L786.62 25.16L786.62 25.87L786.97 26.57L787.32 26.92L788.02 27.28L790.14 27.98L790.84 28.33L791.19 28.68L791.54 29.39L791.54 30.44L790.84 31.15L789.78 31.50L788.38 31.50L787.32 31.15L786.62 30.44M773.24 97.11L777.11 97.11L775.00 99.92L776.06 99.92L776.76 100.28L777.11 100.63L777.46 101.68L777.46 102.39L777.11 103.44L776.41 104.15L775.35 104.50L774.30 104.50L773.24 104.15L772.89 103.80L772.54 103.09M779.93 98.87L779.93 98.52L780.28 97.81L780.63 97.46L781.34 97.11L782.74 97.11L783.45 97.46L783.80 97.81L784.15 98.52L784.15 99.22L783.80 99.92L783.10 100.98L779.58 104.50L784.50 104.50M791.54 98.16L790.84 97.46L789.78 97.11L788.38 97.11L787.32 97.46L786.62 98.16L786.62 98.87L786.97 99.57L787.32 99.92L788.02 100.28L790.14 100.98L790.84 101.33L791.19 101.68L791.54 102.39L791.54 103.44L790.84 104.15L789.78 104.50L788.38 104.50L787.32 104.15L786.62 103.44M773.24 169.11L777.11 169.11L775.00 171.92L776.06 171.92L776.76 172.28L777.11 172.63L777.46 173.68L777.46 174.39L777.11 175.44L776.41 176.15L775.35 176.50L774.30 176.50L773.24 176.15L772.89 175.80L772.54 175.09M780.28 169.11L784.15 169.11L782.04 171.92L783.10 171.92L783.80 172.28L784.15 172.63L784.50 173.68L784.50 174.39L784.15 175.44L783.45 176.15L782.39 176.50L781.34 176.50L780.28 176.15L779.93 175.80L779.58 175.09M791.54 170.16L790.84 169.46L789.78 169.11L788.38 169.11L787.32 169.46L786.62 170.16L786.62 170.87L786.97 171.57L787.32 171.92L788.02 172.28L790.14 172.98L790.84 173.33L791.19 173.68L791.54 174.39L791.54 175.44L790.84 176.15L789.78 176.50L788.38 176.50L787.32 176.15L786.62 175.44M773.24 242.11L777.11 242.11L775.00 244.92L776.06 244.92L776.76 245.28L777.11 245.63L777.46 246.68L777.46 247.39L777.11 248.44L776.41 249.15L775.35 249.50L774.30 249.50L773.24 249.15L772.89 248.80L772.54 248.09M783.10 242.11L779.58 247.04L784.86 247.04M783.10 242.11L783.10 249.50M791.54 243.16L790.84 242.46L789.78 242.11L788.38 242.11L787.32 242.46L786.62 243.16L786.62 243.87L786.97 244.57L787.32 244.92L788.02 245.28L790.14 245.98L790.84 246.33L791.19 246.68L791.54 247.39L791.54 248.44L790.84 249.15L789.78 249.50L788.38 249.50L787.32 249.15L786.62 248.44M773.24 315.11L777.11 315.11L775.00 317.92L776.06 317.92L776.76 318.28L777.11 318.63L777.46 319.68L777.46 320.39L777.11 321.44L776.41 322.15L775.35 322.50L774.30 322.50L773.24 322.15L772.89 321.80L772.54 321.09M783.80 315.11L780.28 315.11L779.93 318.28L780.28 317.92L781.34 317.57L782.39 317.57L783.45 317.92L784.15 318.63L784.50 319.68L784.50 320.39L784.15 321.44L783.45 322.15L782.39 322.50L781.34 322.50L780.28 322.15L779.93 321.80L779.58 321.09M791.54 316.16L790.84 315.46L789.78 315.11L788.38 315.11L787.32 315.46L786.62 316.16L786.62 316.87L786.97 317.57L787.32 317.92L788.02 318.28L790.14 318.98L790.84 319.33L791.19 319.68L791.54 320.39L791.54 321.44L790.84 322.15L789.78 322.50L788.38 322.50L787.32 322.15L786.62 321.44M773.24 388.11L777.11 388.11L775.00 390.92L776.06 390.92L776.76 391.28L777.11 391.63L777.46 392.68L777.46 393.39L777.11 394.44L776.41 395.15L775.35 395.50L774.30 395.50L773.24 395.15L772.89 394.80L772.54 394.09M784.15 389.16L783.80 388.46L782.74 388.11L782.04 388.11L780.98 388.46L780.28 389.52L779.93 391.28L779.93 393.04L780.28 394.44L780.98 395.15L782.04 395.50L782.39 395.50L783.45 395.15L784.15 394.44L784.50 393.39L784.50 393.04L784.15 391.98L783.45 391.28L782.39 390.92L782.04 390.92L780.98 391.28L780.28 391.98L779.93 393.04M791.54 389.16L790.84 388.46L789.78 388.11L788.38 388.11L787.32 388.46L786.62 389.16L786.62 389.87L786.97 390.57L787.32 390.92L788.02 391.28L790.14 391.98L790.84 392.33L791.19 392.68L791.54 393.39L791.54 394.44L790.84 395.15L789.78 395.50L788.38 395.50L787.32 395.15L786.62 394.44M773.24 460.11L777.11 460.11L775.00 462.92L776.06 462.92L776.76 463.28L777.11 463.63L777.46 464.68L777.46 465.39L777.11 466.44L776.41 467.15L775.35 467.50L774.30 467.50L773.24 467.15L772.89 466.80L772.54 466.09M784.50 460.11L780.98 467.50M779.58 460.11L784.50 460.11M791.54 461.16L790.84 460.46L789.78 460.11L788.38 460.11L787.32 460.46L786.62 461.16L786.62 461.87L786.97 462.57L787.32 462.92L788.02 463.28L790.14 463.98L790.84 464.33L791.19 464.68L791.54 465.39L791.54 466.44L790.84 467.15L789.78 467.50L788.38 467.50L787.32 467.15L786.62 466.44M773.24 533.11L777.11 533.11L775.00 535.92L776.06 535.92L776.76 536.28L777.11 536.63L777.46 537.68L777.46 538.39L777.11 539.44L776.41 540.15L775.35 540.50L774.30 540.50L773.24 540.15L772.89 539.80L772.54 539.09M781.34 533.11L780.28 533.46L779.93 534.16L779.93 534.87L780.28 535.57L780.98 535.92L782.39 536.28L783.45 536.63L784.15 537.33L784.50 538.04L784.50 539.09L784.15 539.80L783.80 540.15L782.74 540.50L781.34 540.50L780.28 540.15L779.93 539.80L779.58 539.09L779.58 538.04L779.93 537.33L780.63 536.63L781.69 536.28L783.10 535.92L783.80 535.57L784.15 534.87L784.15 534.16L783.80 533.46L782.74 533.11L781.34 533.11M791.54 534.16L790.84 533.46L789.78 533.11L788.38 533.11L787.32 533.46L786.62 534.16L786.62 534.87L786.97 535.57L787.32 535.92L788.02 536.28L790.14 536.98L790.84 537.33L791.19 537.68L791.54 538.39L791.54 539.44L790.84 540.15L789.78 540.50L788.38 540.50L787.32 540.15L786.62 539.44M773.24 606.11L777.11 606.11L775.00 608.92L776.06 608.92L776.76 609.28L777.11 609.63L777.46 610.68L777.46 611.39L777.11 612.44L776.41 613.15L775.35 613.50L774.30 613.50L773.24 613.15L772.89 612.80L772.54 612.09M784.15 608.57L783.80 609.63L783.10 610.33L782.04 610.68L781.69 610.68L780.63 610.33L779.93 609.63L779.58 608.57L779.58 608.22L779.93 607.16L780.63 606.46L781.69 606.11L782.04 606.11L783.10 606.46L783.80 607.16L784.15 608.57L784.15 610.33L783.80 612.09L783.10 613.15L782.04 613.50L781.34 613.50L780.28 613.15L779.93 612.44M791.54 607.16L790.84 606.46L789.78 606.11L788.38 606.11L787.32 606.46L786.62 607.16L786.62 607.87L786.97 608.57L787.32 608.92L788.02 609.28L790.14 609.98L790.84 610.33L791.19 610.68L791.54 611.39L791.54 612.44L790.84 613.15L789.78 613.50L788.38 613.50L787.32 613.15L786.62 612.44M776.06 678.11L772.54 683.04L777.82 683.04M776.06 678.11L776.06 685.50M781.69 678.11L780.63 678.46L779.93 679.52L779.58 681.28L779.58 682.33L779.93 684.09L780.63 685.15L781.69 685.50L782.39 685.50L783.45 685.15L784.15 684.09L784.50 682.33L784.50 681.28L784.15 679.52L783.45 678.46L782.39 678.11L781.69 678.11M791.54 679.16L790.84 678.46L789.78 678.11L788.38 678.11L787.32 678.46L786.62 679.16L786.62 679.87L786.97 680.57L787.32 680.92L788.02 681.28L790.14 681.98L790.84 682.33L791.19 682.68L791.54 683.39L791.54 684.44L790.84 685.15L789.78 685.50L788.38 685.50L787.32 685.15L786.62 684.44M776.06 751.11L772.54 756.04L777.82 756.04M776.06 751.11L776.06 758.50M780.63 752.52L781.34 752.16L782.39 751.11L782.39 758.50M791.54 752.16L790.84 751.46L789.78 751.11L788.38 751.11L787.32 751.46L786.62 752.16L786.62 752.87L786.97 753.57L787.32 753.92L788.02 754.28L790.14 754.98L790.84 755.33L791.19 755.68L791.54 756.39L791.54 757.44L790.84 758.15L789.78 758.50L788.38 758.50L787.32 758.15L786.62 757.44" fill="none" stroke="#807878" stroke-width="0.95" stroke-linecap="round" stroke-linejoin="round"/>
<path transform="translate(15.1,743.2) rotate(90)" d="M5.63 -6.34L5.28 -7.04L4.22 -7.39L3.52 -7.39L2.46 -7.04L1.76 -5.98L1.41 -4.22L1.41 -2.46L1.76 -1.06L2.46 -0.35L3.52 0.00L3.87 0.00L4.93 -0.35L5.63 -1.06L5.98 -2.11L5.98 -2.46L5.63 -3.52L4.93 -4.22L3.87 -4.58L3.52 -4.58L2.46 -4.22L1.76 -3.52L1.41 -2.46M9.15 -5.98L9.86 -6.34L10.91 -7.39L10.91 0.00M14.78 -7.39L16.54 0.00M18.30 -7.39L16.54 0.00M18.30 -7.39L20.06 0.00M21.82 -7.39L20.06 0.00" fill="none" stroke="#807878" stroke-width="0.95" stroke-linecap="round" stroke-linejoin="round"/>
<path transform="translate(87.1,743.2) rotate(90)" d="M5.63 -6.34L5.28 -7.04L4.22 -7.39L3.52 -7.39L2.46 -7.04L1.76 -5.98L1.41 -4.22L1.41 -2.46L1.76 -1.06L2.46 -0.35L3.52 0.00L3.87 0.00L4.93 -0.35L5.63 -1.06L5.98 -2.11L5.98 -2.46L5.63 -3.52L4.93 -4.22L3.87 -4.58L3.52 -4.58L2.46 -4.22L1.76 -3.52L1.41 -2.46M10.21 -7.39L9.15 -7.04L8.45 -5.98L8.10 -4.22L8.10 -3.17L8.45 -1.41L9.15 -0.35L10.21 0.00L10.91 0.00L11.97 -0.35L12.67 -1.41L13.02 -3.17L13.02 -4.22L12.67 -5.98L11.97 -7.04L10.91 -7.39L10.21 -7.39M14.78 -7.39L16.54 0.00M18.30 -7.39L16.54 0.00M18.30 -7.39L20.06 0.00M21.82 -7.39L20.06 0.00" fill="none" stroke="#807878" stroke-width="0.95" stroke-linecap="round" stroke-linejoin="round"/>
<path transform="translate(160.1,743.2) rotate(90)" d="M5.28 -7.39L1.76 -7.39L1.41 -4.22L1.76 -4.58L2.82 -4.93L3.87 -4.93L4.93 -4.58L5.63 -3.87L5.98 -2.82L5.98 -2.11L5.63 -1.06L4.93 -0.35L3.87 0.00L2.82 0.00L1.76 -0.35L1.41 -0.70L1.06 -1.41M12.67 -4.93L12.32 -3.87L11.62 -3.17L10.56 -2.82L10.21 -2.82L9.15 -3.17L8.45 -3.87L8.10 -4.93L8.10 -5.28L8.45 -6.34L9.15 -7.04L10.21 -7.39L10.56 -7.39L11.62 -7.04L12.32 -6.34L12.67 -4.93L12.67 -3.17L12.32 -1.41L11.62 -0.35L10.56 0.00L9.86 0.00L8.80 -0.35L8.45 -1.06M14.78 -7.39L16.54 0.00M18.30 -7.39L16.54 0.00M18.30 -7.39L20.06 0.00M21.82 -7.39L20.06 0.00" fill="none" stroke="#807878" stroke-width="0.95" stroke-linecap="round" stroke-linejoin="round"/>
<path transform="translate(233.1,743.2) rotate(90)" d="M5.28 -7.39L1.76 -7.39L1.41 -4.22L1.76 -4.58L2.82 -4.93L3.87 -4.93L4.93 -4.58L5.63 -3.87L5.98 -2.82L5.98 -2.11L5.63 -1.06L4.93 -0.35L3.87 0.00L2.82 0.00L1.76 -0.35L1.41 -0.70L1.06 -1.41M9.86 -7.39L8.80 -7.04L8.45 -6.34L8.45 -5.63L8.80 -4.93L9.50 -4.58L10.91 -4.22L11.97 -3.87L12.67 -3.17L13.02 -2.46L13.02 -1.41L12.67 -0.70L12.32 -0.35L11.26 0.00L9.86 0.00L8.80 -0.35L8.45 -0.70L8.10 -1.41L8.10 -2.46L8.45 -3.17L9.15 -3.87L10.21 -4.22L11.62 -4.58L12.32 -4.93L12.67 -5.63L12.67 -6.34L12.32 -7.04L11.26 -7.39L9.86 -7.39M14.78 -7.39L16.54 0.00M18.30 -7.39L16.54 0.00M18.30 -7.39L20.06 0.00M21.82 -7.39L20.06 0.00" fill="none" stroke="#807878" stroke-width="0.95" stroke-linecap="round" stroke-linejoin="round"/>
<path transform="translate(305.1,743.2) rotate(90)" d="M5.28 -7.39L1.76 -7.39L1.41 -4.22L1.76 -4.58L2.82 -4.93L3.87 -4.93L4.93 -4.58L5.63 -3.87L5.98 -2.82L5.98 -2.11L5.63 -1.06L4.93 -0.35L3.87 0.00L2.82 0.00L1.76 -0.35L1.41 -0.70L1.06 -1.41M13.02 -7.39L9.50 0.00M8.10 -7.39L13.02 -7.39M14.78 -7.39L16.54 0.00M18.30 -7.39L16.54 0.00M18.30 -7.39L20.06 0.00M21.82 -7.39L20.06 0.00" fill="none" stroke="#807878" stroke-width="0.95" stroke-linecap="round" stroke-linejoin="round"/>
<path transform="translate(378.1,743.2) rotate(90)" d="M5.28 -7.39L1.76 -7.39L1.41 -4.22L1.76 -4.58L2.82 -4.93L3.87 -4.93L4.93 -4.58L5.63 -3.87L5.98 -2.82L5.98 -2.11L5.63 -1.06L4.93 -0.35L3.87 0.00L2.82 0.00L1.76 -0.35L1.41 -0.70L1.06 -1.41M12.67 -6.34L12.32 -7.04L11.26 -7.39L10.56 -7.39L9.50 -7.04L8.80 -5.98L8.45 -4.22L8.45 -2.46L8.80 -1.06L9.50 -0.35L10.56 0.00L10.91 0.00L11.97 -0.35L12.67 -1.06L13.02 -2.11L13.02 -2.46L12.67 -3.52L11.97 -4.22L10.91 -4.58L10.56 -4.58L9.50 -4.22L8.80 -3.52L8.45 -2.46M14.78 -7.39L16.54 0.00M18.30 -7.39L16.54 0.00M18.30 -7.39L20.06 0.00M21.82 -7.39L20.06 0.00" fill="none" stroke="#807878" stroke-width="0.95" stroke-linecap="round" stroke-linejoin="round"/>
<path transform="translate(451.1,743.2) rotate(90)" d="M5.28 -7.39L1.76 -7.39L1.41 -4.22L1.76 -4.58L2.82 -4.93L3.87 -4.93L4.93 -4.58L5.63 -3.87L5.98 -2.82L5.98 -2.11L5.63 -1.06L4.93 -0.35L3.87 0.00L2.82 0.00L1.76 -0.35L1.41 -0.70L1.06 -1.41M12.32 -7.39L8.80 -7.39L8.45 -4.22L8.80 -4.58L9.86 -4.93L10.91 -4.93L11.97 -4.58L12.67 -3.87L13.02 -2.82L13.02 -2.11L12.67 -1.06L11.97 -0.35L10.91 0.00L9.86 0.00L8.80 -0.35L8.45 -0.70L8.10 -1.41M14.78 -7.39L16.54 0.00M18.30 -7.39L16.54 0.00M18.30 -7.39L20.06 0.00M21.82 -7.39L20.06 0.00" fill="none" stroke="#807878" stroke-width="0.95" stroke-linecap="round" stroke-linejoin="round"/>
<path transform="translate(523.1,743.2) rotate(90)" d="M5.28 -7.39L1.76 -7.39L1.41 -4.22L1.76 -4.58L2.82 -4.93L3.87 -4.93L4.93 -4.58L5.63 -3.87L5.98 -2.82L5.98 -2.11L5.63 -1.06L4.93 -0.35L3.87 0.00L2.82 0.00L1.76 -0.35L1.41 -0.70L1.06 -1.41M11.62 -7.39L8.10 -2.46L13.38 -2.46M11.62 -7.39L11.62 0.00M14.78 -7.39L16.54 0.00M18.30 -7.39L16.54 0.00M18.30 -7.39L20.06 0.00M21.82 -7.39L20.06 0.00" fill="none" stroke="#807878" stroke-width="0.95" stroke-linecap="round" stroke-linejoin="round"/>
<path transform="translate(596.1,743.2) rotate(90)" d="M5.28 -7.39L1.76 -7.39L1.41 -4.22L1.76 -4.58L2.82 -4.93L3.87 -4.93L4.93 -4.58L5.63 -3.87L5.98 -2.82L5.98 -2.11L5.63 -1.06L4.93 -0.35L3.87 0.00L2.82 0.00L1.76 -0.35L1.41 -0.70L1.06 -1.41M8.80 -7.39L12.67 -7.39L10.56 -4.58L11.62 -4.58L12.32 -4.22L12.67 -3.87L13.02 -2.82L13.02 -2.11L12.67 -1.06L11.97 -0.35L10.91 0.00L9.86 0.00L8.80 -0.35L8.45 -0.70L8.10 -1.41M14.78 -7.39L16.54 0.00M18.30 -7.39L16.54 0.00M18.30 -7.39L20.06 0.00M21.82 -7.39L20.06 0.00" fill="none" stroke="#807878" stroke-width="0.95" stroke-linecap="round" stroke-linejoin="round"/>
<path transform="translate(669.1,743.2) rotate(90)" d="M5.28 -7.39L1.76 -7.39L1.41 -4.22L1.76 -4.58L2.82 -4.93L3.87 -4.93L4.93 -4.58L5.63 -3.87L5.98 -2.82L5.98 -2.11L5.63 -1.06L4.93 -0.35L3.87 0.00L2.82 0.00L1.76 -0.35L1.41 -0.70L1.06 -1.41M8.45 -5.63L8.45 -5.98L8.80 -6.69L9.15 -7.04L9.86 -7.39L11.26 -7.39L11.97 -7.04L12.32 -6.69L12.67 -5.98L12.67 -5.28L12.32 -4.58L11.62 -3.52L8.10 0.00L13.02 0.00M14.78 -7.39L16.54 0.00M18.30 -7.39L16.54 0.00M18.30 -7.39L20.06 0.00M21.82 -7.39L20.06 0.00" fill="none" stroke="#807878" stroke-width="0.95" stroke-linecap="round" stroke-linejoin="round"/>
<path transform="translate(742.1,743.2) rotate(90)" d="M5.28 -7.39L1.76 -7.39L1.41 -4.22L1.76 -4.58L2.82 -4.93L3.87 -4.93L4.93 -4.58L5.63 -3.87L5.98 -2.82L5.98 -2.11L5.63 -1.06L4.93 -0.35L3.87 0.00L2.82 0.00L1.76 -0.35L1.41 -0.70L1.06 -1.41M9.15 -5.98L9.86 -6.34L10.91 -7.39L10.91 0.00M14.78 -7.39L16.54 0.00M18.30 -7.39L16.54 0.00M18.30 -7.39L20.06 0.00M21.82 -7.39L20.06 0.00" fill="none" stroke="#807878" stroke-width="0.95" stroke-linecap="round" stroke-linejoin="round"/>
<rect x="32.5" y="160.5" width="48" height="608" fill="#fff" stroke="#000" stroke-width="1" shape-rendering="crispEdges"/>
<rect x="34" y="162" width="45" height="605" fill="url(#cb)"/>
<path d="M35.30 135.40L35.30 150.63M35.30 135.40L38.64 135.40M35.30 150.63L38.64 150.63M41.97 140.64L41.97 147.30M41.97 142.54L43.40 141.11L44.35 140.64L45.78 140.64L46.73 141.11L47.20 142.54L47.20 147.30M47.20 142.54L48.63 141.11L49.58 140.64L51.01 140.64L51.96 141.11L52.44 142.54L52.44 147.30M63.86 135.40L55.30 150.63M71.48 142.06L71.00 141.11L69.58 140.64L68.15 140.64L66.72 141.11L66.24 142.06L66.72 143.02L67.67 143.49L70.05 143.97L71.00 144.44L71.48 145.40L71.48 145.87L71.00 146.82L69.58 147.30L68.15 147.30L66.72 146.82L66.24 145.87M77.67 135.40L77.67 150.63M74.34 135.40L77.67 135.40M74.34 150.63L77.67 150.63M87.88 154.70L93.12 154.70L90.26 158.51L91.69 158.51L92.64 158.99L93.12 159.46L93.59 160.89L93.59 161.84L93.12 163.27L92.16 164.22L90.74 164.70L89.31 164.70L87.88 164.22L87.40 163.75L86.93 162.80M99.30 154.70L97.88 155.18L96.92 156.61L96.45 158.99L96.45 160.42L96.92 162.80L97.88 164.22L99.30 164.70L100.26 164.70L101.68 164.22L102.64 162.80L103.11 160.42L103.11 158.99L102.64 156.61L101.68 155.18L100.26 154.70L99.30 154.70M87.40 309.08L87.40 308.61L87.88 307.66L88.36 307.18L89.31 306.70L91.21 306.70L92.16 307.18L92.64 307.66L93.12 308.61L93.12 309.56L92.64 310.51L91.69 311.94L86.93 316.70L93.59 316.70M96.92 309.08L96.92 308.61L97.40 307.66L97.88 307.18L98.83 306.70L100.73 306.70L101.68 307.18L102.16 307.66L102.64 308.61L102.64 309.56L102.16 310.51L101.21 311.94L96.45 316.70L103.11 316.70M88.36 460.61L89.31 460.13L90.74 458.70L90.74 468.70M102.16 458.70L97.40 458.70L96.92 462.99L97.40 462.51L98.83 462.04L100.26 462.04L101.68 462.51L102.64 463.46L103.11 464.89L103.11 465.84L102.64 467.27L101.68 468.22L100.26 468.70L98.83 468.70L97.40 468.22L96.92 467.75L96.45 466.80M89.31 610.70L87.88 611.18L87.40 612.13L87.40 613.08L87.88 614.04L88.83 614.51L90.74 614.99L92.16 615.46L93.12 616.42L93.59 617.37L93.59 618.80L93.12 619.75L92.64 620.22L91.21 620.70L89.31 620.70L87.88 620.22L87.40 619.75L86.93 618.80L86.93 617.37L87.40 616.42L88.36 615.46L89.78 614.99L91.69 614.51L92.64 614.04L93.12 613.08L93.12 612.13L92.64 611.18L91.21 610.70L89.31 610.70M89.78 762.70L88.36 763.18L87.40 764.61L86.93 766.99L86.93 768.42L87.40 770.80L88.36 772.22L89.78 772.70L90.74 772.70L92.16 772.22L93.12 770.80L93.59 768.42L93.59 766.99L93.12 764.61L92.16 763.18L90.74 762.70L89.78 762.70" fill="none" stroke="#000" stroke-width="1" stroke-linecap="round" stroke-linejoin="round"/>
</svg></body></html>
